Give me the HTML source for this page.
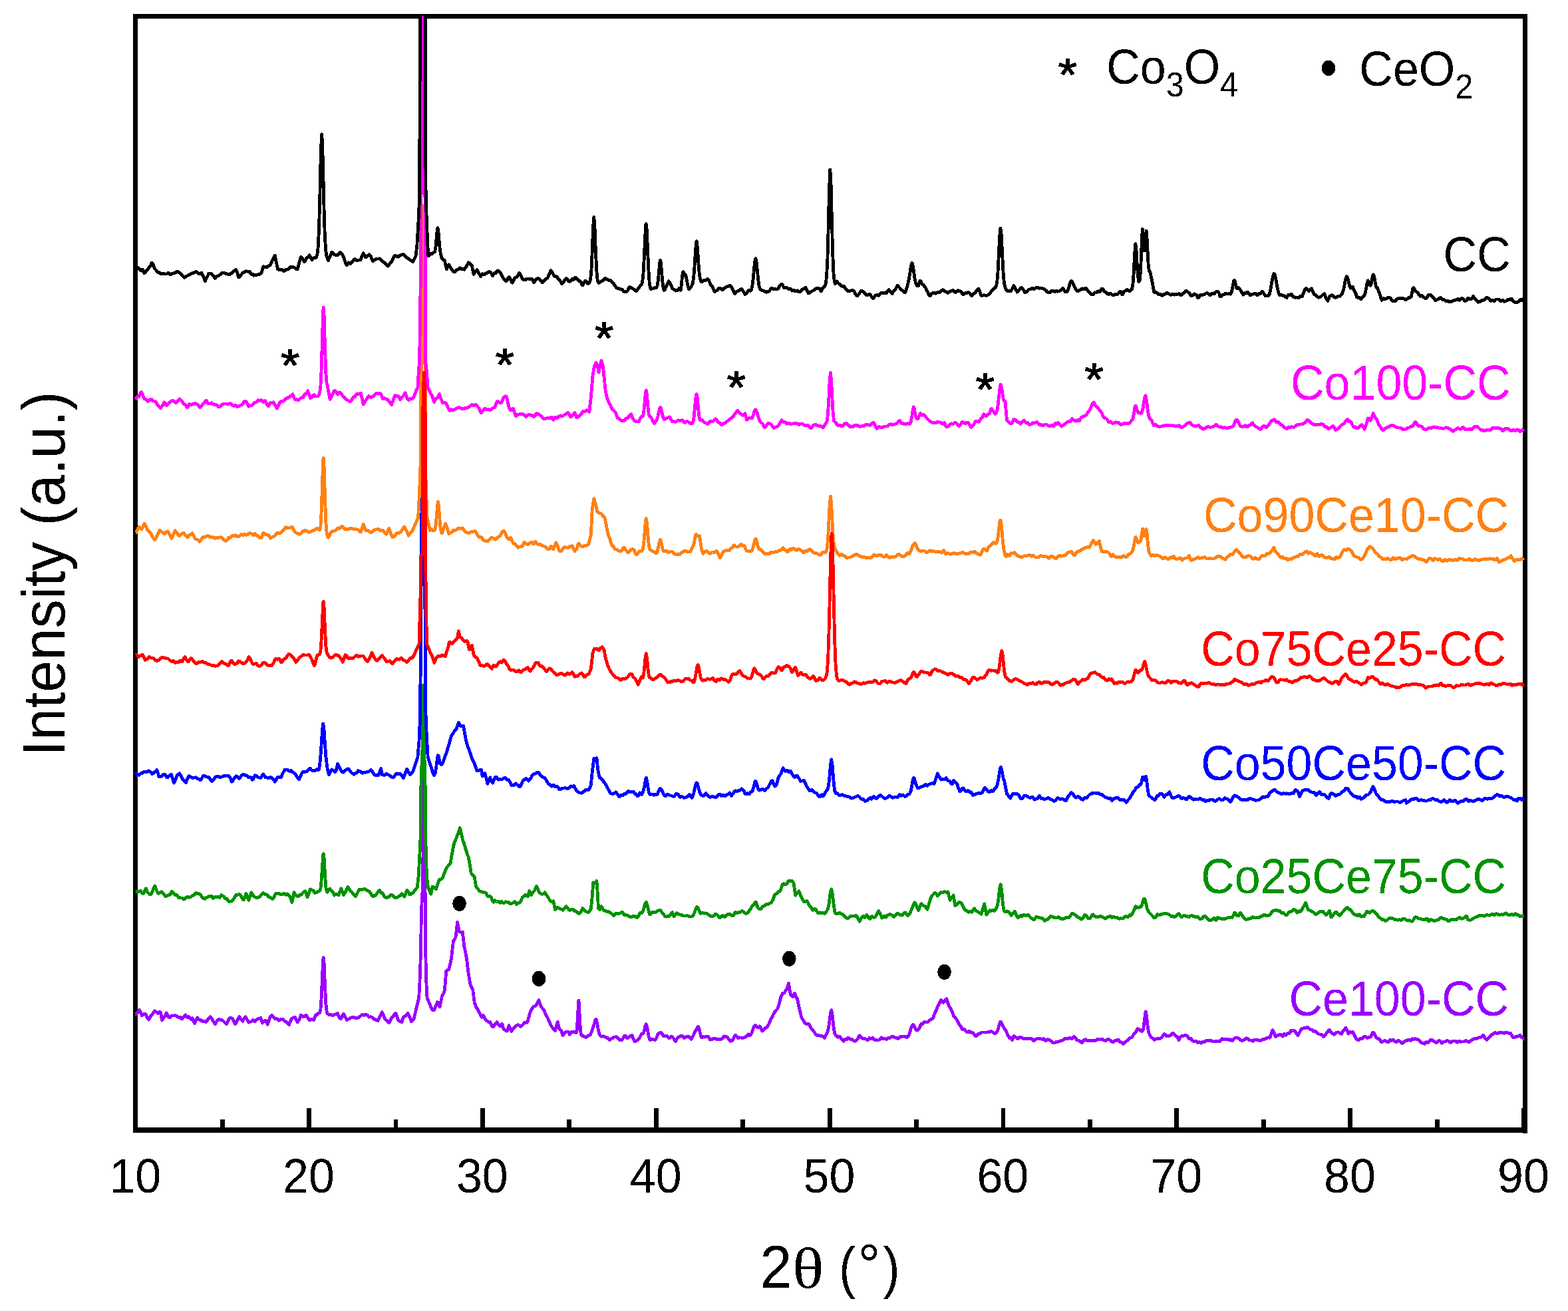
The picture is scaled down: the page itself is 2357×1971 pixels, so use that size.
<!DOCTYPE html>
<html lang="en"><head><meta charset="utf-8"><title>XRD patterns</title>
<style>html,body{margin:0;padding:0;background:#fff}svg{display:block}</style></head>
<body>
<svg width="2357" height="1971" viewBox="0 0 2357 1971">
<rect x="0" y="0" width="2357" height="1971" fill="#fff"/>
<defs><clipPath id="plot"><rect x="198" y="23.7" width="2096" height="1676"/></clipPath><filter id="crisp" x="-5%" y="-5%" width="110%" height="110%" color-interpolation-filters="sRGB"><feComponentTransfer><feFuncA type="discrete" tableValues="0 1"/></feComponentTransfer></filter></defs>
<g fill="#000" shape-rendering="crispEdges">
<rect x="200.26" y="21.00" width="7.0" height="1681.80"/>
<rect x="2289.00" y="21.00" width="7.0" height="1683.20"/>
<rect x="200.26" y="21.00" width="2095.74" height="7.0"/>
<rect x="200.26" y="1695.20" width="2095.74" height="7.6"/>
<rect x="200.31" y="1666.0" width="6.9" height="33.00"/>
<rect x="330.73" y="1683.0" width="6.9" height="16.00"/>
<rect x="461.15" y="1666.0" width="6.9" height="33.00"/>
<rect x="591.57" y="1683.0" width="6.9" height="16.00"/>
<rect x="721.99" y="1666.0" width="6.9" height="33.00"/>
<rect x="852.41" y="1683.0" width="6.9" height="16.00"/>
<rect x="982.83" y="1666.0" width="6.9" height="33.00"/>
<rect x="1113.25" y="1683.0" width="6.9" height="16.00"/>
<rect x="1243.67" y="1666.0" width="6.9" height="33.00"/>
<rect x="1374.09" y="1683.0" width="6.9" height="16.00"/>
<rect x="1504.51" y="1666.0" width="6.9" height="33.00"/>
<rect x="1634.93" y="1683.0" width="6.9" height="16.00"/>
<rect x="1765.35" y="1666.0" width="6.9" height="33.00"/>
<rect x="1895.77" y="1683.0" width="6.9" height="16.00"/>
<rect x="2026.19" y="1666.0" width="6.9" height="33.00"/>
<rect x="2156.61" y="1683.0" width="6.9" height="16.00"/>
<rect x="2287.03" y="1666.0" width="6.9" height="33.00"/>
</g>
<g clip-path="url(#plot)" fill="none" stroke-linejoin="round" stroke-linecap="butt" shape-rendering="crispEdges">
<polyline points="203.8,1525.2 204.1,1525.3 205.1,1524.1 206.4,1522.5 207.7,1520.8 209.0,1518.8 209.3,1518.1 210.3,1519.8 211.6,1522.4 212.9,1526.0 213.1,1526.7 214.2,1526.3 215.5,1525.4 216.8,1524.2 217.0,1523.9 218.1,1524.2 219.4,1525.5 220.7,1528.9 222.0,1531.6 223.3,1532.9 223.4,1533.1 224.6,1531.3 225.9,1528.8 227.2,1526.7 228.5,1525.4 228.6,1525.3 229.8,1523.6 231.1,1521.9 232.4,1519.9 232.4,1519.8 233.7,1520.5 235.0,1521.5 236.3,1522.8 237.6,1523.9 237.6,1523.9 238.9,1522.2 240.2,1521.2 241.4,1521.7 241.5,1521.9 242.8,1530.0 243.5,1533.9 244.1,1533.0 245.4,1531.2 246.7,1529.6 248.0,1527.6 249.3,1524.8 250.4,1522.9 250.6,1523.2 251.9,1526.6 253.2,1529.0 254.5,1529.3 255.6,1529.7 255.8,1529.5 257.1,1527.8 258.4,1526.8 259.7,1527.0 260.7,1526.9 261.0,1526.9 262.3,1526.8 263.6,1526.9 264.9,1527.3 265.9,1527.7 266.2,1528.0 267.5,1529.2 268.8,1529.8 270.1,1529.1 271.4,1529.5 272.3,1531.4 272.7,1531.7 274.0,1531.9 275.3,1529.9 276.6,1528.1 277.9,1526.9 278.7,1526.0 279.2,1526.7 280.5,1528.6 281.8,1529.7 283.1,1528.7 284.4,1528.7 285.1,1530.0 285.7,1530.9 287.0,1532.2 288.3,1531.4 289.0,1530.9 289.6,1532.0 290.9,1535.0 292.2,1537.7 292.9,1538.7 293.5,1536.7 294.8,1533.1 296.1,1530.9 296.7,1529.8 297.4,1530.9 298.7,1532.4 300.0,1533.4 301.3,1533.3 302.6,1533.9 303.1,1534.9 303.9,1535.4 305.2,1536.0 306.5,1535.6 307.8,1535.5 309.1,1536.3 309.6,1536.6 310.4,1535.8 311.7,1533.9 313.0,1532.1 314.3,1530.4 315.6,1529.0 316.0,1528.6 316.9,1529.3 318.2,1530.7 319.5,1533.2 320.8,1535.7 322.1,1538.0 323.4,1539.5 323.7,1539.5 324.7,1537.6 326.0,1535.2 327.3,1533.4 328.6,1532.2 329.9,1532.5 330.1,1532.6 331.2,1533.7 332.5,1533.5 333.8,1533.5 334.0,1533.7 335.1,1534.7 336.4,1535.9 337.7,1537.3 339.0,1538.6 340.3,1539.7 340.4,1539.8 341.6,1537.4 342.9,1534.7 344.2,1531.7 344.3,1531.4 345.5,1530.5 346.8,1530.0 348.1,1531.0 349.4,1531.4 349.4,1531.4 350.7,1533.5 352.0,1536.1 353.3,1539.5 353.3,1539.5 354.6,1538.3 355.9,1535.7 357.2,1533.1 358.5,1530.6 359.7,1528.7 359.8,1528.8 361.1,1530.6 362.4,1532.4 363.7,1534.2 364.9,1535.3 365.0,1535.1 366.3,1532.5 367.6,1530.1 368.7,1528.7 368.9,1528.9 370.2,1530.9 371.5,1533.0 372.8,1535.1 373.9,1537.1 374.1,1537.0 375.4,1536.4 376.7,1536.2 378.0,1535.5 379.3,1534.2 380.3,1533.3 380.6,1533.6 381.9,1535.1 383.2,1535.6 384.5,1534.1 385.4,1533.1 385.8,1532.9 387.1,1532.1 388.4,1531.5 389.7,1531.3 391.0,1530.9 391.9,1530.2 392.3,1531.6 393.6,1535.9 394.4,1538.1 394.9,1537.4 396.2,1535.8 397.5,1535.2 398.8,1534.5 399.6,1534.1 400.1,1535.4 401.4,1538.7 402.1,1540.2 402.7,1538.9 404.0,1535.3 405.3,1531.4 406.6,1528.3 407.9,1527.0 408.6,1526.3 409.2,1527.2 410.5,1528.7 411.8,1530.0 413.1,1531.0 413.7,1531.5 414.4,1531.6 415.7,1531.7 417.0,1532.2 418.3,1533.7 418.9,1534.3 419.6,1534.1 420.9,1533.3 422.2,1532.7 423.5,1532.3 424.8,1532.3 425.3,1532.5 426.1,1533.5 427.4,1534.9 428.7,1535.7 430.0,1536.3 430.4,1536.3 431.3,1537.1 432.6,1538.4 433.9,1540.1 434.3,1540.6 435.2,1538.5 436.5,1535.6 437.8,1532.5 438.1,1531.5 439.1,1530.9 440.4,1530.3 441.7,1529.9 443.0,1529.4 443.3,1529.3 444.3,1530.9 445.6,1533.4 446.9,1536.4 447.1,1537.0 448.2,1535.1 449.5,1533.4 450.8,1530.9 452.1,1526.7 452.3,1526.0 453.4,1526.8 454.7,1527.7 456.0,1528.9 456.1,1529.1 457.3,1528.3 458.6,1527.3 459.9,1526.1 460.0,1526.0 461.2,1527.6 462.5,1530.0 463.8,1532.2 465.1,1533.8 465.1,1533.9 466.4,1533.6 467.7,1532.4 469.0,1531.9 470.3,1533.2 471.6,1533.8 472.9,1530.1 474.2,1527.0 475.4,1525.3 475.5,1525.4 476.8,1525.4 478.1,1523.9 479.4,1522.8 480.6,1522.3 480.7,1522.2 482.0,1516.9 483.3,1497.7 484.6,1465.2 485.9,1441.0 486.2,1439.7 487.2,1449.3 488.5,1481.4 489.8,1508.6 491.1,1520.7 492.1,1523.8 492.4,1524.1 493.7,1525.2 495.0,1525.6 496.3,1525.4 497.3,1525.5 497.6,1525.6 498.9,1526.2 500.2,1526.5 501.5,1526.0 502.8,1525.6 504.1,1524.9 505.4,1524.4 506.7,1523.9 507.6,1523.6 508.0,1524.7 509.3,1528.2 510.6,1530.8 511.9,1531.3 512.7,1531.7 513.2,1530.6 514.5,1527.7 515.8,1525.2 516.6,1524.2 517.1,1525.5 518.4,1528.3 519.7,1530.2 521.0,1532.2 521.7,1533.5 522.3,1533.0 523.6,1532.1 524.9,1531.7 526.2,1531.0 526.9,1530.4 527.5,1530.2 528.8,1529.7 530.1,1529.3 531.4,1529.0 532.0,1529.1 532.7,1529.5 534.0,1530.2 535.3,1530.3 536.6,1530.3 537.9,1530.2 538.4,1530.2 539.2,1529.5 540.5,1528.6 541.8,1527.7 543.1,1526.5 544.4,1525.6 544.9,1525.4 545.7,1525.9 547.0,1526.2 548.3,1525.7 549.6,1525.3 550.0,1525.3 550.9,1525.4 552.2,1526.1 553.5,1528.0 554.8,1529.2 556.1,1528.9 557.4,1528.8 557.7,1528.9 558.7,1528.9 560.0,1529.6 561.3,1531.6 562.6,1532.9 563.9,1532.7 565.2,1533.0 566.5,1534.2 567.8,1535.1 568.0,1535.0 569.1,1532.6 570.4,1529.6 571.7,1526.9 573.0,1524.3 574.3,1521.9 574.4,1521.6 575.6,1524.3 576.9,1527.8 578.2,1531.2 578.3,1531.5 579.5,1532.9 580.8,1534.2 582.1,1535.1 583.4,1536.3 584.7,1537.9 584.7,1538.0 586.0,1535.7 587.3,1532.7 588.6,1530.1 589.9,1528.9 589.9,1528.9 591.2,1527.9 592.5,1525.4 593.8,1523.6 595.0,1523.4 595.1,1523.6 596.4,1527.5 597.7,1531.2 598.9,1534.4 599.0,1534.4 600.3,1535.0 601.6,1535.6 602.9,1536.4 604.0,1536.6 604.2,1536.0 605.5,1531.7 606.8,1528.5 607.9,1528.0 608.1,1528.0 609.4,1527.5 610.7,1526.1 612.0,1524.7 613.0,1523.3 613.3,1524.0 614.6,1527.1 615.9,1529.4 617.2,1532.4 618.1,1535.7 618.5,1535.4 619.8,1534.1 621.1,1532.9 622.0,1531.9 629.7,1500.0 630.9,1478.0 632.5,1432.0 633.4,1370.0 635.0,1341.0 635.4,1300.0 636.0,1287.0 636.1,1164.0 636.1,1164.0 636.0,1287.0 637.6,1300.0 639.1,1341.0 639.6,1370.0 639.7,1432.0 640.9,1478.0 642.0,1500.0 649.0,1516.8 650.3,1518.3 651.6,1519.1 652.8,1518.7 652.9,1518.5 654.2,1514.6 655.5,1511.5 656.8,1508.4 657.5,1506.7 658.1,1507.7 659.4,1510.3 660.7,1513.2 661.1,1514.1 662.0,1509.7 663.3,1503.1 664.4,1497.4 664.6,1497.2 665.9,1495.2 667.2,1492.7 668.3,1489.5 668.5,1486.8 669.8,1471.2 670.8,1459.5 671.1,1459.4 672.4,1458.6 673.7,1458.0 674.7,1457.5 675.0,1456.3 676.3,1450.8 677.6,1445.1 678.6,1440.3 678.9,1437.1 680.2,1425.2 681.5,1415.2 681.6,1414.0 682.8,1413.2 684.1,1410.9 685.0,1409.3 685.4,1405.7 686.7,1393.9 687.6,1386.1 688.0,1388.4 689.3,1395.5 690.1,1400.1 690.6,1400.4 691.9,1401.3 693.2,1401.8 694.5,1401.4 695.3,1401.2 695.8,1405.7 697.1,1416.7 697.8,1423.1 698.4,1425.7 699.7,1432.0 701.0,1438.8 701.7,1442.8 702.3,1448.2 703.6,1459.3 704.3,1464.4 704.9,1467.8 706.2,1475.5 706.8,1479.8 707.5,1481.6 708.8,1484.6 710.1,1486.7 710.7,1487.6 711.4,1493.2 712.7,1503.5 713.3,1508.2 714.0,1509.6 715.3,1512.9 716.6,1515.6 717.1,1515.9 717.9,1517.3 719.2,1519.6 720.5,1522.3 721.0,1523.3 721.8,1524.3 723.1,1527.6 724.4,1529.3 725.7,1527.4 726.1,1526.7 727.0,1527.1 728.3,1530.0 729.6,1532.4 730.9,1533.9 731.6,1534.6 732.2,1535.1 733.5,1535.9 734.8,1536.5 736.1,1536.6 736.7,1536.6 737.4,1537.8 738.7,1541.1 740.0,1543.5 741.3,1543.5 741.9,1543.5 742.6,1542.0 743.9,1540.2 745.2,1538.4 746.5,1537.1 747.0,1536.6 747.8,1537.8 749.1,1539.9 750.4,1541.6 751.7,1542.6 752.1,1542.9 753.0,1541.6 754.3,1540.0 754.7,1539.5 755.6,1542.4 756.9,1546.2 757.3,1547.3 758.2,1547.7 759.5,1548.9 760.8,1549.8 762.1,1550.1 762.4,1550.2 763.4,1546.7 764.7,1542.7 765.0,1541.8 766.0,1544.2 767.3,1547.4 768.6,1550.2 768.9,1550.6 769.9,1548.9 771.2,1547.0 772.5,1545.9 773.8,1544.4 774.0,1544.0 775.1,1542.9 776.4,1541.8 777.7,1541.1 779.0,1540.6 779.1,1540.5 780.3,1541.7 781.6,1542.8 782.9,1543.5 783.0,1543.5 784.2,1542.1 785.5,1541.0 786.8,1539.7 788.1,1537.8 788.1,1537.7 789.4,1537.2 790.7,1537.6 792.0,1537.2 793.3,1535.3 793.3,1535.3 794.6,1530.1 795.9,1525.7 797.1,1521.4 797.2,1521.3 798.5,1518.5 799.8,1516.1 801.1,1514.5 802.3,1513.0 802.4,1513.0 803.7,1513.0 805.0,1512.5 806.1,1511.3 806.3,1510.9 807.6,1507.8 808.9,1505.7 810.0,1503.9 810.2,1504.5 811.5,1508.4 812.8,1512.1 813.9,1514.4 814.1,1514.7 815.4,1515.9 816.7,1517.4 817.7,1518.7 818.0,1519.5 819.3,1523.0 820.6,1526.1 821.9,1528.2 822.9,1529.7 823.2,1530.4 824.5,1533.2 825.8,1536.1 827.1,1539.2 828.0,1541.4 828.4,1542.0 829.7,1544.1 831.0,1545.8 832.3,1546.9 833.6,1548.3 834.4,1549.6 834.9,1547.8 836.2,1543.1 837.5,1538.9 838.3,1536.3 838.8,1538.6 840.1,1544.1 840.9,1547.4 841.4,1547.8 842.7,1548.6 844.0,1550.4 845.3,1554.5 846.0,1556.6 846.6,1556.1 847.9,1554.0 849.2,1552.3 850.5,1551.4 851.1,1551.0 851.8,1551.2 853.1,1550.9 854.4,1551.5 855.7,1554.1 856.3,1555.3 857.0,1554.8 858.3,1552.7 859.6,1551.1 860.1,1550.9 860.9,1551.4 862.2,1552.0 863.5,1551.9 864.8,1552.2 865.3,1552.7 866.1,1552.9 867.4,1547.2 868.7,1522.5 869.9,1504.1 870.0,1504.2 871.3,1527.1 872.6,1550.4 873.9,1556.4 874.3,1556.8 875.2,1557.3 876.5,1557.5 877.8,1558.0 879.1,1559.0 880.4,1559.6 881.7,1559.1 882.0,1558.9 883.0,1557.9 884.3,1556.9 885.6,1556.2 886.9,1556.2 887.1,1556.2 888.2,1553.8 889.5,1550.5 890.8,1546.3 891.0,1545.5 892.1,1543.8 893.4,1539.0 894.7,1533.5 895.6,1532.4 896.0,1532.5 897.3,1536.7 898.6,1543.9 899.9,1551.1 901.2,1555.3 901.3,1555.5 902.5,1557.2 903.8,1558.2 905.1,1558.0 906.4,1557.9 907.7,1558.2 907.7,1558.2 909.0,1558.6 910.3,1559.6 911.6,1560.2 912.9,1560.1 912.9,1560.2 914.2,1560.9 915.5,1562.5 916.7,1563.7 916.8,1563.6 918.1,1562.2 919.4,1561.1 920.7,1561.0 922.0,1560.4 923.1,1559.0 923.3,1559.0 924.6,1559.0 925.9,1558.8 927.2,1559.2 928.3,1560.5 928.5,1560.7 929.8,1562.2 931.1,1563.2 932.4,1563.8 933.7,1563.6 934.7,1563.5 935.0,1563.2 936.3,1561.5 937.6,1559.5 938.6,1557.3 938.9,1557.0 940.2,1557.1 941.5,1559.4 942.8,1560.7 944.1,1560.0 945.4,1559.2 946.3,1558.7 946.7,1558.2 948.0,1557.2 949.3,1557.0 950.1,1556.8 950.6,1557.9 951.9,1561.1 953.2,1564.1 954.0,1565.9 954.5,1565.9 955.8,1565.5 957.1,1564.3 958.4,1563.4 959.1,1563.2 959.7,1562.7 961.0,1561.0 962.3,1558.3 963.6,1555.8 964.3,1554.7 964.9,1554.7 966.2,1554.2 967.5,1552.6 968.8,1547.7 970.1,1541.6 971.2,1539.7 971.4,1539.8 972.7,1543.9 974.0,1551.7 975.3,1559.2 976.6,1563.2 977.9,1563.7 977.9,1563.7 979.2,1562.6 980.5,1562.5 981.8,1562.6 983.1,1563.0 984.4,1563.4 984.9,1563.4 985.7,1562.3 987.0,1560.0 988.3,1556.1 988.7,1554.7 989.6,1553.9 990.9,1553.5 992.2,1552.9 992.6,1552.5 993.5,1552.1 994.8,1553.3 996.1,1555.9 997.4,1557.4 998.7,1557.7 999.0,1557.7 1000.0,1557.7 1001.3,1557.3 1002.6,1557.6 1003.9,1559.3 1005.2,1560.8 1005.4,1561.0 1006.5,1560.6 1007.8,1559.8 1009.1,1558.3 1009.3,1558.0 1010.4,1558.8 1011.7,1560.1 1013.0,1561.8 1014.3,1564.0 1015.6,1565.4 1015.7,1565.4 1016.9,1563.0 1018.2,1560.8 1019.5,1559.7 1020.8,1558.8 1022.1,1558.4 1023.4,1557.7 1023.4,1557.7 1024.7,1557.4 1026.0,1557.7 1027.3,1559.4 1028.6,1560.4 1029.9,1559.8 1031.2,1559.2 1032.5,1558.5 1033.7,1558.1 1033.8,1558.1 1035.1,1558.2 1036.4,1559.0 1037.7,1561.3 1039.0,1562.2 1040.3,1559.9 1041.4,1558.3 1041.6,1558.0 1042.9,1555.2 1044.2,1552.3 1045.3,1549.5 1045.5,1549.5 1046.8,1548.0 1048.1,1544.6 1049.4,1543.0 1049.7,1543.1 1050.7,1545.7 1052.0,1551.5 1053.3,1556.7 1054.3,1559.2 1054.6,1559.4 1055.9,1559.2 1057.2,1558.8 1058.5,1559.2 1059.8,1559.0 1060.7,1558.2 1061.1,1558.3 1062.4,1558.5 1063.7,1558.2 1065.0,1558.9 1066.3,1561.5 1067.1,1563.1 1067.6,1563.1 1068.9,1562.9 1070.2,1562.5 1071.5,1561.8 1072.8,1561.4 1074.1,1561.4 1074.8,1561.4 1075.4,1561.6 1076.7,1562.4 1078.0,1562.9 1079.3,1562.7 1080.6,1562.6 1081.9,1562.6 1082.6,1562.6 1083.2,1562.3 1084.5,1562.3 1085.8,1561.6 1087.1,1559.4 1088.4,1557.9 1089.7,1558.0 1090.3,1558.1 1091.0,1558.7 1092.3,1558.8 1093.6,1559.6 1094.9,1561.7 1096.2,1563.6 1097.5,1564.9 1098.0,1565.4 1098.8,1565.0 1100.1,1564.9 1101.4,1563.9 1102.7,1560.8 1104.0,1558.1 1105.3,1556.6 1105.7,1556.1 1106.6,1557.1 1107.9,1558.8 1109.2,1560.4 1109.6,1560.7 1110.5,1560.3 1111.8,1559.9 1113.1,1560.0 1114.4,1560.2 1115.7,1560.6 1116.0,1560.7 1117.0,1560.4 1118.3,1559.9 1119.6,1559.4 1120.9,1559.2 1122.2,1558.4 1122.4,1558.0 1123.5,1556.0 1124.8,1554.9 1126.1,1556.3 1127.4,1556.9 1128.7,1555.7 1128.8,1555.5 1130.0,1552.9 1131.3,1549.1 1132.6,1545.1 1132.7,1544.7 1133.9,1542.6 1135.2,1541.3 1135.8,1541.8 1136.5,1542.6 1137.8,1544.1 1139.1,1544.8 1140.4,1544.6 1141.7,1543.0 1141.7,1543.0 1143.0,1544.2 1144.3,1547.5 1145.6,1550.2 1145.6,1550.1 1146.9,1548.9 1148.2,1547.7 1149.5,1546.2 1150.8,1545.2 1152.0,1545.1 1152.1,1545.0 1153.4,1543.4 1154.7,1541.4 1156.0,1539.0 1157.1,1536.1 1157.3,1535.7 1158.6,1532.6 1159.9,1530.4 1161.2,1528.0 1162.3,1525.4 1162.5,1524.9 1163.8,1522.7 1165.1,1520.8 1166.4,1519.1 1167.7,1517.8 1168.7,1516.8 1169.0,1516.0 1170.3,1512.0 1171.6,1507.8 1172.9,1502.8 1173.8,1499.2 1174.2,1498.4 1175.5,1495.4 1176.8,1493.3 1178.1,1493.1 1179.0,1493.0 1179.4,1492.2 1180.7,1489.5 1182.0,1487.5 1182.8,1487.4 1183.3,1485.8 1184.6,1481.1 1185.4,1478.1 1185.9,1481.2 1187.2,1489.2 1188.5,1495.6 1188.5,1495.6 1189.8,1496.6 1191.1,1497.8 1191.8,1498.5 1192.4,1497.3 1193.7,1494.5 1194.4,1493.0 1195.0,1494.2 1196.3,1497.7 1197.6,1500.4 1198.3,1500.9 1198.9,1503.6 1200.2,1509.7 1200.8,1513.1 1201.5,1515.9 1202.8,1521.4 1204.1,1526.9 1204.7,1529.4 1205.4,1530.7 1206.7,1532.6 1208.0,1534.7 1209.3,1537.2 1209.8,1538.2 1210.6,1538.6 1211.9,1539.3 1213.2,1539.6 1214.5,1539.2 1215.8,1539.6 1216.3,1540.4 1217.1,1541.8 1218.4,1544.1 1219.7,1546.4 1221.0,1548.3 1222.3,1549.5 1222.7,1549.9 1223.6,1551.1 1224.9,1553.1 1226.2,1554.9 1227.5,1556.2 1227.8,1556.5 1228.8,1556.5 1230.1,1556.6 1231.4,1556.9 1232.7,1557.3 1234.0,1557.2 1234.3,1557.0 1235.3,1557.2 1236.6,1557.9 1237.9,1559.5 1239.2,1560.8 1239.4,1560.9 1240.5,1558.0 1241.8,1555.3 1243.1,1553.8 1244.4,1550.1 1244.6,1549.2 1245.7,1544.1 1247.0,1534.3 1248.3,1523.5 1249.6,1518.6 1249.7,1518.6 1250.9,1524.2 1252.2,1536.4 1253.5,1547.4 1254.8,1553.8 1256.1,1556.1 1256.1,1556.2 1257.4,1557.1 1258.7,1558.5 1258.7,1558.5 1260.0,1559.2 1261.3,1558.5 1262.6,1558.6 1263.9,1560.6 1265.2,1562.1 1265.4,1562.2 1266.5,1563.6 1267.8,1565.1 1268.0,1565.2 1269.1,1563.4 1270.4,1562.1 1271.7,1563.0 1273.0,1562.9 1274.3,1560.5 1274.4,1560.3 1275.6,1560.2 1276.9,1561.7 1278.2,1562.6 1279.5,1562.4 1280.8,1562.7 1280.9,1562.8 1282.1,1563.9 1283.4,1564.8 1284.7,1565.2 1286.0,1565.1 1287.3,1563.9 1288.6,1563.1 1288.6,1563.0 1289.9,1560.4 1291.2,1558.2 1292.4,1557.0 1292.5,1557.1 1293.8,1558.7 1295.1,1560.1 1296.4,1561.1 1297.7,1561.1 1298.9,1561.2 1299.0,1561.2 1300.3,1561.6 1301.6,1562.2 1302.9,1563.5 1304.2,1563.8 1305.3,1562.5 1305.5,1562.1 1306.8,1560.5 1308.1,1561.3 1309.4,1561.6 1310.7,1560.6 1311.7,1560.0 1312.0,1560.4 1313.3,1562.1 1314.6,1563.3 1315.9,1563.3 1317.2,1563.4 1318.5,1563.8 1319.4,1564.1 1319.8,1564.0 1321.1,1563.5 1322.4,1562.7 1323.7,1561.0 1324.6,1559.8 1325.0,1560.2 1326.3,1561.3 1327.6,1562.1 1328.9,1561.8 1330.2,1561.8 1331.5,1562.2 1332.3,1562.5 1332.8,1562.1 1334.1,1561.1 1335.4,1560.5 1336.7,1560.8 1338.0,1560.5 1338.7,1559.7 1339.3,1559.3 1340.6,1558.5 1341.9,1558.5 1342.6,1558.5 1343.2,1558.9 1344.5,1559.6 1345.8,1560.1 1347.1,1560.1 1348.4,1560.6 1349.0,1561.4 1349.7,1561.3 1351.0,1560.9 1352.3,1559.8 1353.6,1558.7 1354.1,1558.3 1354.9,1558.4 1356.2,1558.4 1357.5,1558.1 1358.8,1558.0 1360.1,1558.2 1361.4,1558.6 1362.7,1559.5 1363.1,1559.9 1364.0,1559.2 1365.3,1558.2 1366.6,1555.7 1367.0,1554.1 1367.9,1551.0 1369.2,1546.4 1370.5,1543.3 1371.8,1541.1 1372.1,1540.7 1373.1,1540.6 1374.4,1542.8 1375.7,1546.3 1377.0,1548.6 1378.3,1549.1 1378.6,1549.1 1379.6,1548.4 1380.9,1547.6 1382.2,1545.8 1383.5,1542.0 1383.7,1541.4 1384.8,1539.4 1386.1,1539.6 1387.4,1539.2 1388.7,1537.6 1390.0,1536.3 1390.1,1536.2 1391.3,1536.7 1392.6,1537.0 1393.9,1536.6 1395.2,1536.4 1395.3,1536.4 1396.5,1534.9 1397.8,1533.6 1399.1,1532.8 1400.4,1532.0 1400.4,1532.0 1401.7,1531.5 1403.0,1529.8 1404.3,1525.4 1405.6,1522.5 1405.6,1522.5 1406.9,1519.8 1408.2,1516.7 1409.4,1513.0 1409.5,1512.9 1410.8,1510.8 1412.1,1508.3 1413.4,1505.8 1414.6,1503.6 1414.7,1503.7 1416.0,1505.1 1417.3,1506.2 1418.4,1507.3 1418.6,1507.0 1419.9,1505.0 1421.2,1503.2 1422.5,1502.0 1422.8,1501.7 1423.8,1505.0 1425.1,1508.7 1426.1,1511.6 1426.4,1512.0 1427.7,1514.3 1429.0,1516.6 1430.3,1519.0 1431.3,1520.8 1431.6,1521.7 1432.9,1525.6 1433.8,1528.4 1434.2,1528.7 1435.5,1529.8 1436.8,1531.1 1438.1,1532.9 1439.0,1534.1 1439.4,1535.0 1440.7,1538.0 1441.6,1540.0 1442.0,1540.5 1443.3,1542.0 1444.6,1543.7 1445.9,1546.2 1446.7,1547.8 1447.2,1547.7 1448.5,1547.4 1449.8,1547.7 1451.1,1549.5 1452.4,1551.0 1453.1,1551.4 1453.7,1551.7 1455.0,1551.8 1456.3,1550.7 1457.6,1550.4 1458.9,1551.9 1460.2,1552.7 1460.8,1552.5 1461.5,1552.4 1462.8,1553.0 1464.1,1555.1 1465.4,1556.8 1466.7,1557.5 1467.3,1557.8 1468.0,1557.1 1469.3,1555.6 1470.6,1554.5 1471.9,1554.5 1473.2,1554.0 1473.7,1553.3 1474.5,1552.8 1475.8,1552.1 1477.1,1552.0 1478.4,1551.9 1479.7,1551.9 1481.0,1552.1 1481.4,1552.1 1482.3,1552.1 1483.6,1552.0 1484.9,1551.6 1486.2,1551.3 1487.5,1551.3 1488.8,1551.0 1489.1,1550.8 1490.1,1550.7 1491.4,1551.0 1492.7,1552.3 1494.0,1553.3 1495.3,1553.8 1495.6,1553.9 1496.6,1553.7 1497.9,1552.5 1498.9,1551.3 1499.2,1550.7 1500.5,1546.7 1501.8,1541.4 1503.1,1537.3 1504.0,1536.2 1504.4,1536.1 1505.7,1538.6 1507.0,1542.3 1508.3,1543.7 1508.4,1543.7 1509.6,1546.1 1510.9,1547.9 1512.2,1549.9 1512.3,1550.1 1513.5,1552.9 1514.8,1555.8 1516.1,1558.6 1517.4,1560.4 1517.4,1560.4 1518.7,1559.9 1520.0,1560.6 1521.3,1563.8 1521.3,1563.8 1522.6,1561.5 1523.8,1557.8 1523.9,1557.8 1525.2,1558.3 1526.5,1559.0 1527.8,1560.0 1529.0,1561.7 1529.1,1561.7 1530.4,1561.5 1531.7,1559.9 1533.0,1559.0 1534.3,1559.6 1535.6,1560.1 1536.7,1560.3 1536.9,1560.5 1538.2,1561.4 1539.5,1561.3 1540.8,1561.3 1542.1,1561.2 1543.4,1561.2 1544.7,1561.3 1545.7,1561.5 1546.0,1561.5 1547.3,1561.8 1548.6,1561.8 1549.9,1561.3 1551.2,1561.7 1552.5,1563.8 1553.8,1564.9 1555.1,1563.6 1556.0,1562.7 1556.4,1562.5 1557.7,1562.0 1559.0,1561.6 1560.3,1561.4 1561.6,1561.3 1562.9,1561.5 1564.2,1561.8 1565.5,1562.2 1566.8,1562.4 1568.1,1561.7 1568.8,1561.4 1569.4,1562.0 1570.7,1564.1 1572.0,1565.1 1573.3,1563.7 1574.6,1562.7 1575.9,1562.9 1577.2,1563.2 1578.5,1564.1 1579.1,1564.5 1579.8,1565.2 1581.1,1566.4 1582.4,1567.4 1583.7,1567.9 1585.0,1568.0 1586.3,1567.3 1586.8,1567.0 1587.6,1566.6 1588.9,1566.5 1590.2,1566.3 1591.5,1565.7 1592.8,1565.3 1594.1,1565.0 1594.6,1564.9 1595.4,1564.7 1596.7,1564.3 1598.0,1563.6 1599.3,1562.5 1600.6,1561.6 1601.9,1561.2 1603.2,1561.0 1604.5,1561.7 1605.8,1561.7 1606.1,1561.4 1607.1,1560.5 1608.4,1560.0 1609.7,1561.3 1611.0,1561.7 1612.3,1560.5 1613.6,1559.3 1614.6,1558.4 1614.9,1558.6 1616.2,1559.8 1617.5,1561.8 1618.8,1563.6 1619.0,1563.8 1620.1,1564.1 1621.4,1564.5 1622.7,1565.2 1624.0,1566.0 1625.3,1567.1 1626.6,1567.6 1626.7,1567.5 1627.9,1565.6 1629.2,1563.9 1630.5,1563.1 1631.8,1562.8 1633.1,1563.7 1633.1,1563.8 1634.4,1564.6 1635.7,1564.3 1637.0,1564.1 1638.3,1564.3 1639.6,1564.5 1640.9,1564.7 1642.2,1564.7 1643.4,1564.3 1643.5,1564.3 1644.8,1564.0 1646.1,1564.4 1647.4,1564.3 1648.7,1563.0 1650.0,1562.2 1651.1,1562.6 1651.3,1562.7 1652.6,1563.0 1653.9,1562.6 1655.2,1562.3 1656.5,1562.2 1657.8,1562.5 1659.1,1563.8 1660.4,1564.7 1661.7,1564.8 1663.0,1564.4 1664.0,1563.3 1664.3,1562.9 1665.6,1562.1 1666.9,1562.8 1668.2,1563.6 1669.5,1564.7 1670.8,1565.7 1672.1,1566.3 1673.4,1566.5 1674.3,1565.8 1674.7,1565.4 1676.0,1564.4 1677.3,1564.5 1678.6,1564.2 1679.9,1563.2 1681.2,1563.1 1682.5,1565.4 1683.3,1566.8 1683.8,1567.1 1685.1,1566.8 1686.4,1567.1 1687.7,1568.5 1688.4,1569.3 1689.0,1568.8 1690.3,1567.6 1691.6,1566.5 1692.9,1565.6 1694.2,1564.7 1694.8,1564.0 1695.5,1563.5 1696.8,1562.4 1698.1,1561.0 1699.4,1560.0 1700.7,1560.0 1701.3,1559.9 1702.0,1558.9 1703.3,1556.5 1704.6,1554.5 1705.9,1553.3 1706.4,1552.9 1707.2,1551.9 1708.5,1549.3 1709.8,1547.1 1710.3,1546.7 1711.1,1547.0 1712.4,1547.6 1713.7,1548.7 1715.0,1549.7 1715.4,1549.9 1716.3,1550.5 1717.6,1550.1 1718.9,1545.5 1720.2,1535.3 1721.5,1523.9 1722.4,1520.9 1722.8,1522.1 1724.1,1532.7 1725.4,1545.3 1726.7,1552.2 1728.0,1555.1 1729.3,1557.8 1729.6,1558.3 1730.6,1559.9 1731.9,1560.5 1733.2,1561.4 1734.5,1563.0 1734.7,1563.2 1735.8,1563.2 1737.1,1562.5 1738.4,1561.9 1739.7,1561.4 1741.0,1561.3 1741.1,1561.5 1742.3,1561.5 1743.6,1561.4 1744.9,1560.6 1746.2,1559.6 1747.5,1557.9 1748.8,1556.2 1750.1,1554.8 1750.1,1554.7 1751.4,1555.5 1752.7,1557.1 1754.0,1558.1 1755.3,1558.0 1755.3,1558.0 1756.6,1557.0 1757.9,1557.2 1759.2,1556.8 1760.5,1555.3 1761.8,1554.0 1763.0,1553.4 1763.1,1553.4 1764.4,1554.3 1765.7,1556.0 1767.0,1557.3 1768.3,1557.8 1769.4,1558.5 1769.6,1558.9 1770.9,1561.8 1772.0,1564.0 1772.2,1563.5 1773.5,1560.8 1774.8,1558.6 1775.8,1557.7 1776.1,1557.8 1777.4,1557.9 1778.7,1557.4 1780.0,1556.9 1781.3,1556.7 1782.6,1556.6 1783.6,1556.8 1783.9,1557.0 1785.2,1558.3 1786.5,1560.5 1787.7,1562.0 1787.8,1562.0 1789.1,1561.4 1790.4,1561.5 1791.7,1563.5 1793.0,1565.0 1794.3,1565.6 1795.4,1565.9 1795.6,1565.8 1796.9,1565.0 1798.2,1565.0 1799.5,1566.6 1800.8,1567.5 1802.1,1566.9 1803.4,1566.7 1804.7,1567.7 1805.7,1568.2 1806.0,1568.0 1807.3,1566.8 1808.6,1566.1 1809.9,1566.5 1811.2,1566.3 1812.5,1564.8 1813.8,1563.9 1815.1,1564.6 1816.0,1565.1 1816.4,1564.9 1817.7,1564.4 1819.0,1564.1 1820.3,1564.5 1821.6,1565.0 1822.9,1565.6 1824.2,1566.0 1825.5,1565.9 1826.3,1565.8 1826.8,1565.7 1828.1,1565.3 1829.4,1565.1 1830.7,1565.4 1832.0,1565.6 1833.3,1565.4 1834.0,1565.3 1834.6,1564.7 1835.9,1562.8 1837.2,1561.8 1838.5,1562.6 1839.8,1563.1 1841.1,1562.7 1841.7,1562.6 1842.4,1562.5 1843.7,1561.9 1845.0,1561.9 1846.3,1563.0 1847.6,1563.5 1848.9,1562.8 1850.2,1563.0 1850.7,1563.8 1851.5,1564.4 1852.8,1564.5 1854.1,1562.6 1855.4,1561.1 1856.7,1560.3 1858.0,1559.9 1859.3,1559.9 1859.7,1559.9 1860.6,1560.7 1861.9,1561.0 1863.2,1561.7 1864.5,1563.4 1865.8,1564.5 1867.1,1564.6 1867.4,1564.7 1868.4,1563.8 1869.7,1563.5 1871.0,1562.9 1872.3,1561.7 1873.6,1560.9 1874.9,1561.0 1875.1,1561.1 1876.2,1562.0 1877.5,1563.3 1878.8,1564.1 1880.1,1564.0 1881.4,1564.2 1882.7,1565.1 1882.8,1565.2 1884.0,1565.0 1885.3,1563.8 1886.6,1563.0 1887.9,1563.1 1889.2,1563.2 1890.5,1563.5 1891.8,1563.9 1893.1,1564.6 1893.1,1564.6 1894.4,1564.6 1895.7,1564.0 1897.0,1563.4 1898.3,1562.7 1899.6,1562.2 1900.8,1562.2 1900.9,1562.2 1902.2,1561.9 1903.5,1561.0 1904.8,1560.2 1906.1,1559.9 1907.4,1559.8 1908.6,1560.2 1908.7,1560.0 1910.0,1557.3 1911.3,1553.2 1912.6,1549.6 1913.2,1548.5 1913.9,1550.0 1915.2,1552.9 1916.5,1556.1 1917.6,1558.5 1917.8,1558.3 1919.1,1557.1 1920.4,1556.3 1921.7,1556.4 1923.0,1556.1 1924.0,1555.3 1924.3,1555.2 1925.6,1555.5 1926.9,1557.5 1928.2,1558.2 1929.5,1555.8 1930.8,1554.5 1932.1,1555.6 1933.0,1556.4 1933.4,1555.9 1934.7,1554.5 1936.0,1553.5 1937.3,1553.7 1938.6,1553.2 1939.9,1550.8 1940.7,1549.4 1941.2,1549.4 1942.5,1549.5 1943.8,1549.5 1945.1,1549.4 1946.4,1549.8 1947.1,1550.7 1947.7,1551.9 1949.0,1554.3 1950.3,1555.9 1951.0,1556.7 1951.6,1555.7 1952.9,1553.2 1954.2,1550.7 1955.5,1548.2 1956.1,1547.0 1956.8,1546.6 1958.1,1546.1 1959.4,1545.8 1960.7,1545.9 1962.0,1545.8 1963.3,1545.1 1964.6,1544.4 1965.1,1544.0 1965.9,1544.7 1967.2,1545.8 1968.5,1547.0 1969.8,1547.8 1971.1,1548.1 1971.6,1548.2 1972.4,1548.4 1973.7,1549.8 1975.0,1550.7 1976.3,1550.2 1977.6,1550.2 1978.0,1550.5 1978.9,1551.6 1980.2,1553.0 1981.5,1554.2 1982.8,1555.0 1984.1,1555.1 1985.4,1555.4 1985.7,1555.6 1986.7,1555.7 1988.0,1556.4 1989.3,1558.1 1989.6,1558.5 1990.6,1558.0 1991.9,1556.3 1993.2,1554.5 1994.5,1552.5 1994.7,1552.2 1995.8,1551.1 1997.1,1549.3 1998.4,1548.5 1999.7,1550.1 1999.8,1550.3 2001.0,1552.1 2002.3,1553.2 2003.6,1554.2 2004.9,1555.2 2005.0,1555.3 2006.2,1554.8 2007.5,1553.4 2008.8,1552.4 2010.1,1552.1 2011.4,1551.9 2011.4,1551.9 2012.7,1552.4 2014.0,1553.0 2015.3,1554.2 2016.6,1554.7 2016.6,1554.6 2017.9,1551.7 2019.2,1549.3 2020.5,1548.3 2021.8,1547.0 2023.0,1545.0 2023.1,1545.1 2024.4,1547.8 2025.7,1551.3 2026.8,1554.1 2027.0,1553.9 2028.3,1552.2 2029.6,1551.3 2030.9,1552.0 2032.2,1552.2 2033.3,1551.3 2033.5,1551.6 2034.8,1553.9 2036.1,1556.6 2037.4,1559.5 2038.4,1561.9 2038.7,1562.1 2040.0,1562.8 2041.3,1563.5 2042.6,1563.5 2043.9,1561.9 2044.8,1560.9 2045.2,1561.0 2046.5,1561.4 2047.8,1561.3 2049.1,1559.7 2050.0,1558.6 2050.4,1558.5 2051.7,1558.2 2053.0,1558.4 2054.3,1559.8 2055.6,1560.5 2056.4,1560.1 2056.9,1559.8 2058.2,1559.2 2059.5,1559.2 2060.8,1557.9 2062.1,1554.9 2063.4,1552.6 2064.1,1552.3 2064.7,1552.4 2066.0,1553.9 2067.3,1557.0 2068.6,1559.6 2069.9,1561.1 2071.2,1561.5 2071.8,1561.1 2072.5,1561.5 2073.8,1562.7 2075.1,1564.7 2076.4,1566.4 2077.0,1566.8 2077.7,1566.3 2079.0,1565.4 2080.3,1564.8 2081.6,1564.5 2082.9,1565.2 2084.2,1565.9 2085.5,1566.9 2086.8,1567.0 2088.1,1564.7 2088.6,1563.9 2089.4,1563.4 2090.7,1564.3 2092.0,1564.6 2093.3,1563.7 2094.6,1563.5 2095.9,1564.8 2097.2,1565.9 2098.5,1566.4 2099.8,1566.3 2101.1,1564.9 2101.4,1564.5 2102.4,1564.3 2103.7,1565.2 2105.0,1566.2 2106.3,1567.6 2107.6,1568.4 2108.9,1567.8 2109.1,1567.7 2110.2,1566.8 2111.5,1565.7 2112.8,1564.9 2114.1,1564.5 2115.4,1564.1 2116.7,1563.3 2116.8,1563.2 2118.0,1562.9 2119.3,1564.1 2120.6,1564.4 2121.9,1562.8 2123.2,1561.8 2124.5,1562.3 2125.8,1562.4 2127.1,1561.7 2127.1,1561.6 2128.4,1562.2 2129.7,1562.2 2131.0,1562.5 2132.3,1563.5 2132.3,1563.5 2133.6,1564.6 2134.9,1566.2 2136.2,1567.4 2137.5,1567.7 2138.8,1568.2 2140.1,1569.0 2141.3,1569.5 2141.4,1569.3 2142.7,1567.5 2144.0,1566.6 2145.3,1567.7 2146.6,1568.0 2147.9,1566.2 2149.2,1564.6 2150.3,1563.4 2150.5,1563.2 2151.8,1562.9 2153.1,1564.0 2154.4,1565.0 2155.7,1565.6 2157.0,1566.4 2158.3,1567.5 2159.6,1567.8 2160.6,1566.6 2160.9,1566.2 2162.2,1565.0 2163.5,1564.4 2164.8,1564.8 2166.1,1567.1 2167.4,1568.3 2168.7,1567.1 2170.0,1566.3 2171.3,1566.1 2172.6,1565.8 2173.4,1565.5 2173.9,1565.3 2175.2,1564.8 2176.5,1564.8 2177.8,1565.3 2179.1,1566.8 2180.4,1567.5 2181.7,1566.3 2183.0,1565.4 2184.3,1565.1 2185.6,1564.9 2186.3,1564.9 2186.9,1564.9 2188.2,1565.3 2189.5,1566.7 2190.8,1567.2 2192.1,1565.8 2193.4,1565.0 2194.7,1565.8 2196.0,1566.3 2197.3,1566.1 2198.6,1565.9 2199.9,1565.9 2201.2,1565.6 2201.7,1565.4 2202.5,1564.8 2203.8,1564.4 2205.1,1565.3 2206.4,1566.0 2207.7,1566.4 2209.0,1566.3 2210.3,1565.0 2211.6,1563.9 2212.9,1563.2 2214.2,1562.5 2214.6,1562.4 2215.5,1561.8 2216.8,1561.4 2218.1,1561.8 2219.4,1561.8 2220.7,1561.0 2222.0,1560.2 2222.3,1560.1 2223.3,1559.9 2224.6,1559.5 2225.9,1559.2 2227.2,1558.5 2228.5,1557.1 2229.8,1556.5 2230.0,1556.6 2231.1,1559.0 2232.4,1561.2 2233.7,1562.1 2235.0,1563.1 2235.1,1563.2 2236.3,1561.8 2237.6,1560.2 2238.9,1559.0 2240.2,1557.9 2241.5,1556.9 2242.8,1555.6 2242.8,1555.5 2244.1,1554.7 2245.4,1553.8 2246.7,1552.9 2248.0,1552.6 2249.3,1553.6 2250.6,1553.9 2250.6,1553.9 2251.9,1553.2 2253.2,1552.7 2254.5,1552.9 2255.7,1552.9 2255.8,1552.9 2257.1,1552.2 2258.4,1552.1 2259.7,1553.0 2261.0,1553.4 2262.3,1552.7 2263.4,1552.2 2263.6,1552.2 2264.9,1552.4 2266.2,1552.7 2267.5,1553.1 2268.8,1553.3 2269.8,1553.0 2270.1,1553.2 2271.4,1554.9 2272.7,1557.1 2274.0,1559.1 2275.0,1560.0 2275.3,1559.8 2276.6,1559.3 2277.9,1558.7 2279.2,1558.3 2280.5,1558.2 2281.4,1558.2 2281.8,1558.0 2283.1,1557.1 2284.4,1556.6 2285.3,1556.6 2285.7,1557.3 2287.0,1559.0 2288.3,1559.9 2289.6,1560.8 2290.4,1561.5 2290.5,1561.4" stroke="#9900FF" stroke-width="4.8"/>
<polyline points="203.8,1340.1 204.1,1340.0 205.1,1340.4 206.4,1340.8 207.7,1341.0 208.0,1341.0 209.0,1340.4 210.3,1339.3 211.6,1339.3 212.9,1341.5 214.2,1343.1 215.5,1343.2 215.7,1343.2 216.8,1341.4 218.1,1337.9 219.4,1335.7 219.6,1335.7 220.7,1339.1 222.0,1342.0 223.3,1342.6 224.6,1344.2 224.7,1344.7 225.9,1345.0 227.2,1344.4 228.5,1341.4 229.8,1338.7 229.9,1338.5 231.1,1335.5 232.4,1332.7 232.9,1331.9 233.7,1334.3 235.0,1338.0 236.3,1340.5 237.6,1343.3 237.6,1343.3 238.9,1342.7 240.2,1342.0 241.5,1341.3 242.7,1340.6 242.8,1340.7 244.1,1341.8 245.4,1343.2 246.7,1345.0 248.0,1346.7 249.1,1348.0 249.3,1347.9 250.6,1347.1 251.9,1346.1 253.2,1345.5 254.5,1345.7 255.8,1344.9 257.1,1342.1 258.1,1340.2 258.4,1340.4 259.7,1341.8 261.0,1343.2 262.3,1344.8 263.6,1345.8 264.6,1345.4 264.9,1345.2 266.2,1345.5 267.5,1348.0 268.8,1349.7 270.1,1349.8 271.4,1349.9 272.3,1349.9 272.7,1349.9 274.0,1350.3 275.3,1351.4 276.6,1352.2 277.4,1352.1 277.9,1351.6 279.2,1350.2 280.5,1348.8 281.8,1348.1 283.1,1348.8 283.9,1349.3 284.4,1349.2 285.7,1348.9 287.0,1348.3 288.3,1347.3 289.6,1346.4 290.9,1345.9 292.2,1345.0 292.9,1344.0 293.5,1343.3 294.8,1342.5 296.1,1343.2 297.4,1343.7 298.7,1343.8 300.0,1344.0 300.6,1344.2 301.3,1345.1 302.6,1347.0 303.9,1349.0 305.2,1350.4 306.5,1350.5 307.8,1350.9 308.3,1351.3 309.1,1350.5 310.4,1349.4 311.7,1349.2 313.0,1348.5 313.4,1347.8 314.3,1347.6 315.6,1347.3 316.9,1346.9 318.2,1347.3 319.5,1349.4 320.8,1350.6 321.1,1350.3 322.1,1349.4 323.4,1348.5 324.7,1348.7 326.0,1348.7 327.3,1348.4 328.6,1348.5 329.9,1349.4 330.1,1349.6 331.2,1348.1 332.5,1346.0 332.7,1345.6 333.8,1346.6 335.1,1346.9 336.4,1347.7 337.7,1349.5 339.0,1351.0 339.1,1351.1 340.3,1351.1 341.6,1351.7 342.9,1354.0 344.2,1355.6 345.5,1355.6 346.8,1355.2 348.1,1354.4 349.4,1354.1 349.4,1354.2 350.7,1352.4 352.0,1350.4 353.3,1348.1 354.6,1345.6 354.6,1345.5 355.9,1345.5 357.2,1345.3 358.5,1344.8 359.8,1344.6 361.0,1345.2 361.1,1345.3 362.4,1347.4 363.7,1349.6 365.0,1351.6 366.1,1352.9 366.3,1352.6 367.6,1349.6 368.9,1346.2 370.0,1343.5 370.2,1344.0 371.5,1348.0 372.8,1351.5 373.9,1353.4 374.1,1352.8 375.4,1348.7 376.7,1344.7 377.7,1341.8 378.0,1342.3 379.3,1344.5 380.6,1346.4 381.9,1347.7 383.2,1348.6 384.5,1349.1 385.4,1349.4 385.8,1349.4 387.1,1349.3 388.4,1349.1 389.7,1348.6 391.0,1347.7 392.3,1346.1 393.6,1344.6 394.9,1343.2 395.7,1342.3 396.2,1342.7 397.5,1344.0 398.8,1344.8 400.1,1344.8 401.4,1345.3 402.7,1347.1 403.4,1348.1 404.0,1348.4 405.3,1348.9 406.6,1349.5 407.9,1350.2 409.2,1351.0 409.9,1351.6 410.5,1351.1 411.8,1349.3 413.1,1345.7 414.4,1343.3 415.7,1343.6 416.3,1343.7 417.0,1344.0 418.3,1343.3 419.6,1343.3 420.9,1344.3 422.2,1345.0 423.5,1344.8 424.0,1344.8 424.8,1344.4 426.1,1343.6 427.4,1343.5 428.7,1344.7 430.0,1345.2 431.3,1344.2 431.7,1343.8 432.6,1344.3 433.9,1346.0 435.2,1347.2 435.6,1347.2 436.5,1349.5 437.8,1353.0 438.9,1356.6 439.1,1355.8 440.4,1349.5 441.7,1343.4 442.0,1341.8 443.0,1343.1 444.3,1345.3 445.6,1346.9 446.9,1347.2 448.2,1347.5 448.4,1347.7 449.5,1346.5 450.8,1345.4 452.1,1345.5 453.4,1344.9 454.7,1342.8 454.9,1342.5 456.0,1341.5 457.3,1340.8 458.6,1340.1 458.7,1340.0 459.9,1342.7 461.2,1346.1 462.1,1349.0 462.5,1348.1 463.8,1344.7 465.1,1340.9 466.4,1336.9 466.4,1336.7 467.7,1337.4 469.0,1338.1 470.3,1338.6 471.6,1339.7 472.9,1342.2 472.9,1342.2 474.2,1342.4 475.5,1341.9 476.8,1341.2 478.0,1340.3 478.1,1340.3 479.4,1340.0 480.7,1339.0 482.0,1334.9 483.3,1322.6 484.6,1300.9 485.9,1284.6 486.2,1283.7 487.2,1290.8 488.5,1313.9 489.8,1333.0 491.1,1340.2 492.1,1341.4 492.4,1341.1 493.7,1338.5 495.0,1336.4 496.0,1336.2 496.3,1336.8 497.6,1338.9 498.9,1339.5 500.2,1340.9 501.5,1344.0 502.4,1346.1 502.8,1345.8 504.1,1344.6 505.4,1344.0 506.7,1344.6 508.0,1345.3 508.9,1345.8 509.3,1344.8 510.6,1341.4 511.9,1338.0 512.7,1335.8 513.2,1337.0 514.5,1340.3 515.8,1343.6 516.6,1345.8 517.1,1344.9 518.4,1342.5 519.7,1340.0 521.0,1337.4 522.3,1334.9 523.0,1333.4 523.6,1334.4 524.9,1336.7 526.2,1338.8 526.9,1339.6 527.5,1340.0 528.8,1341.1 530.1,1342.8 531.4,1344.4 532.7,1345.6 534.0,1346.9 534.6,1347.5 535.3,1346.2 536.6,1343.7 537.9,1341.1 539.2,1338.6 539.7,1337.6 540.5,1337.6 541.8,1337.6 543.1,1337.8 544.4,1337.8 545.7,1337.1 547.0,1336.6 548.3,1336.7 548.7,1336.7 549.6,1337.4 550.9,1338.3 552.2,1339.0 553.5,1339.4 554.8,1340.0 555.1,1340.2 556.1,1341.6 557.4,1343.6 558.7,1345.7 560.0,1347.4 561.3,1347.9 561.6,1348.0 562.6,1346.6 563.9,1346.5 565.2,1345.7 566.5,1343.3 566.7,1342.9 567.8,1341.7 569.1,1339.3 570.4,1338.5 571.7,1340.9 573.0,1342.2 573.1,1342.1 574.3,1342.4 575.6,1343.5 576.9,1346.4 578.2,1348.5 579.5,1348.8 580.8,1349.6 580.9,1349.8 582.1,1349.3 583.4,1348.7 584.7,1348.3 586.0,1347.3 587.3,1345.3 587.3,1345.3 588.6,1345.4 589.9,1346.1 591.2,1346.9 592.5,1348.3 593.7,1349.7 593.8,1349.7 595.1,1349.8 596.4,1349.6 597.7,1348.6 599.0,1347.8 600.3,1347.2 601.6,1346.3 602.9,1344.8 604.0,1343.7 604.2,1343.8 605.5,1345.2 606.8,1346.7 607.9,1348.1 608.1,1347.6 609.4,1344.8 610.7,1341.4 611.7,1338.6 612.0,1338.9 613.3,1340.2 614.6,1342.0 615.6,1344.5 615.9,1344.7 617.2,1344.8 618.5,1343.6 619.8,1342.7 620.7,1342.3 627.2,1334.0 629.1,1318.0 630.8,1287.0 631.9,1264.0 632.4,1200.0 633.5,1160.0 634.9,1128.0 635.2,1089.0 635.6,1060.0 636.1,1030.0 636.1,1030.0 636.6,1060.0 637.0,1089.0 637.6,1128.0 638.7,1160.0 639.5,1200.0 639.9,1264.0 640.5,1287.0 641.5,1318.0 643.4,1334.0 647.7,1344.2 649.0,1338.6 650.3,1333.1 650.3,1333.1 651.6,1333.6 652.9,1334.3 654.2,1335.6 655.4,1336.5 655.5,1336.3 656.8,1332.4 658.1,1328.6 659.4,1325.2 660.6,1322.4 660.7,1322.4 662.0,1322.4 663.3,1322.0 664.6,1320.5 665.7,1319.2 665.9,1318.6 667.2,1314.8 668.5,1311.2 669.8,1308.0 670.8,1305.4 671.1,1305.1 672.4,1303.3 673.7,1301.7 675.0,1300.4 676.3,1298.8 677.3,1297.0 677.6,1294.8 678.9,1286.6 680.2,1279.9 681.5,1272.6 681.6,1271.7 682.8,1268.0 684.1,1264.2 685.4,1261.2 686.3,1259.2 686.7,1258.1 688.0,1254.7 689.3,1251.1 690.6,1247.1 691.4,1244.6 691.9,1246.7 693.2,1252.4 694.5,1258.2 695.3,1262.0 695.8,1263.3 697.1,1266.8 698.4,1271.4 699.7,1275.6 700.4,1277.4 701.0,1279.5 702.3,1283.8 703.6,1287.2 704.3,1288.9 704.9,1292.3 706.2,1299.9 707.5,1307.9 708.1,1312.1 708.8,1313.5 710.1,1315.5 711.4,1316.1 712.7,1317.3 713.3,1318.5 714.0,1323.2 715.3,1330.9 715.8,1333.5 716.6,1334.1 717.9,1335.4 719.2,1337.6 720.5,1339.6 721.0,1340.0 721.8,1340.1 723.1,1340.4 724.4,1340.9 725.7,1341.3 727.0,1341.5 727.4,1341.5 728.3,1341.8 729.6,1342.1 730.3,1342.3 730.9,1343.1 732.2,1345.8 733.5,1347.7 734.8,1347.8 736.1,1347.6 736.7,1347.4 737.4,1348.1 738.7,1350.1 740.0,1353.4 741.3,1355.9 741.9,1356.2 742.6,1354.9 743.9,1353.7 745.2,1355.0 746.5,1355.5 747.0,1355.0 747.8,1354.9 749.1,1355.3 750.4,1356.8 751.7,1357.3 753.0,1355.7 754.3,1355.5 754.7,1356.3 755.6,1357.3 756.9,1357.9 758.2,1357.0 759.5,1356.0 759.9,1355.7 760.8,1356.0 762.1,1356.3 763.4,1356.3 764.7,1356.7 766.0,1358.3 766.3,1358.6 767.3,1358.8 768.6,1358.6 769.9,1358.1 771.2,1357.3 772.5,1356.6 773.8,1355.9 774.0,1355.8 775.1,1357.2 776.4,1359.4 776.6,1359.6 777.7,1358.7 779.0,1357.8 780.3,1357.1 781.6,1356.8 781.7,1356.8 782.9,1354.7 784.2,1351.7 785.5,1348.8 785.6,1348.7 786.8,1348.1 788.1,1347.3 789.4,1345.6 789.4,1345.6 790.7,1346.4 792.0,1346.8 793.3,1347.8 793.3,1347.8 794.6,1343.7 795.9,1339.5 795.9,1339.6 797.2,1342.6 798.4,1345.6 798.5,1345.5 799.8,1343.5 801.1,1341.6 802.3,1340.2 802.4,1340.2 803.7,1338.7 805.0,1335.8 806.3,1333.1 806.6,1332.5 807.6,1334.6 808.9,1337.7 810.0,1340.7 810.2,1341.0 811.5,1342.3 812.8,1343.3 813.9,1344.1 814.1,1344.1 815.4,1344.3 816.7,1344.0 818.0,1342.8 819.0,1341.9 819.3,1342.3 820.6,1344.1 821.9,1346.0 822.9,1347.4 823.2,1347.9 824.5,1350.0 825.8,1352.4 827.1,1354.4 828.0,1355.3 828.4,1355.3 829.7,1355.3 831.0,1355.0 831.9,1354.8 832.3,1356.9 833.6,1363.3 834.4,1367.4 834.9,1367.0 836.2,1365.4 837.5,1364.4 838.8,1364.6 839.6,1364.8 840.1,1365.2 841.4,1366.0 842.7,1366.6 844.0,1366.9 845.3,1367.5 846.0,1368.2 846.6,1367.7 847.9,1366.4 849.2,1364.9 850.5,1363.3 851.1,1362.6 851.8,1363.5 853.1,1365.2 854.4,1366.9 855.7,1368.4 856.3,1368.8 857.0,1368.4 858.3,1367.6 859.6,1367.0 860.9,1366.9 861.4,1367.3 862.2,1368.5 863.5,1369.8 864.8,1369.6 866.1,1369.9 866.6,1370.4 867.4,1371.5 868.7,1372.9 870.0,1373.3 870.4,1373.5 871.3,1372.4 872.6,1371.9 873.9,1370.4 875.2,1366.7 875.6,1365.6 876.5,1366.1 877.8,1367.3 879.1,1369.0 879.4,1369.7 880.4,1370.2 881.7,1370.8 883.0,1371.4 884.3,1371.9 884.6,1371.9 885.6,1370.6 886.9,1368.7 888.2,1366.4 888.4,1366.0 889.5,1355.0 890.5,1344.7 890.8,1340.2 891.8,1326.6 892.1,1326.7 893.4,1327.3 894.7,1327.2 896.0,1325.5 896.9,1324.4 897.3,1329.8 898.2,1342.1 898.6,1349.5 899.5,1365.6 899.9,1366.1 901.2,1367.7 901.3,1367.8 902.5,1364.9 903.8,1362.7 903.9,1362.6 905.1,1364.9 906.4,1367.0 907.7,1368.7 909.0,1369.5 909.0,1369.5 910.3,1369.5 911.6,1370.3 912.9,1370.8 914.2,1370.8 915.4,1370.9 915.5,1370.9 916.8,1371.8 918.1,1372.7 919.4,1373.8 920.7,1375.1 921.9,1376.6 922.0,1376.6 923.3,1376.2 924.6,1374.6 925.7,1373.4 925.9,1373.4 927.2,1373.2 928.5,1373.1 929.8,1373.3 931.1,1373.3 932.4,1372.8 933.7,1372.2 934.7,1371.4 935.0,1371.3 936.3,1372.0 937.6,1374.4 938.9,1375.9 940.2,1375.4 941.1,1375.2 941.5,1375.4 942.8,1376.2 944.1,1376.9 945.4,1377.5 946.7,1378.3 947.6,1379.0 948.0,1379.0 949.3,1378.8 950.6,1378.0 951.9,1377.4 953.2,1377.4 954.5,1377.6 955.3,1377.9 955.8,1378.6 957.1,1379.6 958.4,1378.8 959.1,1378.4 959.7,1377.1 961.0,1374.5 962.3,1372.6 963.6,1372.5 964.3,1372.3 964.9,1372.3 966.2,1370.3 967.5,1366.7 968.8,1361.9 970.1,1357.5 971.2,1356.2 971.4,1356.3 972.7,1359.5 974.0,1365.0 975.3,1370.4 976.6,1374.5 976.6,1374.6 977.9,1374.7 979.2,1372.7 980.5,1371.1 981.8,1371.0 982.3,1371.0 983.1,1371.4 984.4,1371.5 985.7,1371.3 987.0,1370.5 987.4,1370.2 988.3,1369.5 989.6,1369.0 990.9,1368.6 992.2,1368.2 992.6,1368.0 993.5,1369.5 994.8,1371.4 996.1,1373.2 997.4,1374.5 998.7,1376.3 999.0,1376.9 1000.0,1377.7 1001.3,1378.2 1002.6,1377.8 1003.9,1377.5 1005.2,1377.6 1006.5,1377.1 1007.8,1375.4 1008.0,1375.2 1009.1,1372.9 1010.4,1371.8 1010.6,1371.7 1011.7,1374.6 1013.0,1377.6 1013.1,1377.9 1014.3,1376.4 1015.6,1374.3 1016.9,1372.5 1017.0,1372.4 1018.2,1373.5 1019.5,1374.4 1020.8,1374.6 1022.1,1375.0 1023.4,1375.6 1023.4,1375.6 1024.7,1375.7 1026.0,1376.3 1027.3,1376.8 1028.6,1377.0 1029.9,1377.0 1031.1,1376.9 1031.2,1376.9 1032.5,1376.8 1033.8,1376.9 1035.1,1377.2 1036.4,1377.9 1037.7,1378.2 1039.0,1377.9 1040.1,1377.6 1040.3,1377.5 1041.6,1376.6 1042.9,1374.6 1044.2,1371.3 1045.5,1367.3 1046.8,1364.3 1047.3,1363.7 1048.1,1363.7 1049.4,1365.4 1050.7,1368.4 1052.0,1371.7 1053.3,1373.2 1054.3,1372.4 1054.6,1372.3 1055.9,1372.1 1057.2,1372.9 1058.5,1373.2 1059.4,1372.8 1059.8,1372.9 1061.1,1373.0 1062.4,1373.5 1063.7,1374.2 1064.6,1374.9 1065.0,1375.1 1066.3,1375.9 1067.6,1377.0 1068.9,1377.8 1070.2,1377.7 1071.0,1377.7 1071.5,1377.4 1072.8,1376.9 1074.1,1375.8 1074.8,1374.4 1075.4,1374.4 1076.7,1374.6 1078.0,1375.4 1079.3,1376.5 1080.6,1378.7 1081.9,1380.0 1082.6,1379.7 1083.2,1378.8 1084.5,1377.4 1085.8,1376.7 1087.1,1376.7 1088.4,1378.2 1089.7,1378.6 1090.3,1377.7 1091.0,1376.7 1092.3,1375.3 1093.6,1374.8 1094.9,1374.2 1095.4,1373.9 1096.2,1373.9 1097.5,1374.2 1098.8,1375.5 1100.1,1376.5 1101.4,1376.6 1102.7,1376.1 1103.1,1375.4 1104.0,1373.4 1105.3,1371.5 1106.6,1372.3 1107.9,1372.7 1109.2,1372.1 1110.5,1371.6 1110.8,1371.4 1111.8,1371.6 1113.1,1371.4 1114.4,1370.2 1115.7,1369.6 1117.0,1370.4 1118.3,1371.3 1118.6,1371.5 1119.6,1372.6 1120.9,1373.5 1122.2,1373.3 1123.5,1372.8 1124.8,1371.7 1125.0,1371.5 1126.1,1369.2 1127.4,1367.9 1128.7,1366.1 1130.0,1362.8 1130.1,1362.4 1131.3,1361.5 1132.6,1361.0 1133.9,1359.3 1135.2,1356.3 1135.3,1356.2 1136.5,1356.4 1137.8,1361.0 1139.1,1364.7 1140.4,1365.9 1141.7,1366.6 1143.0,1366.7 1144.3,1366.0 1145.6,1363.9 1146.8,1362.5 1146.9,1362.5 1148.2,1362.3 1149.5,1361.7 1150.8,1360.4 1152.1,1359.6 1153.3,1359.8 1153.4,1359.8 1154.7,1359.6 1156.0,1358.6 1157.1,1357.9 1157.3,1357.8 1158.6,1357.3 1159.9,1356.2 1161.2,1353.9 1162.3,1351.7 1162.5,1351.1 1163.8,1347.2 1165.1,1344.4 1166.4,1344.1 1167.4,1343.7 1167.7,1343.4 1169.0,1342.0 1170.3,1340.8 1171.6,1340.0 1172.6,1339.5 1172.9,1338.6 1174.2,1335.4 1175.5,1331.9 1176.4,1329.1 1176.8,1328.9 1178.1,1328.8 1179.4,1329.5 1180.3,1330.0 1180.7,1329.8 1182.0,1329.2 1183.3,1327.9 1184.1,1326.1 1184.6,1325.5 1185.9,1324.2 1187.2,1324.2 1188.0,1324.2 1188.5,1324.2 1189.8,1324.1 1191.1,1324.7 1192.4,1326.7 1193.1,1327.9 1193.7,1332.0 1195.0,1341.2 1195.7,1346.1 1196.3,1345.4 1197.6,1343.7 1198.9,1342.1 1200.2,1340.4 1200.8,1339.6 1201.5,1341.1 1202.8,1344.4 1204.1,1347.7 1204.7,1349.2 1205.4,1350.5 1206.7,1352.7 1208.0,1354.8 1208.6,1355.7 1209.3,1355.6 1210.6,1355.5 1211.9,1355.0 1212.4,1354.4 1213.2,1355.3 1214.5,1357.1 1215.8,1359.8 1216.3,1360.8 1217.1,1361.8 1218.4,1363.3 1219.7,1365.1 1221.0,1367.5 1221.4,1368.3 1222.3,1368.4 1223.6,1367.0 1224.9,1366.4 1226.2,1367.2 1226.6,1367.5 1227.5,1369.2 1228.8,1371.4 1230.1,1373.0 1230.4,1373.1 1231.4,1372.4 1232.7,1371.9 1234.0,1372.3 1235.3,1372.7 1235.6,1372.8 1236.6,1372.5 1237.9,1372.6 1239.2,1373.7 1239.4,1373.8 1240.5,1373.2 1241.8,1371.2 1243.1,1368.8 1243.3,1368.4 1244.4,1366.7 1245.7,1361.5 1247.0,1351.8 1248.3,1341.1 1249.6,1336.8 1249.7,1336.8 1250.9,1341.8 1252.2,1352.1 1253.5,1362.6 1254.8,1370.5 1254.8,1370.6 1256.1,1373.7 1257.4,1374.0 1258.7,1374.0 1260.0,1373.2 1261.3,1372.6 1262.6,1372.7 1262.9,1372.8 1263.9,1374.0 1265.2,1374.1 1266.5,1374.6 1267.8,1376.1 1268.0,1376.4 1269.1,1377.0 1270.4,1378.5 1271.7,1379.7 1273.0,1380.6 1274.3,1380.9 1275.6,1380.0 1275.7,1380.0 1276.9,1378.5 1278.2,1377.8 1279.5,1377.3 1280.8,1377.2 1282.1,1377.1 1283.4,1377.0 1283.4,1377.0 1284.7,1377.3 1286.0,1376.8 1287.3,1376.8 1288.6,1378.3 1288.6,1378.3 1289.9,1381.1 1291.2,1383.5 1292.4,1385.3 1292.5,1385.2 1293.8,1382.4 1295.1,1380.0 1296.4,1378.5 1297.6,1377.5 1297.7,1377.6 1299.0,1379.1 1300.3,1379.4 1301.6,1376.8 1302.9,1375.5 1304.0,1376.6 1304.2,1377.1 1305.5,1379.5 1306.8,1380.7 1307.9,1381.5 1308.1,1381.1 1309.4,1378.9 1310.7,1377.7 1312.0,1378.6 1313.3,1379.2 1314.3,1379.2 1314.6,1379.1 1315.9,1378.0 1317.2,1375.8 1318.5,1373.5 1319.8,1371.2 1320.7,1369.6 1321.1,1370.3 1322.4,1372.6 1323.7,1375.1 1325.0,1378.2 1325.8,1380.2 1326.3,1379.7 1327.6,1378.0 1328.9,1377.2 1330.2,1378.7 1331.5,1379.3 1332.3,1378.5 1332.8,1377.6 1334.1,1375.9 1335.4,1375.5 1336.7,1375.0 1337.4,1374.4 1338.0,1374.6 1339.3,1375.1 1340.6,1376.0 1341.9,1377.0 1343.2,1377.9 1343.8,1378.3 1344.5,1377.8 1345.8,1376.6 1347.1,1375.2 1348.4,1373.7 1349.0,1372.9 1349.7,1373.2 1351.0,1374.3 1352.3,1375.1 1353.6,1375.6 1354.9,1376.0 1355.4,1376.2 1356.2,1375.5 1357.5,1374.4 1358.8,1373.3 1360.1,1372.2 1360.6,1371.9 1361.4,1372.6 1362.7,1374.1 1364.0,1376.0 1364.4,1376.6 1365.3,1375.8 1366.6,1374.7 1367.9,1372.8 1368.3,1371.6 1369.2,1369.8 1370.5,1366.9 1371.8,1363.8 1373.1,1360.2 1374.4,1357.3 1374.7,1356.9 1375.7,1357.3 1377.0,1360.0 1378.3,1363.6 1379.6,1366.9 1380.6,1368.5 1380.9,1367.9 1382.2,1364.5 1383.5,1361.3 1384.8,1359.1 1385.0,1358.8 1386.1,1360.0 1387.4,1361.2 1388.7,1362.1 1390.0,1362.2 1390.1,1362.2 1391.3,1363.1 1392.6,1365.5 1393.9,1367.5 1394.0,1367.5 1395.2,1363.3 1396.5,1358.8 1397.8,1354.4 1398.6,1351.6 1399.1,1350.6 1400.4,1347.9 1401.7,1345.7 1403.0,1344.6 1404.3,1342.9 1404.3,1342.9 1405.6,1342.5 1406.9,1343.0 1408.2,1345.2 1409.4,1347.1 1409.5,1347.0 1410.8,1345.7 1412.1,1344.3 1413.4,1342.7 1414.6,1341.3 1414.7,1341.4 1416.0,1342.0 1417.3,1342.1 1418.6,1341.1 1419.9,1340.5 1421.2,1341.0 1422.5,1341.3 1423.8,1340.9 1424.8,1340.8 1425.1,1341.7 1426.4,1347.0 1427.7,1351.7 1428.2,1353.2 1429.0,1351.6 1430.3,1349.5 1431.6,1348.2 1432.9,1346.3 1433.1,1345.9 1434.2,1352.4 1435.5,1360.5 1435.7,1361.6 1436.8,1361.1 1438.1,1360.2 1439.4,1358.4 1440.7,1356.9 1441.6,1356.0 1442.0,1356.2 1443.3,1356.9 1444.6,1357.6 1445.4,1358.1 1445.9,1359.1 1447.2,1361.9 1448.5,1364.5 1449.8,1366.7 1451.1,1368.4 1452.4,1368.9 1453.1,1369.2 1453.7,1369.4 1455.0,1370.7 1456.3,1371.3 1457.6,1370.4 1458.9,1370.1 1460.2,1371.0 1460.8,1371.5 1461.5,1370.6 1462.8,1368.1 1464.1,1366.2 1464.7,1365.9 1465.4,1367.1 1466.7,1368.8 1468.0,1369.7 1469.3,1370.4 1469.8,1370.6 1470.6,1371.2 1471.9,1372.2 1473.2,1373.0 1474.5,1373.9 1475.0,1374.3 1475.8,1371.4 1477.1,1366.8 1478.4,1362.6 1479.6,1358.8 1479.7,1359.2 1481.0,1366.1 1482.3,1373.0 1482.7,1375.1 1483.6,1374.1 1484.9,1372.6 1486.2,1370.9 1487.5,1369.1 1487.8,1368.6 1488.8,1369.1 1490.1,1369.2 1491.4,1368.5 1492.7,1368.3 1494.0,1369.3 1494.3,1369.6 1495.3,1368.6 1496.6,1367.3 1497.9,1365.0 1498.1,1364.3 1499.2,1361.9 1500.5,1354.9 1501.8,1343.4 1503.1,1332.7 1504.0,1329.7 1504.4,1330.1 1505.7,1338.7 1507.0,1353.7 1508.3,1365.1 1509.6,1369.5 1510.9,1370.8 1512.2,1370.9 1512.3,1370.9 1513.5,1369.9 1514.8,1370.4 1516.1,1370.4 1516.1,1370.4 1517.4,1372.4 1518.7,1374.4 1520.0,1376.3 1520.0,1376.3 1521.3,1374.8 1522.6,1373.6 1523.9,1372.1 1525.1,1370.2 1525.2,1370.2 1526.5,1372.2 1527.8,1375.8 1529.1,1378.6 1530.3,1379.5 1530.4,1379.4 1531.7,1378.3 1533.0,1377.1 1534.3,1376.5 1535.6,1377.5 1536.9,1377.6 1538.0,1376.3 1538.2,1375.9 1539.5,1375.0 1540.8,1376.4 1542.1,1377.1 1543.4,1376.0 1544.7,1375.4 1545.7,1375.6 1546.0,1376.0 1547.3,1377.7 1548.6,1379.2 1549.9,1380.4 1551.2,1381.0 1552.1,1381.5 1552.5,1381.7 1553.8,1382.5 1555.1,1382.4 1556.4,1380.2 1557.7,1378.5 1558.6,1378.2 1559.0,1378.5 1560.3,1379.2 1561.6,1379.4 1562.9,1379.7 1564.2,1380.1 1565.5,1380.4 1566.8,1380.7 1568.1,1381.4 1569.4,1383.2 1570.1,1384.2 1570.7,1384.0 1572.0,1383.1 1573.3,1382.5 1574.6,1382.4 1575.9,1381.7 1577.2,1379.7 1578.5,1378.1 1579.1,1377.7 1579.8,1377.8 1581.1,1378.1 1582.4,1378.6 1583.7,1379.2 1585.0,1379.6 1586.3,1379.9 1587.6,1380.0 1588.9,1379.8 1589.4,1379.4 1590.2,1378.9 1591.5,1378.7 1592.8,1380.0 1594.1,1381.1 1595.4,1381.5 1596.7,1381.9 1597.1,1382.0 1598.0,1381.8 1599.3,1381.3 1600.6,1380.4 1601.9,1379.7 1603.2,1379.4 1604.5,1379.3 1605.8,1379.6 1606.1,1379.7 1607.1,1379.0 1608.4,1377.5 1609.7,1375.9 1611.0,1373.6 1611.3,1373.1 1612.3,1373.4 1613.6,1374.1 1614.9,1374.9 1616.2,1375.7 1617.5,1376.6 1617.7,1376.8 1618.8,1378.0 1620.1,1379.1 1621.4,1379.5 1622.7,1380.1 1624.0,1381.0 1625.3,1382.1 1625.4,1382.2 1626.6,1381.7 1627.9,1380.4 1629.2,1377.7 1630.5,1375.3 1630.6,1375.2 1631.8,1376.0 1633.1,1377.1 1634.4,1378.8 1635.7,1380.6 1637.0,1381.0 1638.3,1380.7 1639.6,1379.0 1640.9,1377.1 1642.1,1375.0 1642.2,1375.0 1643.5,1374.9 1644.8,1376.8 1646.1,1378.2 1647.4,1378.1 1648.7,1378.2 1650.0,1378.6 1651.1,1378.8 1651.3,1378.6 1652.6,1377.7 1653.9,1377.3 1655.2,1378.1 1656.5,1378.7 1657.8,1379.0 1659.1,1379.6 1660.4,1380.7 1661.4,1381.3 1661.7,1381.1 1663.0,1379.7 1664.3,1378.8 1665.6,1378.5 1666.9,1378.2 1668.2,1377.5 1669.5,1377.5 1670.8,1378.7 1671.7,1379.5 1672.1,1379.4 1673.4,1378.7 1674.7,1378.5 1676.0,1379.4 1677.3,1379.8 1678.1,1379.5 1678.6,1379.5 1679.9,1379.8 1681.2,1380.8 1682.5,1381.3 1683.8,1380.9 1684.6,1380.7 1685.1,1380.7 1686.4,1381.1 1687.7,1381.0 1689.0,1379.7 1690.3,1378.7 1691.6,1378.0 1692.3,1377.7 1692.9,1377.8 1694.2,1378.6 1695.5,1378.6 1696.8,1376.8 1698.1,1375.7 1699.4,1376.3 1700.0,1376.5 1700.7,1375.6 1702.0,1373.5 1703.3,1371.5 1703.8,1370.5 1704.6,1368.6 1705.9,1365.3 1706.9,1362.6 1707.2,1362.7 1708.5,1363.4 1709.8,1364.5 1711.1,1365.1 1712.4,1364.3 1712.8,1363.9 1713.7,1363.7 1715.0,1363.6 1716.3,1361.3 1717.6,1356.7 1718.9,1352.6 1720.0,1351.1 1720.2,1351.1 1721.5,1353.8 1722.8,1359.4 1724.1,1364.9 1725.4,1368.7 1726.7,1370.9 1727.8,1372.3 1728.0,1372.6 1729.3,1373.9 1730.6,1375.1 1731.9,1376.4 1733.2,1377.9 1734.5,1379.5 1734.7,1379.8 1735.8,1379.9 1737.1,1379.1 1738.4,1376.3 1739.7,1374.6 1741.0,1375.5 1741.1,1375.5 1742.3,1376.1 1743.6,1375.3 1744.9,1374.7 1746.2,1374.5 1747.5,1374.2 1748.8,1373.8 1748.8,1373.8 1750.1,1373.7 1751.4,1373.4 1752.7,1373.2 1754.0,1373.6 1755.3,1374.0 1756.6,1374.4 1756.6,1374.5 1757.9,1375.4 1759.2,1376.7 1760.5,1377.5 1761.8,1377.1 1763.1,1377.4 1764.3,1378.8 1764.4,1378.8 1765.7,1378.8 1767.0,1377.9 1768.3,1376.8 1769.6,1375.2 1770.9,1374.0 1772.0,1373.7 1772.2,1373.9 1773.5,1375.7 1774.8,1377.5 1776.1,1378.8 1777.1,1378.5 1777.4,1378.1 1778.7,1376.8 1780.0,1376.7 1781.3,1376.8 1782.6,1377.6 1783.9,1377.9 1784.8,1377.7 1785.2,1377.9 1786.5,1378.5 1787.7,1378.5 1787.8,1378.4 1789.1,1377.3 1790.4,1376.8 1791.7,1376.6 1793.0,1377.3 1794.3,1377.7 1795.4,1377.8 1795.6,1378.0 1796.9,1378.8 1798.2,1378.4 1799.5,1378.3 1800.8,1378.8 1802.1,1379.8 1803.1,1381.5 1803.4,1381.7 1804.7,1382.1 1806.0,1381.5 1807.3,1380.5 1808.6,1378.7 1809.9,1377.5 1810.9,1377.3 1811.2,1377.5 1812.5,1378.5 1813.8,1379.7 1815.1,1380.9 1816.4,1382.5 1817.7,1383.7 1818.6,1384.1 1819.0,1384.0 1820.3,1383.5 1821.6,1382.8 1822.9,1381.9 1824.2,1380.5 1825.5,1380.3 1826.3,1381.8 1826.8,1382.7 1828.1,1383.5 1829.4,1380.9 1830.7,1379.4 1832.0,1380.5 1833.3,1381.0 1834.0,1380.7 1834.6,1380.9 1835.9,1381.2 1837.2,1381.1 1838.5,1381.1 1839.8,1381.5 1841.1,1381.8 1841.7,1381.6 1842.4,1381.1 1843.7,1380.4 1845.0,1380.0 1846.3,1379.7 1847.6,1379.7 1848.9,1379.5 1850.2,1379.0 1851.5,1378.9 1852.0,1379.2 1852.8,1378.2 1854.1,1376.2 1855.4,1373.1 1855.8,1372.0 1856.7,1372.4 1858.0,1374.5 1859.3,1376.2 1860.6,1377.1 1861.9,1376.9 1863.2,1374.0 1864.5,1372.3 1864.8,1372.5 1865.8,1373.8 1867.1,1375.8 1868.4,1378.2 1869.7,1380.2 1871.0,1381.0 1872.3,1381.8 1873.6,1382.6 1873.8,1382.7 1874.9,1382.1 1876.2,1381.7 1877.5,1381.3 1878.8,1381.1 1880.1,1380.6 1881.4,1379.5 1882.7,1378.7 1882.8,1378.8 1884.0,1379.2 1885.3,1379.7 1886.6,1379.9 1887.9,1379.9 1889.2,1379.7 1890.5,1379.6 1890.6,1379.6 1891.8,1379.8 1893.1,1379.5 1894.4,1378.3 1895.7,1377.4 1897.0,1377.3 1898.3,1376.8 1898.3,1376.8 1899.6,1375.6 1900.9,1375.1 1902.2,1376.3 1903.5,1377.0 1904.8,1376.7 1906.0,1376.9 1906.1,1376.9 1907.4,1376.3 1908.7,1375.5 1910.0,1374.0 1911.1,1372.3 1911.3,1372.1 1912.6,1370.4 1913.9,1369.2 1915.2,1368.9 1916.5,1368.7 1917.8,1368.4 1918.8,1368.2 1919.1,1368.3 1920.4,1369.0 1921.7,1369.5 1923.0,1369.5 1924.3,1369.9 1925.6,1371.5 1926.6,1372.5 1926.9,1372.5 1928.2,1372.2 1929.5,1372.6 1930.8,1374.3 1932.1,1375.6 1933.4,1375.6 1934.3,1375.6 1934.7,1375.1 1936.0,1373.4 1937.3,1371.9 1938.6,1370.9 1939.9,1370.2 1941.2,1370.3 1942.5,1369.8 1943.8,1368.1 1944.6,1367.1 1945.1,1367.3 1946.4,1367.8 1947.7,1368.8 1949.0,1371.0 1949.7,1372.2 1950.3,1371.7 1951.6,1370.3 1952.9,1369.5 1954.2,1370.3 1955.5,1370.1 1956.8,1367.7 1957.4,1366.5 1958.1,1365.2 1959.4,1363.3 1960.7,1361.1 1962.0,1358.4 1962.6,1357.2 1963.3,1358.8 1964.6,1363.2 1965.9,1366.8 1966.4,1367.5 1967.2,1367.8 1968.5,1368.4 1969.8,1369.0 1971.1,1369.7 1971.6,1370.0 1972.4,1370.4 1973.7,1371.2 1975.0,1372.2 1976.3,1373.3 1977.6,1374.4 1978.0,1374.8 1978.9,1374.4 1980.2,1373.3 1981.5,1372.3 1982.8,1371.2 1984.1,1370.4 1985.4,1370.2 1985.7,1370.2 1986.7,1370.7 1988.0,1370.2 1989.3,1370.5 1990.6,1372.7 1991.9,1374.5 1993.2,1375.7 1993.4,1376.0 1994.5,1374.6 1995.8,1372.8 1997.1,1371.1 1998.4,1369.8 1998.6,1369.6 1999.7,1373.7 2001.0,1378.6 2001.1,1379.1 2002.3,1378.2 2003.6,1376.5 2004.9,1374.6 2006.2,1372.6 2007.5,1371.1 2008.8,1371.0 2008.8,1371.0 2010.1,1372.8 2011.4,1374.2 2012.7,1375.5 2014.0,1376.4 2014.0,1376.4 2015.3,1374.9 2016.6,1373.2 2017.9,1371.6 2019.2,1370.4 2020.5,1368.8 2021.7,1366.7 2021.8,1366.7 2023.1,1366.1 2024.4,1364.9 2025.7,1364.6 2027.0,1366.4 2028.3,1367.7 2029.4,1367.6 2029.6,1367.7 2030.9,1368.7 2032.2,1370.7 2033.5,1372.5 2034.8,1373.9 2036.1,1375.0 2037.1,1375.2 2037.4,1375.1 2038.7,1375.0 2040.0,1376.3 2041.3,1376.8 2042.6,1375.7 2043.6,1374.9 2043.9,1375.4 2045.2,1377.1 2046.5,1378.2 2047.8,1377.7 2049.1,1377.5 2050.0,1378.0 2050.4,1377.4 2051.7,1375.4 2053.0,1373.0 2054.3,1371.0 2055.1,1370.2 2055.6,1370.5 2056.9,1371.3 2058.2,1372.1 2059.5,1372.1 2060.8,1370.7 2062.1,1369.7 2063.4,1369.7 2064.7,1369.9 2065.4,1370.1 2066.0,1371.1 2067.3,1372.9 2068.6,1373.6 2069.9,1374.8 2070.6,1375.9 2071.2,1376.9 2072.5,1378.5 2073.8,1379.6 2075.1,1380.6 2076.4,1381.5 2077.7,1382.4 2078.3,1382.9 2079.0,1382.6 2080.3,1382.7 2081.6,1384.0 2082.9,1384.6 2084.2,1383.6 2085.5,1382.8 2086.0,1382.5 2086.8,1381.6 2088.1,1380.7 2089.4,1381.0 2090.7,1380.6 2091.1,1380.1 2092.0,1380.4 2093.3,1380.9 2094.6,1381.3 2095.9,1381.9 2096.3,1382.3 2097.2,1382.2 2098.5,1382.3 2099.8,1382.9 2101.1,1383.2 2102.4,1382.8 2103.7,1382.7 2105.0,1383.2 2106.3,1383.3 2107.6,1382.2 2108.9,1381.3 2109.1,1381.3 2110.2,1381.3 2111.5,1381.5 2112.8,1382.4 2114.1,1383.2 2115.4,1383.9 2116.7,1384.2 2118.0,1383.5 2119.3,1383.7 2119.4,1383.9 2120.6,1384.9 2121.9,1385.4 2123.2,1384.5 2124.5,1383.1 2125.8,1380.8 2127.1,1378.9 2127.1,1378.9 2128.4,1378.8 2129.7,1379.1 2131.0,1380.2 2132.3,1381.0 2133.6,1381.0 2134.8,1381.2 2134.9,1381.2 2136.2,1381.6 2137.5,1382.1 2138.8,1382.6 2140.1,1382.9 2141.4,1382.8 2142.7,1382.4 2144.0,1381.3 2145.1,1381.1 2145.3,1381.4 2146.6,1383.9 2147.9,1385.1 2149.2,1383.4 2150.5,1382.5 2151.8,1383.0 2153.1,1383.5 2154.4,1384.1 2155.7,1384.4 2157.0,1384.2 2158.0,1384.0 2158.3,1383.9 2159.6,1383.4 2160.9,1382.9 2162.2,1382.6 2163.5,1382.0 2164.8,1380.4 2166.1,1379.4 2167.4,1379.9 2168.3,1380.2 2168.7,1380.5 2170.0,1381.4 2171.3,1382.0 2172.6,1381.8 2173.9,1382.2 2175.2,1383.6 2176.0,1384.5 2176.5,1384.6 2177.8,1384.7 2179.1,1384.3 2180.4,1383.0 2181.7,1382.3 2183.0,1382.9 2184.3,1383.1 2185.6,1382.5 2186.3,1382.2 2186.9,1382.2 2188.2,1382.6 2189.5,1382.6 2190.8,1381.5 2192.1,1380.5 2193.4,1379.5 2194.7,1379.3 2196.0,1380.7 2196.6,1381.3 2197.3,1381.4 2198.6,1380.8 2199.9,1380.2 2201.2,1379.6 2202.5,1378.8 2203.8,1377.5 2204.3,1377.0 2205.1,1378.7 2206.4,1381.9 2206.8,1383.0 2207.7,1383.0 2209.0,1383.3 2210.3,1383.3 2211.6,1382.7 2212.9,1382.1 2214.2,1381.2 2214.6,1380.9 2215.5,1380.1 2216.8,1379.6 2218.1,1379.0 2219.4,1378.5 2219.7,1378.4 2220.7,1378.2 2222.0,1377.2 2223.3,1376.6 2224.6,1376.8 2225.9,1376.8 2227.2,1376.2 2228.5,1376.1 2229.8,1377.0 2230.0,1377.1 2231.1,1377.3 2232.4,1376.5 2233.7,1375.8 2235.0,1375.7 2236.3,1375.7 2237.6,1376.1 2238.9,1376.2 2240.2,1375.7 2241.5,1375.0 2242.8,1374.3 2242.8,1374.2 2244.1,1374.4 2245.4,1375.6 2246.7,1375.9 2248.0,1374.5 2249.3,1373.7 2250.6,1374.0 2251.9,1374.5 2253.1,1375.7 2253.2,1375.7 2254.5,1375.9 2255.8,1375.1 2257.1,1374.7 2258.4,1375.2 2259.7,1375.2 2261.0,1374.1 2262.3,1373.3 2263.4,1372.9 2263.6,1373.0 2264.9,1373.8 2266.2,1375.0 2267.5,1375.7 2268.8,1375.4 2270.1,1375.2 2271.1,1375.2 2271.4,1375.0 2272.7,1374.6 2274.0,1375.5 2275.3,1375.8 2276.6,1374.4 2277.9,1373.6 2278.8,1373.8 2279.2,1374.3 2280.5,1375.5 2281.8,1375.7 2283.1,1376.2 2284.0,1377.2 2284.4,1377.4 2285.7,1377.8 2287.0,1377.7 2288.3,1377.7 2289.6,1377.6 2290.4,1377.6 2290.5,1377.6" stroke="#009200" stroke-width="4.8"/>
<polyline points="203.8,1160.5 204.1,1161.1 205.1,1163.3 206.4,1165.3 207.7,1164.8 209.0,1165.0 209.3,1165.4 210.3,1164.2 211.6,1163.0 212.9,1162.2 213.1,1162.0 214.2,1162.2 215.5,1160.9 216.8,1160.2 218.1,1160.7 218.3,1160.8 219.4,1160.6 220.7,1160.4 222.0,1160.0 223.3,1159.0 223.4,1158.9 224.6,1159.7 225.9,1160.4 227.2,1161.5 228.5,1163.5 228.6,1163.6 229.8,1162.9 231.1,1161.7 232.4,1160.6 233.7,1160.1 235.0,1158.9 235.8,1157.3 236.3,1158.5 237.6,1162.6 238.9,1168.1 240.2,1167.6 241.5,1167.5 242.8,1167.2 244.1,1166.3 245.3,1164.9 245.4,1164.8 246.7,1163.9 248.0,1164.1 249.3,1166.8 250.6,1168.8 251.7,1169.0 251.9,1168.8 253.2,1167.2 254.5,1166.4 255.8,1165.5 257.1,1164.6 257.4,1164.4 258.4,1167.3 259.7,1171.3 261.0,1175.4 261.5,1177.2 262.3,1175.7 263.6,1172.9 264.9,1169.2 265.9,1166.5 266.2,1166.2 267.5,1164.9 268.8,1163.6 269.7,1162.8 270.1,1163.3 271.4,1165.5 272.7,1168.0 274.0,1170.4 274.9,1171.9 275.3,1172.2 276.6,1173.5 277.9,1175.1 279.2,1176.3 279.5,1176.4 280.5,1173.7 281.8,1170.5 283.1,1168.2 283.9,1166.8 284.4,1167.1 285.7,1167.7 287.0,1168.3 288.3,1169.0 289.0,1169.3 289.6,1169.3 290.9,1169.2 292.2,1169.1 293.5,1168.8 294.8,1168.8 295.4,1169.0 296.1,1169.8 297.4,1171.0 298.7,1171.1 300.0,1171.8 300.6,1172.7 301.3,1172.6 302.6,1171.7 303.9,1169.1 305.2,1167.0 305.7,1166.4 306.5,1166.4 307.8,1166.7 309.1,1167.3 310.4,1167.8 311.7,1168.2 313.0,1168.5 313.4,1168.6 314.3,1169.4 315.6,1170.8 316.9,1172.8 318.2,1174.5 318.6,1174.9 319.5,1173.9 320.8,1172.4 322.1,1170.7 323.4,1169.0 323.7,1168.5 324.7,1167.9 326.0,1167.3 327.3,1167.2 328.6,1167.3 329.9,1168.1 330.1,1168.2 331.2,1168.7 332.5,1168.3 333.8,1167.7 335.1,1167.1 335.3,1166.9 336.4,1166.2 337.7,1166.3 339.0,1166.2 340.3,1165.9 341.6,1165.9 342.9,1166.7 344.2,1166.8 344.3,1166.7 345.5,1168.3 346.8,1170.9 348.1,1175.0 348.1,1175.2 349.4,1174.7 350.7,1172.3 352.0,1170.2 353.3,1168.6 354.6,1166.9 354.6,1166.9 355.9,1167.2 357.2,1167.9 358.5,1169.4 359.7,1170.5 359.8,1170.4 361.1,1168.6 362.4,1166.9 363.7,1165.4 365.0,1164.4 366.1,1164.3 366.3,1164.4 367.6,1165.3 368.9,1165.2 370.2,1165.5 371.3,1166.5 371.5,1166.8 372.8,1168.3 374.1,1168.8 375.4,1169.0 376.7,1168.5 378.0,1169.3 379.0,1172.2 379.3,1172.3 380.6,1171.6 381.9,1168.0 383.2,1165.7 384.5,1166.1 385.4,1166.3 385.8,1166.7 387.1,1168.2 388.4,1169.1 389.7,1169.0 391.0,1169.1 391.9,1169.7 392.3,1169.0 393.6,1166.9 394.9,1165.0 395.7,1163.8 396.2,1164.5 397.5,1166.8 398.8,1168.5 400.1,1168.7 401.4,1169.0 402.7,1169.6 403.4,1170.0 404.0,1169.6 405.3,1168.9 406.6,1168.5 407.9,1169.0 408.6,1169.3 409.2,1170.2 410.5,1171.2 411.8,1172.7 413.1,1175.1 413.2,1175.4 414.4,1173.5 415.7,1171.2 417.0,1169.0 417.6,1168.0 418.3,1168.2 419.6,1168.7 420.9,1169.0 422.2,1169.0 422.7,1168.7 423.5,1166.5 424.8,1163.2 426.1,1160.9 427.4,1158.4 427.9,1157.3 428.7,1157.1 430.0,1156.9 431.3,1156.9 432.6,1157.3 433.0,1157.7 433.9,1158.7 435.2,1159.5 436.5,1158.8 437.8,1158.5 438.1,1158.7 439.1,1159.8 440.4,1161.1 441.7,1162.0 443.0,1163.1 444.3,1164.4 444.6,1164.8 445.6,1166.3 446.9,1168.8 448.2,1170.8 449.5,1171.7 449.7,1171.8 450.8,1169.0 452.1,1166.1 453.4,1163.3 454.7,1161.0 454.9,1160.7 456.0,1160.8 457.3,1160.5 458.6,1160.2 459.9,1160.1 460.0,1160.1 461.2,1159.6 462.5,1158.6 463.8,1157.5 465.1,1155.7 465.1,1155.6 466.4,1155.4 467.7,1157.1 469.0,1158.3 470.3,1158.3 471.6,1158.5 472.9,1158.9 472.9,1158.9 474.2,1158.5 475.5,1156.9 476.8,1156.4 478.0,1157.9 478.1,1158.0 479.4,1156.9 480.7,1149.2 482.0,1135.6 483.3,1116.5 484.6,1096.4 485.7,1088.1 485.9,1088.1 487.2,1098.6 488.5,1119.1 489.8,1136.9 490.9,1145.9 491.1,1147.9 492.4,1156.7 493.7,1161.7 494.7,1165.0 495.0,1164.3 496.3,1160.9 497.6,1158.0 498.6,1156.9 498.9,1157.1 500.2,1157.9 501.5,1159.0 502.8,1160.1 503.7,1160.9 504.1,1160.4 505.4,1157.4 506.7,1152.0 507.6,1148.2 508.0,1149.0 509.3,1151.7 510.6,1154.4 511.4,1156.2 511.9,1157.1 513.2,1159.3 514.5,1160.5 515.3,1161.2 515.8,1160.9 517.1,1159.9 518.4,1158.8 519.7,1157.8 521.0,1156.9 522.3,1156.3 523.6,1155.9 524.3,1156.1 524.9,1157.1 526.2,1159.1 527.5,1160.9 528.8,1162.2 530.1,1162.5 531.4,1163.3 532.0,1164.2 532.7,1163.6 534.0,1162.7 535.3,1162.4 536.6,1161.6 537.9,1159.6 538.4,1158.7 539.2,1159.0 540.5,1159.5 541.8,1160.2 543.1,1161.2 544.4,1162.1 544.9,1162.3 545.7,1161.6 547.0,1160.9 548.3,1161.1 549.6,1161.2 550.9,1160.8 552.2,1160.3 552.6,1160.2 553.5,1160.1 554.8,1159.7 556.1,1158.5 557.4,1157.6 557.7,1157.5 558.7,1158.7 560.0,1160.5 561.3,1162.6 562.6,1164.6 562.9,1165.0 563.9,1165.4 565.2,1165.8 566.5,1165.9 567.8,1166.1 568.0,1166.1 569.1,1164.2 570.4,1161.5 571.7,1158.2 572.6,1155.7 573.0,1157.5 574.3,1164.3 574.4,1165.1 575.6,1164.6 576.9,1165.4 578.2,1165.5 579.5,1164.1 580.8,1162.9 580.9,1162.9 582.1,1163.9 583.4,1164.8 584.7,1165.4 586.0,1166.0 587.3,1166.8 588.6,1168.3 589.9,1169.0 591.2,1169.0 592.5,1167.3 593.8,1165.6 595.0,1163.6 595.1,1163.6 596.4,1162.9 597.7,1163.6 599.0,1164.0 600.3,1163.7 601.4,1163.4 601.6,1163.5 602.9,1164.7 604.2,1166.1 605.5,1168.2 606.6,1169.5 606.8,1168.9 608.1,1165.2 609.4,1161.7 610.7,1158.6 611.7,1156.3 612.0,1156.8 613.3,1159.6 614.6,1162.0 615.9,1163.6 616.8,1164.8 617.2,1164.4 618.5,1163.0 619.8,1161.3 620.7,1159.6 627.8,1139.0 630.4,1109.0 630.4,1098.0 631.4,1087.0 631.4,1059.0 632.4,1000.0 633.0,900.0 633.4,836.0 634.2,736.0 634.9,650.0 635.8,629.0 635.8,629.0 637.6,736.0 638.4,836.0 638.8,900.0 639.5,1000.0 639.5,1059.0 640.5,1087.0 641.5,1109.0 643.2,1139.0 647.7,1151.8 649.0,1156.4 650.3,1161.2 650.3,1161.3 651.6,1163.9 652.8,1165.8 652.9,1165.7 654.2,1162.0 655.5,1155.2 656.8,1144.7 658.1,1136.4 658.5,1135.7 659.4,1137.4 660.7,1144.2 662.0,1148.6 663.1,1149.6 663.3,1149.6 664.6,1148.5 665.9,1146.2 667.2,1142.3 668.3,1139.1 668.5,1138.5 669.8,1135.1 671.1,1131.6 672.1,1128.6 672.4,1127.7 673.7,1123.1 675.0,1118.7 676.0,1115.2 676.3,1114.0 677.6,1108.9 678.9,1105.0 680.2,1103.8 681.1,1102.8 681.5,1102.1 682.8,1099.5 684.1,1097.6 685.0,1097.5 685.4,1096.9 686.7,1094.3 688.0,1090.2 689.3,1086.5 689.4,1086.4 690.6,1088.6 691.9,1090.8 692.7,1092.0 693.2,1092.0 694.5,1091.8 695.8,1091.3 696.6,1091.0 697.1,1094.0 698.4,1101.5 699.7,1108.9 700.4,1113.0 701.0,1115.1 702.3,1119.6 703.6,1123.3 704.3,1125.3 704.9,1126.9 706.2,1130.2 707.5,1133.9 708.8,1138.2 709.4,1140.3 710.1,1141.7 711.4,1144.4 712.7,1147.1 713.3,1148.3 714.0,1150.6 715.3,1154.4 716.6,1157.7 717.1,1159.0 717.9,1158.8 719.2,1158.5 720.5,1158.0 721.8,1157.1 723.1,1156.9 723.6,1157.4 724.4,1162.3 725.1,1166.6 725.7,1166.2 727.0,1164.8 728.3,1163.4 729.0,1162.9 729.6,1165.0 730.9,1169.9 732.2,1175.4 732.9,1178.2 733.5,1176.8 734.8,1173.5 736.1,1170.3 736.7,1168.9 737.4,1170.7 738.7,1173.7 740.0,1176.1 740.6,1177.2 741.3,1175.3 742.6,1172.6 743.9,1169.6 744.4,1168.1 745.2,1168.1 746.5,1168.6 747.8,1170.5 749.1,1172.0 749.6,1172.2 750.4,1171.9 751.7,1171.7 753.0,1171.9 754.3,1171.9 754.7,1171.6 755.6,1171.1 756.9,1170.3 758.2,1169.5 759.5,1169.4 760.8,1170.6 761.1,1171.0 762.1,1172.4 763.4,1172.3 764.7,1172.7 765.0,1173.1 766.0,1174.8 767.3,1177.3 768.6,1180.2 768.9,1180.7 769.9,1180.7 771.2,1180.7 772.5,1180.4 773.8,1179.1 775.1,1178.0 775.3,1177.9 776.4,1179.0 777.7,1180.1 779.0,1181.0 780.3,1182.5 780.4,1182.8 781.6,1182.5 782.9,1181.3 784.2,1178.0 785.5,1175.1 785.6,1174.9 786.8,1173.4 788.1,1172.1 789.4,1171.4 790.7,1170.4 790.7,1170.4 792.0,1171.3 793.3,1172.4 794.6,1174.0 794.6,1173.9 795.9,1172.2 797.2,1171.0 798.5,1169.1 799.7,1165.9 799.8,1165.7 801.1,1164.4 802.4,1164.0 803.7,1163.4 804.9,1162.7 805.0,1162.6 806.3,1162.0 807.6,1161.7 808.9,1161.5 810.0,1161.7 810.2,1162.1 811.5,1164.4 812.8,1166.1 813.9,1167.5 814.1,1167.5 815.4,1168.0 816.7,1168.4 818.0,1169.0 819.0,1169.5 819.3,1170.0 820.6,1172.2 821.9,1174.4 823.2,1176.6 824.1,1178.2 824.5,1178.4 825.8,1179.2 827.1,1180.0 828.4,1181.3 829.3,1182.1 829.7,1181.8 831.0,1180.7 832.3,1180.5 833.6,1182.3 834.9,1183.1 835.7,1182.1 836.2,1182.0 837.5,1182.3 838.8,1183.9 840.1,1185.6 840.9,1186.8 841.4,1186.7 842.7,1186.4 844.0,1185.9 845.3,1185.3 846.0,1184.9 846.6,1185.0 847.9,1185.1 849.2,1184.8 850.5,1184.7 851.8,1185.2 853.1,1185.6 853.7,1185.6 854.4,1185.1 855.7,1184.1 857.0,1182.7 858.3,1181.8 858.9,1181.9 859.6,1182.3 860.9,1182.5 862.2,1181.7 862.7,1181.5 863.5,1182.8 864.8,1185.5 866.1,1187.8 867.4,1189.4 867.9,1189.9 868.7,1190.2 870.0,1191.2 871.3,1191.9 872.6,1192.0 873.9,1192.1 874.3,1192.3 875.2,1191.6 876.5,1190.7 877.8,1189.9 879.1,1188.9 880.4,1187.5 880.7,1187.2 881.7,1187.2 883.0,1187.1 884.3,1187.4 884.6,1187.7 885.6,1186.4 886.9,1184.1 888.2,1180.0 888.4,1179.3 889.5,1167.9 890.5,1158.6 890.8,1156.0 892.1,1145.8 892.8,1140.3 893.4,1140.6 894.7,1140.7 896.0,1140.0 896.9,1139.5 897.3,1143.3 898.6,1156.0 898.7,1157.1 899.9,1163.1 901.2,1168.7 901.3,1169.0 902.5,1169.3 903.8,1170.5 905.1,1171.8 906.4,1173.5 906.4,1173.5 907.7,1175.6 909.0,1177.3 910.3,1179.1 911.6,1181.0 911.6,1181.1 912.9,1184.1 914.2,1186.3 915.4,1188.7 915.5,1188.8 916.8,1191.0 918.0,1193.0 918.1,1193.0 919.4,1193.2 920.7,1193.3 922.0,1193.2 923.3,1192.8 924.6,1191.7 925.7,1190.9 925.9,1191.2 927.2,1192.6 928.5,1194.2 929.8,1196.5 931.1,1197.8 932.1,1197.1 932.4,1196.6 933.7,1195.1 935.0,1195.7 936.3,1195.6 937.6,1194.3 938.6,1193.3 938.9,1193.4 940.2,1193.5 941.5,1193.0 942.8,1191.1 944.1,1189.7 945.0,1189.5 945.4,1190.0 946.7,1191.0 948.0,1190.7 948.9,1190.5 949.3,1190.5 950.6,1190.7 951.9,1190.8 952.7,1190.6 953.2,1191.6 954.5,1193.4 955.8,1193.5 957.1,1194.7 957.9,1196.8 958.4,1196.9 959.7,1196.1 961.0,1193.3 961.7,1191.8 962.3,1192.4 963.6,1194.0 964.3,1194.9 964.9,1194.3 966.2,1191.3 967.5,1186.9 968.8,1181.5 970.1,1173.8 971.2,1169.3 971.4,1169.3 972.7,1174.2 974.0,1184.0 975.3,1191.2 976.6,1194.0 977.1,1194.3 977.9,1194.2 979.2,1193.9 980.5,1193.9 981.8,1194.6 982.3,1194.9 983.1,1195.3 984.4,1194.6 985.7,1194.3 986.1,1194.7 987.0,1194.8 988.3,1193.7 989.6,1190.4 990.9,1187.1 992.2,1185.7 992.6,1185.7 993.5,1186.3 994.8,1188.2 996.1,1190.9 997.4,1193.7 998.7,1195.6 999.0,1196.0 1000.0,1196.7 1001.3,1196.5 1002.6,1194.4 1002.9,1194.0 1003.9,1194.2 1005.2,1195.0 1006.5,1195.8 1007.8,1196.1 1008.0,1196.1 1009.1,1195.9 1010.4,1196.7 1011.7,1197.2 1013.0,1197.2 1014.3,1196.5 1015.6,1194.3 1015.7,1194.1 1016.9,1193.2 1018.2,1193.6 1019.5,1194.7 1020.8,1197.1 1022.1,1198.6 1023.4,1197.7 1023.4,1197.7 1024.7,1197.6 1026.0,1198.0 1027.3,1198.6 1028.6,1199.5 1028.6,1199.5 1029.9,1199.1 1031.2,1198.7 1032.5,1198.1 1033.8,1197.2 1035.1,1196.1 1036.3,1194.8 1036.4,1194.9 1037.7,1195.9 1039.0,1198.2 1040.1,1199.5 1040.3,1199.2 1041.6,1196.3 1042.9,1192.0 1044.2,1186.4 1045.5,1180.6 1046.8,1177.2 1047.3,1176.9 1048.1,1177.7 1049.4,1181.9 1050.7,1187.4 1052.0,1191.7 1053.3,1194.4 1054.6,1195.7 1055.9,1196.2 1056.8,1196.5 1057.2,1196.6 1058.5,1196.1 1059.8,1193.8 1061.1,1192.6 1062.4,1194.3 1063.7,1195.8 1064.6,1196.5 1065.0,1197.0 1066.3,1198.1 1067.6,1198.2 1068.9,1198.1 1070.2,1197.7 1071.5,1197.5 1072.8,1197.9 1073.6,1198.2 1074.1,1198.2 1075.4,1198.6 1076.7,1198.4 1078.0,1196.8 1079.3,1195.3 1080.6,1194.4 1081.9,1194.0 1082.6,1194.4 1083.2,1195.4 1084.5,1196.6 1085.8,1195.7 1087.1,1195.4 1088.4,1196.6 1089.0,1197.1 1089.7,1196.9 1091.0,1195.8 1092.3,1194.9 1093.6,1194.4 1094.9,1193.7 1096.2,1192.5 1096.7,1192.0 1097.5,1193.3 1098.8,1195.7 1099.3,1196.6 1100.1,1195.4 1101.4,1194.1 1102.7,1192.0 1103.1,1190.6 1104.0,1189.6 1105.3,1188.8 1106.6,1189.7 1107.9,1190.1 1109.2,1189.1 1110.5,1188.6 1110.8,1188.8 1111.8,1188.3 1113.1,1187.5 1114.4,1186.3 1114.7,1186.0 1115.7,1187.0 1117.0,1187.6 1118.3,1189.1 1119.6,1192.5 1119.8,1193.1 1120.9,1193.8 1122.2,1192.9 1123.5,1192.6 1124.8,1193.5 1126.1,1193.7 1126.3,1193.5 1127.4,1192.0 1128.7,1190.7 1130.0,1190.6 1131.3,1188.7 1132.6,1184.5 1133.9,1178.9 1135.2,1174.5 1135.3,1174.4 1136.5,1175.2 1137.8,1179.6 1139.1,1184.0 1140.4,1187.3 1140.4,1187.3 1141.7,1188.2 1143.0,1187.7 1144.3,1186.9 1145.6,1186.0 1145.6,1186.0 1146.9,1186.8 1148.2,1187.7 1149.4,1188.5 1149.5,1188.4 1150.8,1186.8 1152.1,1185.5 1153.4,1184.8 1154.6,1184.0 1154.7,1183.7 1156.0,1181.1 1157.3,1178.6 1158.6,1176.2 1159.9,1174.2 1161.0,1173.4 1161.2,1174.1 1162.5,1177.7 1163.8,1180.1 1164.8,1182.2 1165.1,1182.0 1166.4,1180.6 1167.7,1178.0 1169.0,1172.9 1170.0,1169.1 1170.3,1168.6 1171.6,1166.5 1172.9,1164.6 1173.8,1163.5 1174.2,1162.4 1175.5,1158.9 1176.8,1155.7 1177.2,1154.8 1178.1,1156.5 1179.4,1158.3 1180.3,1159.5 1180.7,1159.3 1182.0,1158.4 1183.3,1158.3 1184.6,1159.7 1185.4,1160.6 1185.9,1160.5 1187.2,1159.4 1188.5,1159.4 1189.8,1162.0 1190.6,1163.5 1191.1,1164.5 1192.4,1166.2 1193.7,1167.9 1194.4,1168.9 1195.0,1167.8 1196.3,1166.1 1197.6,1166.1 1198.3,1166.1 1198.9,1167.5 1200.2,1169.2 1201.5,1171.1 1202.8,1173.5 1203.4,1174.6 1204.1,1174.2 1205.4,1174.0 1206.7,1173.7 1208.0,1173.5 1208.6,1173.5 1209.3,1175.3 1210.6,1177.9 1211.9,1180.7 1212.4,1181.9 1213.2,1183.0 1214.5,1184.9 1215.8,1187.1 1217.1,1188.8 1217.6,1189.0 1218.4,1188.4 1219.7,1187.7 1221.0,1187.8 1221.4,1187.9 1222.3,1189.0 1223.6,1190.3 1224.9,1191.5 1225.3,1191.8 1226.2,1191.9 1227.5,1192.6 1228.8,1194.4 1230.1,1196.3 1230.4,1196.9 1231.4,1197.7 1232.7,1197.9 1234.0,1195.7 1235.3,1194.8 1236.6,1196.8 1236.8,1197.1 1237.9,1196.6 1239.2,1194.3 1240.5,1191.9 1241.8,1189.4 1242.0,1189.0 1243.1,1188.3 1244.4,1186.3 1245.7,1179.6 1247.0,1166.9 1248.3,1151.4 1249.6,1142.0 1249.7,1141.8 1250.9,1147.6 1252.2,1164.2 1253.5,1179.9 1254.8,1189.1 1256.1,1192.5 1256.1,1192.5 1257.4,1192.7 1258.7,1192.9 1260.0,1194.5 1261.3,1195.8 1261.6,1195.9 1262.6,1195.9 1263.9,1195.6 1265.2,1195.0 1266.5,1194.7 1267.8,1195.5 1268.0,1195.6 1269.1,1196.5 1270.4,1196.6 1271.7,1196.8 1273.0,1197.5 1274.3,1198.0 1274.4,1198.1 1275.6,1197.9 1276.9,1198.1 1278.2,1199.4 1279.5,1200.2 1280.8,1199.9 1282.1,1199.7 1282.1,1199.7 1283.4,1199.3 1284.7,1198.7 1286.0,1198.0 1287.3,1197.4 1288.6,1196.9 1289.9,1196.5 1289.9,1196.6 1291.2,1197.6 1292.5,1198.9 1293.8,1200.5 1295.1,1201.6 1296.3,1201.3 1296.4,1201.2 1297.7,1201.3 1299.0,1203.2 1300.3,1204.4 1301.6,1204.0 1302.7,1203.9 1302.9,1203.7 1304.2,1202.8 1305.5,1201.7 1306.8,1200.1 1308.1,1199.4 1309.4,1200.7 1310.4,1201.3 1310.7,1200.9 1312.0,1198.6 1313.3,1197.5 1314.6,1198.8 1315.9,1199.9 1316.9,1200.5 1317.2,1200.5 1318.5,1200.2 1319.8,1198.4 1321.1,1196.9 1322.4,1196.1 1323.3,1195.5 1323.7,1195.8 1325.0,1196.8 1326.3,1197.8 1327.6,1198.9 1328.9,1199.9 1329.7,1200.4 1330.2,1200.5 1331.5,1200.3 1332.8,1199.6 1334.1,1198.7 1335.4,1197.4 1336.7,1196.5 1337.4,1196.5 1338.0,1196.9 1339.3,1197.8 1340.6,1198.8 1341.9,1199.5 1343.2,1199.0 1343.8,1198.8 1344.5,1198.3 1345.8,1198.0 1347.1,1198.0 1348.4,1198.7 1349.0,1199.0 1349.7,1198.5 1351.0,1196.0 1352.3,1194.7 1353.6,1195.8 1354.1,1196.2 1354.9,1196.5 1356.2,1195.7 1357.5,1195.4 1358.8,1196.3 1360.1,1197.1 1360.6,1197.4 1361.4,1197.2 1362.7,1196.5 1364.0,1195.0 1365.3,1194.0 1366.6,1193.9 1367.0,1193.7 1367.9,1192.5 1369.2,1189.1 1370.5,1182.9 1371.8,1175.0 1373.1,1170.0 1373.4,1169.6 1374.4,1170.4 1375.7,1174.9 1377.0,1179.5 1378.3,1182.8 1379.6,1184.7 1379.8,1184.8 1380.9,1184.9 1382.2,1184.3 1383.5,1183.6 1384.8,1182.8 1386.1,1182.2 1386.3,1182.1 1387.4,1182.2 1388.7,1181.9 1390.0,1180.1 1391.3,1179.4 1392.6,1180.9 1393.9,1181.5 1394.0,1181.4 1395.2,1180.1 1396.5,1179.0 1397.8,1178.9 1399.1,1178.5 1400.4,1177.8 1401.7,1177.4 1403.0,1178.0 1404.3,1178.3 1404.3,1178.2 1405.6,1174.6 1406.9,1170.7 1408.2,1166.5 1409.4,1162.8 1409.5,1163.0 1410.8,1165.5 1412.1,1168.0 1413.4,1170.2 1414.6,1172.1 1414.7,1172.0 1416.0,1171.5 1417.3,1171.2 1418.6,1171.8 1419.9,1171.8 1421.2,1170.4 1422.3,1169.5 1422.5,1169.9 1423.8,1172.1 1425.1,1173.8 1426.4,1174.0 1427.4,1174.4 1427.7,1174.8 1429.0,1176.9 1430.3,1178.4 1431.3,1178.7 1431.6,1177.7 1432.9,1174.5 1433.8,1173.5 1434.2,1174.1 1435.5,1175.9 1436.8,1176.8 1438.1,1177.9 1439.0,1179.0 1439.4,1180.5 1440.7,1184.9 1442.0,1187.9 1442.8,1189.8 1443.3,1189.5 1444.6,1189.0 1445.9,1187.5 1446.7,1185.1 1447.2,1184.9 1448.5,1185.3 1449.8,1187.8 1451.1,1189.7 1451.8,1190.0 1452.4,1189.9 1453.7,1189.5 1455.0,1188.8 1456.3,1189.0 1457.6,1191.2 1458.9,1192.0 1459.6,1191.0 1460.2,1191.5 1461.5,1193.5 1462.1,1195.4 1462.8,1195.3 1464.1,1195.1 1465.4,1194.6 1466.7,1194.0 1468.0,1193.4 1468.6,1193.2 1469.3,1193.1 1470.6,1192.6 1471.9,1192.4 1473.2,1192.6 1474.5,1192.5 1475.8,1192.1 1476.3,1191.9 1477.1,1190.4 1478.4,1188.0 1479.7,1185.4 1480.1,1184.5 1481.0,1184.9 1482.3,1185.9 1483.6,1187.6 1484.9,1189.4 1485.3,1190.0 1486.2,1190.6 1487.5,1190.8 1488.8,1189.4 1490.1,1188.7 1491.4,1189.6 1492.7,1189.7 1493.0,1189.4 1494.0,1187.3 1495.3,1185.3 1496.6,1184.7 1497.9,1183.2 1498.1,1182.6 1499.2,1179.3 1500.5,1173.3 1501.8,1166.1 1503.1,1158.3 1504.0,1154.1 1504.4,1153.5 1505.7,1156.5 1507.0,1164.6 1508.3,1170.9 1509.6,1173.7 1509.7,1173.8 1510.9,1180.7 1512.2,1187.0 1513.5,1193.1 1513.6,1193.4 1514.8,1195.0 1516.1,1196.8 1517.4,1198.6 1518.7,1200.2 1518.7,1200.2 1520.0,1197.7 1521.3,1195.4 1522.6,1193.5 1522.6,1193.5 1523.9,1193.7 1525.2,1193.4 1526.5,1193.3 1527.8,1193.6 1529.0,1193.6 1529.1,1193.6 1530.4,1194.1 1531.7,1195.3 1533.0,1198.2 1534.1,1200.6 1534.3,1200.6 1535.6,1200.7 1536.9,1200.2 1538.2,1198.3 1539.5,1196.6 1540.6,1195.9 1540.8,1195.9 1542.1,1196.0 1543.4,1196.9 1544.7,1197.8 1546.0,1198.5 1547.3,1199.1 1548.6,1199.2 1549.6,1199.2 1549.9,1199.0 1551.2,1198.2 1552.5,1198.3 1553.8,1200.5 1555.1,1202.1 1556.0,1202.2 1556.4,1201.8 1557.7,1200.8 1559.0,1200.7 1560.3,1199.9 1561.6,1197.6 1562.4,1196.2 1562.9,1196.8 1564.2,1199.3 1565.5,1201.0 1566.8,1200.5 1568.1,1200.5 1569.4,1201.3 1570.1,1201.8 1570.7,1201.6 1572.0,1201.1 1573.3,1200.5 1574.6,1199.7 1575.9,1199.4 1576.6,1199.8 1577.2,1200.6 1578.5,1201.9 1579.8,1202.0 1581.1,1202.3 1582.4,1203.0 1583.7,1203.9 1584.3,1204.7 1585.0,1204.5 1586.3,1203.8 1587.6,1202.1 1588.9,1200.5 1589.4,1199.9 1590.2,1199.8 1591.5,1200.0 1592.8,1201.3 1594.1,1202.0 1595.4,1201.2 1596.7,1200.8 1597.1,1201.0 1598.0,1201.5 1599.3,1202.2 1600.6,1203.0 1601.9,1203.7 1602.3,1203.9 1603.2,1202.1 1604.5,1199.7 1605.8,1197.2 1606.1,1196.6 1607.1,1195.5 1608.4,1194.1 1609.7,1192.2 1610.0,1191.6 1611.0,1192.3 1612.3,1193.3 1613.6,1194.7 1614.9,1196.8 1615.1,1197.4 1616.2,1198.5 1617.5,1199.2 1618.8,1198.7 1620.1,1197.9 1620.3,1197.7 1621.4,1197.7 1622.7,1198.2 1624.0,1200.0 1625.3,1201.3 1626.6,1201.7 1627.9,1202.0 1628.0,1202.1 1629.2,1200.3 1630.5,1199.2 1631.8,1199.9 1633.1,1199.8 1634.4,1198.3 1635.7,1196.8 1637.0,1195.4 1638.3,1194.3 1639.6,1194.0 1640.9,1193.4 1642.1,1192.0 1642.2,1192.0 1643.5,1192.5 1644.8,1192.1 1646.1,1192.0 1647.3,1192.6 1647.4,1192.6 1648.7,1192.4 1650.0,1192.0 1651.3,1192.1 1652.6,1193.5 1653.9,1194.3 1655.2,1194.2 1656.3,1194.2 1656.5,1194.4 1657.8,1195.9 1659.1,1197.1 1660.4,1197.8 1661.7,1198.5 1663.0,1199.0 1664.0,1199.4 1664.3,1199.6 1665.6,1200.1 1666.9,1200.3 1668.2,1199.9 1669.5,1200.3 1670.8,1202.4 1671.7,1203.9 1672.1,1203.4 1673.4,1201.6 1674.7,1200.3 1676.0,1200.4 1677.3,1200.0 1678.1,1199.0 1678.6,1199.0 1679.9,1199.2 1681.2,1200.3 1682.5,1201.5 1683.8,1202.5 1684.6,1203.1 1685.1,1203.1 1686.4,1202.7 1687.7,1202.4 1689.0,1202.3 1690.3,1202.9 1691.6,1205.2 1692.9,1206.3 1694.2,1204.9 1694.8,1204.2 1695.5,1203.1 1696.8,1201.8 1698.1,1200.2 1699.4,1197.9 1700.7,1195.7 1701.3,1194.7 1702.0,1193.1 1703.3,1190.9 1704.6,1189.9 1705.9,1188.3 1707.2,1185.4 1707.7,1184.3 1708.5,1183.9 1709.8,1183.5 1711.1,1182.6 1712.4,1180.5 1712.8,1179.7 1713.7,1179.8 1715.0,1179.4 1716.3,1174.3 1717.6,1168.6 1718.0,1168.3 1718.9,1170.2 1720.2,1173.0 1721.5,1169.4 1722.6,1167.4 1722.8,1167.8 1724.1,1176.7 1725.4,1188.7 1726.7,1195.1 1728.0,1196.9 1729.3,1197.8 1729.6,1198.1 1730.6,1198.9 1731.9,1200.0 1733.2,1201.0 1734.5,1202.0 1735.8,1202.8 1736.0,1202.9 1737.1,1201.3 1738.4,1198.5 1739.7,1196.5 1741.0,1196.2 1742.3,1195.5 1743.6,1193.5 1743.7,1193.3 1744.9,1193.4 1746.2,1193.5 1747.5,1194.3 1748.8,1196.7 1750.1,1198.2 1750.1,1198.2 1751.4,1196.2 1752.7,1194.8 1754.0,1194.8 1755.3,1194.3 1756.6,1192.2 1757.8,1190.8 1757.9,1191.0 1759.2,1194.1 1760.5,1197.1 1761.7,1199.4 1761.8,1199.4 1763.1,1199.4 1764.4,1199.4 1765.7,1199.2 1767.0,1198.5 1768.3,1197.8 1769.6,1197.3 1770.9,1196.8 1772.0,1196.5 1772.2,1196.6 1773.5,1197.5 1774.8,1199.5 1776.1,1200.7 1777.4,1199.8 1778.7,1199.4 1779.7,1199.9 1780.0,1200.0 1781.3,1200.5 1782.6,1201.8 1783.9,1202.0 1785.2,1199.6 1786.5,1197.9 1787.7,1197.7 1787.8,1197.8 1789.1,1198.3 1790.4,1199.5 1791.7,1200.7 1793.0,1201.6 1794.1,1202.2 1794.3,1202.2 1795.6,1201.5 1796.9,1201.2 1798.2,1201.7 1799.5,1202.0 1800.8,1201.8 1802.1,1201.3 1803.1,1200.4 1803.4,1200.3 1804.7,1200.3 1806.0,1201.8 1807.3,1202.6 1808.6,1202.0 1809.9,1202.0 1811.2,1203.8 1812.1,1205.0 1812.5,1204.7 1813.8,1203.6 1815.1,1203.0 1816.4,1203.5 1817.7,1203.4 1818.6,1202.3 1819.0,1202.2 1820.3,1202.0 1821.6,1202.0 1822.9,1202.3 1824.2,1203.3 1825.5,1204.1 1826.3,1204.5 1826.8,1204.3 1828.1,1203.6 1829.4,1202.7 1830.7,1201.8 1832.0,1200.9 1833.3,1200.7 1834.6,1202.0 1835.3,1202.7 1835.9,1202.9 1837.2,1203.0 1838.5,1202.5 1839.8,1200.9 1841.1,1199.8 1841.7,1199.8 1842.4,1200.2 1843.7,1200.9 1845.0,1201.4 1846.3,1202.2 1847.6,1203.9 1848.9,1205.2 1849.4,1205.5 1850.2,1204.7 1851.5,1202.8 1852.8,1199.9 1854.1,1197.5 1855.4,1196.3 1855.8,1195.9 1856.7,1196.3 1858.0,1196.7 1859.3,1197.2 1860.6,1198.2 1861.9,1199.2 1862.3,1199.5 1863.2,1200.3 1864.5,1201.3 1865.8,1202.2 1867.1,1202.9 1868.4,1202.7 1869.7,1202.7 1871.0,1203.0 1871.3,1203.1 1872.3,1202.5 1873.6,1202.7 1874.9,1202.7 1876.2,1201.9 1877.5,1201.0 1877.7,1200.8 1878.8,1200.5 1880.1,1200.5 1881.4,1201.2 1882.7,1201.8 1882.8,1201.8 1884.0,1202.1 1885.3,1202.5 1886.6,1203.1 1887.9,1203.4 1889.2,1203.1 1890.5,1203.0 1890.6,1203.0 1891.8,1202.7 1893.1,1202.1 1894.4,1201.3 1895.7,1200.3 1897.0,1198.9 1898.3,1198.0 1898.3,1198.1 1899.6,1198.7 1900.9,1198.9 1902.2,1198.1 1903.5,1197.6 1904.8,1197.8 1906.0,1197.4 1906.1,1197.2 1907.4,1194.4 1908.7,1192.1 1910.0,1191.0 1911.3,1190.1 1912.6,1189.3 1913.7,1188.4 1913.9,1188.3 1915.2,1187.6 1916.5,1187.6 1917.8,1189.3 1919.1,1190.5 1920.1,1190.9 1920.4,1191.0 1921.7,1191.5 1923.0,1192.2 1924.3,1192.8 1925.6,1193.6 1926.9,1193.9 1927.8,1193.5 1928.2,1193.0 1929.5,1192.0 1930.8,1193.0 1932.1,1193.5 1933.4,1193.0 1934.3,1192.7 1934.7,1192.8 1936.0,1193.3 1937.3,1193.6 1938.6,1193.7 1939.9,1193.5 1941.2,1192.6 1942.5,1192.1 1943.8,1192.3 1944.6,1192.4 1945.1,1191.6 1946.4,1188.9 1947.7,1187.5 1949.0,1188.9 1950.3,1189.8 1951.0,1189.7 1951.6,1191.7 1952.9,1195.8 1953.6,1197.7 1954.2,1196.4 1955.5,1193.6 1956.8,1190.5 1957.4,1189.1 1958.1,1188.8 1959.4,1188.2 1960.7,1187.8 1962.0,1187.6 1963.3,1187.5 1964.6,1187.5 1965.9,1187.6 1966.4,1187.6 1967.2,1188.3 1968.5,1189.3 1969.8,1190.1 1971.1,1190.8 1972.4,1191.2 1972.8,1191.3 1973.7,1191.3 1975.0,1191.2 1976.3,1192.0 1977.6,1194.6 1978.0,1195.4 1978.9,1195.6 1980.2,1193.7 1981.5,1192.0 1982.8,1190.7 1984.1,1190.6 1985.4,1193.1 1985.7,1193.7 1986.7,1195.0 1988.0,1194.9 1989.3,1194.8 1990.6,1194.4 1990.8,1194.4 1991.9,1195.3 1993.2,1197.1 1994.5,1198.7 1995.8,1199.6 1997.1,1200.4 1997.3,1200.5 1998.4,1197.5 1999.7,1194.5 2001.0,1192.6 2001.1,1192.4 2002.3,1193.4 2003.6,1193.5 2004.9,1194.1 2006.2,1195.5 2007.5,1196.8 2007.6,1196.8 2008.8,1195.8 2010.1,1195.0 2011.4,1194.7 2012.7,1194.4 2014.0,1194.1 2015.3,1193.2 2016.6,1191.2 2016.6,1191.2 2017.9,1189.9 2019.2,1189.9 2020.5,1189.1 2021.8,1186.7 2023.1,1185.0 2024.4,1184.9 2025.6,1184.9 2025.7,1185.2 2027.0,1187.5 2028.3,1189.6 2029.6,1191.2 2030.9,1192.7 2032.0,1193.8 2032.2,1194.0 2033.5,1195.3 2034.8,1196.7 2036.1,1197.5 2037.4,1197.1 2038.7,1197.4 2039.7,1198.9 2040.0,1199.2 2041.3,1199.5 2042.6,1198.4 2043.9,1198.2 2045.2,1200.1 2046.1,1201.4 2046.5,1201.2 2047.8,1200.6 2049.1,1199.8 2050.4,1198.5 2051.7,1197.3 2053.0,1196.0 2053.8,1195.2 2054.3,1195.1 2055.6,1195.0 2056.9,1194.6 2058.2,1193.4 2059.0,1192.4 2059.5,1191.9 2060.8,1189.7 2062.1,1186.3 2063.4,1183.4 2064.1,1182.8 2064.7,1183.3 2066.0,1186.5 2067.3,1190.4 2068.6,1193.2 2069.9,1194.7 2070.6,1195.1 2071.2,1196.1 2072.5,1198.0 2073.8,1199.8 2075.1,1201.5 2075.7,1202.0 2076.4,1202.3 2077.7,1202.7 2079.0,1202.8 2080.3,1203.4 2080.8,1204.1 2081.6,1204.5 2082.9,1205.2 2084.2,1205.6 2085.5,1205.7 2086.8,1205.2 2088.1,1205.0 2088.6,1205.1 2089.4,1205.3 2090.7,1205.2 2092.0,1204.4 2093.3,1204.1 2094.6,1205.2 2095.9,1205.8 2096.3,1205.5 2097.2,1205.2 2098.5,1204.9 2099.8,1204.9 2101.1,1205.1 2102.4,1205.7 2103.7,1206.2 2105.0,1206.4 2105.3,1206.4 2106.3,1205.8 2107.6,1204.7 2108.9,1203.9 2110.2,1203.8 2111.5,1203.5 2112.8,1202.7 2113.0,1202.5 2114.1,1206.8 2114.3,1207.4 2115.4,1206.6 2116.7,1205.7 2118.0,1204.9 2119.3,1204.0 2120.6,1202.6 2121.9,1201.7 2123.2,1201.9 2124.5,1201.8 2125.8,1201.2 2127.1,1200.3 2127.1,1200.3 2128.4,1200.1 2129.7,1200.6 2131.0,1202.5 2132.3,1203.7 2133.6,1203.3 2134.9,1203.0 2136.2,1202.8 2137.4,1202.8 2137.5,1202.9 2138.8,1203.3 2140.1,1203.7 2141.4,1203.9 2142.7,1204.1 2144.0,1204.1 2145.1,1204.0 2145.3,1203.9 2146.6,1203.1 2147.9,1202.6 2149.2,1202.8 2150.5,1202.5 2151.8,1201.2 2153.1,1200.5 2154.4,1200.8 2155.4,1201.1 2155.7,1201.3 2157.0,1202.2 2158.3,1202.8 2159.6,1202.4 2160.9,1202.6 2162.2,1203.8 2163.5,1204.9 2164.8,1205.3 2166.1,1205.5 2167.4,1205.0 2168.3,1204.7 2168.7,1204.2 2170.0,1202.9 2171.3,1202.7 2172.6,1204.7 2173.9,1206.1 2175.2,1206.3 2176.5,1205.8 2177.8,1203.7 2179.1,1202.6 2180.4,1203.7 2181.1,1204.3 2181.7,1204.5 2183.0,1204.8 2184.3,1204.7 2185.6,1203.7 2186.9,1203.3 2188.2,1204.2 2189.5,1205.3 2190.8,1206.7 2191.4,1207.3 2192.1,1207.2 2193.4,1206.1 2194.7,1205.2 2196.0,1204.7 2197.3,1204.4 2198.6,1204.8 2199.9,1204.6 2201.2,1203.0 2201.7,1202.5 2202.5,1202.0 2203.8,1201.3 2205.1,1201.6 2206.4,1203.8 2207.7,1205.0 2209.0,1203.7 2210.3,1203.1 2211.6,1203.8 2212.0,1204.0 2212.9,1204.2 2214.2,1204.6 2215.5,1204.6 2216.8,1203.7 2218.1,1203.0 2219.4,1202.6 2220.7,1202.1 2222.0,1201.2 2222.3,1201.1 2223.3,1201.0 2224.6,1201.8 2225.9,1202.7 2227.2,1203.7 2228.5,1203.9 2229.8,1202.1 2231.1,1200.8 2232.4,1200.4 2232.6,1200.4 2233.7,1200.3 2235.0,1201.1 2236.3,1201.3 2237.6,1200.5 2238.9,1200.0 2240.2,1200.4 2241.5,1200.6 2242.8,1200.4 2242.8,1200.4 2244.1,1199.4 2245.4,1198.6 2246.7,1197.7 2248.0,1196.4 2249.3,1195.2 2250.6,1194.3 2250.6,1194.3 2251.9,1195.2 2253.2,1196.4 2254.5,1197.1 2255.8,1196.3 2257.1,1196.1 2258.3,1197.3 2258.4,1197.4 2259.7,1198.1 2261.0,1198.4 2262.3,1198.4 2263.6,1197.5 2264.9,1197.1 2266.2,1197.4 2267.5,1197.8 2268.6,1198.3 2268.8,1198.4 2270.1,1199.1 2271.4,1199.4 2272.7,1200.1 2274.0,1201.6 2275.3,1202.6 2276.3,1202.4 2276.6,1202.2 2277.9,1202.1 2279.2,1203.7 2280.5,1204.1 2281.8,1201.7 2283.1,1200.0 2284.0,1199.9 2284.4,1199.9 2285.7,1200.4 2287.0,1202.1 2288.3,1202.7 2289.6,1200.9 2290.4,1199.7 2290.5,1199.6" stroke="#0000FF" stroke-width="4.8"/>
<polyline points="203.8,800.8 204.1,800.7 205.1,799.4 206.4,797.2 207.7,794.3 209.0,792.1 209.3,792.0 210.3,793.4 211.6,795.0 212.9,795.8 213.1,796.0 214.2,793.6 215.5,790.8 216.8,787.8 217.0,787.1 218.1,789.0 219.4,791.4 220.7,794.4 222.0,797.2 222.1,797.5 223.3,798.6 224.6,799.8 225.9,800.8 227.2,802.5 228.5,805.4 228.6,805.7 229.8,808.2 231.1,809.9 232.4,811.8 232.4,811.9 233.7,810.4 235.0,808.2 236.3,805.0 237.6,802.0 238.9,799.5 240.1,797.2 240.2,797.2 241.5,798.4 242.8,799.4 244.1,800.1 245.3,801.2 245.4,801.3 246.7,802.4 248.0,802.6 249.3,800.8 250.6,799.3 251.7,798.8 251.9,798.9 253.2,800.6 254.5,802.6 255.8,804.9 257.1,807.4 258.1,809.3 258.4,808.8 259.7,805.8 261.0,802.9 262.3,799.9 263.3,797.7 263.6,798.0 264.9,799.5 266.2,801.2 267.5,803.4 268.8,805.1 269.7,805.7 270.1,805.4 271.4,804.1 272.7,802.9 274.0,802.0 275.3,801.5 276.1,801.3 276.6,801.8 277.9,803.5 279.2,805.2 280.5,807.0 281.8,808.0 282.6,807.3 283.1,806.2 284.4,804.1 285.7,803.8 287.0,803.2 288.3,802.3 289.0,801.8 289.6,802.8 290.9,804.8 292.2,807.4 292.9,809.5 293.5,810.1 294.8,810.9 296.1,811.1 297.4,811.7 298.7,813.3 300.0,814.2 300.6,814.0 301.3,812.9 302.6,811.0 303.9,808.9 305.2,807.6 306.5,808.0 307.8,807.8 308.3,807.1 309.1,806.8 310.4,806.3 311.7,805.7 313.0,805.5 314.3,806.5 315.6,807.2 316.9,807.4 318.2,807.6 318.6,807.6 319.5,807.7 320.8,808.1 322.1,809.1 323.4,809.4 324.7,808.2 326.0,807.9 326.3,808.4 327.3,808.4 328.6,808.4 329.9,808.1 331.2,807.5 331.4,807.2 332.5,807.9 333.8,808.9 335.1,810.0 336.4,811.2 337.7,812.2 339.0,813.2 339.1,813.4 340.3,813.0 341.6,811.9 342.9,809.5 344.2,807.9 345.5,808.5 346.8,808.1 346.9,807.9 348.1,806.2 349.4,805.1 350.7,805.7 352.0,805.9 353.3,804.9 354.6,804.8 354.6,804.8 355.9,806.2 357.2,807.0 358.5,806.6 359.8,805.9 361.1,804.4 362.4,803.5 363.6,804.2 363.7,804.3 365.0,804.9 366.3,803.6 367.6,802.9 368.9,803.7 370.0,804.3 370.2,804.3 371.5,803.8 372.8,803.2 374.1,801.9 375.4,801.3 376.7,801.8 377.7,802.2 378.0,802.5 379.3,803.9 380.6,804.4 381.9,802.9 383.2,802.4 384.5,804.1 385.4,805.3 385.8,805.3 387.1,805.2 388.4,805.8 389.7,807.7 391.0,808.9 392.3,808.8 393.1,808.6 393.6,807.4 394.9,803.6 395.7,801.2 396.2,801.5 397.5,802.4 398.8,803.2 400.1,803.8 401.4,804.2 402.7,804.1 404.0,804.8 405.3,807.5 406.6,809.1 407.9,808.2 408.6,807.8 409.2,807.2 410.5,807.0 411.8,806.5 413.1,805.4 414.4,804.0 415.0,802.9 415.7,802.1 417.0,801.2 418.3,801.3 419.6,801.4 420.9,801.6 421.4,801.6 422.2,801.2 423.5,799.8 424.8,798.4 426.1,797.2 427.4,795.7 428.7,793.8 429.1,793.1 430.0,792.7 431.3,793.6 432.6,794.1 433.9,793.9 435.2,793.6 436.5,793.2 437.8,792.7 438.9,792.1 439.1,792.3 440.4,794.3 441.7,797.1 443.0,799.5 444.3,800.8 444.6,801.1 445.6,801.1 446.9,801.6 448.2,802.2 449.5,802.9 450.8,803.2 452.1,802.4 452.3,802.3 453.4,800.5 454.7,799.2 456.0,798.2 457.3,798.2 458.6,797.4 458.7,797.1 459.9,797.9 461.2,798.6 462.5,799.0 463.8,800.0 463.9,800.2 465.1,799.9 466.4,799.6 467.7,799.0 469.0,798.3 470.3,797.7 470.3,797.7 471.6,797.5 472.9,796.6 474.2,795.7 475.5,795.0 476.7,794.4 476.8,794.4 478.1,795.3 479.4,796.3 480.7,796.7 482.0,790.5 483.3,766.5 484.6,723.6 485.9,690.4 486.2,688.5 487.2,702.0 488.5,746.7 489.8,784.5 491.1,801.1 492.4,806.2 493.4,808.2 493.7,807.9 495.0,805.9 496.3,802.8 497.6,800.1 498.6,798.9 498.9,799.0 500.2,799.0 501.5,798.7 502.8,798.2 504.1,797.4 505.4,796.4 506.7,795.0 507.6,794.0 508.0,794.3 509.3,795.1 510.6,795.0 511.9,793.0 513.2,791.7 514.5,791.7 515.3,791.8 515.8,792.4 517.1,793.8 518.4,795.2 519.1,796.1 519.7,795.6 521.0,794.9 522.3,795.5 523.6,795.8 524.9,795.2 526.2,794.5 526.9,794.0 527.5,794.1 528.8,794.5 530.1,795.1 531.4,795.5 532.7,795.4 534.0,795.4 534.6,795.5 535.3,795.6 536.6,795.9 537.9,796.5 539.2,797.4 540.5,798.9 541.8,799.9 542.3,799.7 543.1,797.4 544.4,793.6 545.7,789.7 546.1,788.3 547.0,790.2 548.3,793.9 549.6,797.2 550.0,798.0 550.9,797.8 552.2,797.6 553.5,798.0 554.8,798.6 556.1,799.7 557.4,800.4 558.7,799.8 560.0,799.3 560.3,799.2 561.3,798.0 562.6,796.7 563.9,796.4 565.2,796.0 566.5,795.8 567.8,795.4 568.0,795.3 569.1,795.6 570.4,796.3 571.7,797.5 573.0,798.0 574.3,797.2 575.6,797.0 575.7,797.2 576.9,799.2 578.2,801.1 579.5,802.2 580.8,803.2 580.9,803.2 582.1,800.1 583.4,797.0 584.7,794.6 584.7,794.5 586.0,798.3 587.3,801.7 588.6,804.8 589.9,807.5 589.9,807.5 591.2,806.2 592.5,806.4 593.8,805.8 595.1,803.3 596.3,801.5 596.4,801.5 597.7,801.7 599.0,801.6 600.3,800.9 601.4,800.3 601.6,800.2 602.9,798.9 604.2,797.3 605.5,795.0 606.8,793.1 607.9,792.1 608.1,792.6 609.4,795.2 610.7,797.5 612.0,800.0 613.3,803.1 614.3,805.3 614.6,804.8 615.9,802.3 617.2,800.4 618.5,799.6 619.4,799.1 628.6,778.0 630.4,744.0 632.0,700.0 632.4,600.0 632.9,575.0 633.9,553.0 634.6,505.0 636.0,309.0 636.0,309.0 637.4,505.0 639.1,553.0 639.6,575.0 639.8,600.0 639.5,700.0 640.8,744.0 642.1,778.0 646.4,797.3 647.7,796.1 649.0,795.7 650.3,797.3 651.6,797.8 651.6,797.8 652.9,797.5 654.1,795.6 654.2,795.3 655.5,786.2 656.8,768.8 658.1,755.0 658.5,754.2 659.4,759.5 660.7,777.2 662.0,792.6 663.3,799.9 664.4,801.9 664.6,801.4 665.9,797.7 667.2,793.8 668.5,790.2 669.6,787.1 669.8,787.8 671.1,791.1 672.4,794.7 673.7,799.2 674.7,802.6 675.0,802.4 676.3,801.5 677.6,800.7 678.9,799.9 680.2,798.8 681.1,797.5 681.5,797.3 682.8,796.9 684.1,797.2 685.4,797.0 686.7,795.9 688.0,794.8 688.8,794.0 689.3,793.9 690.6,794.0 691.9,794.7 693.2,795.1 694.5,794.3 695.3,793.9 695.8,794.5 697.1,796.5 698.4,798.3 699.7,799.6 700.4,800.2 701.0,800.4 702.3,801.0 703.6,801.3 704.9,801.3 706.2,801.0 706.8,800.5 707.5,800.1 708.8,799.5 710.1,799.5 711.4,799.3 712.7,798.7 714.0,798.6 714.6,798.9 715.3,800.4 716.6,802.8 717.9,804.6 719.2,806.5 719.7,807.1 720.5,807.5 721.8,807.9 723.1,807.6 724.4,808.1 725.7,810.5 726.1,811.2 727.0,812.4 728.3,812.9 729.6,813.2 730.9,813.4 732.2,813.7 732.9,814.1 733.5,813.3 734.8,811.8 736.1,810.6 737.4,809.5 738.7,808.5 739.3,808.1 740.0,808.5 741.3,809.1 742.6,809.7 743.9,810.7 744.4,811.1 745.2,810.5 746.5,809.3 747.8,808.3 749.1,807.4 750.4,806.3 750.9,805.8 751.7,805.1 753.0,803.5 754.3,800.7 754.7,799.6 755.6,798.8 756.9,798.1 758.1,798.6 758.2,798.8 759.5,801.3 760.8,805.0 762.1,808.4 762.4,809.0 763.4,809.5 764.7,810.7 766.0,810.8 767.3,808.6 767.6,808.2 768.6,809.7 769.9,813.6 771.2,816.5 772.5,817.2 772.7,817.4 773.8,817.5 775.1,819.0 776.4,820.5 777.7,822.0 779.0,823.2 779.1,823.3 780.3,822.4 781.6,821.7 782.9,821.7 784.2,821.5 785.5,820.8 785.6,820.8 786.8,818.0 788.1,815.2 788.1,815.2 789.4,816.1 790.7,817.3 792.0,818.3 793.3,818.9 793.3,818.9 794.6,817.4 795.9,817.1 797.1,816.2 797.2,816.2 798.5,815.6 799.8,815.7 801.1,817.4 802.4,817.9 803.6,815.8 803.7,815.5 805.0,814.3 806.3,816.4 807.6,817.9 808.9,818.5 810.0,818.9 810.2,818.9 811.5,818.6 812.8,818.7 814.1,819.9 815.4,820.7 816.4,820.7 816.7,820.8 818.0,821.5 819.3,821.9 820.6,822.7 821.9,824.2 822.9,825.3 823.2,825.5 824.5,826.0 825.8,825.6 827.1,823.0 828.0,821.2 828.4,821.7 829.7,823.5 831.0,825.1 831.9,825.9 832.3,824.5 833.6,820.8 834.9,817.7 835.7,815.8 836.2,816.9 837.5,819.2 838.8,822.0 840.1,826.0 840.9,828.2 841.4,828.3 842.7,828.7 844.0,828.3 845.3,826.1 846.6,824.1 847.3,823.3 847.9,823.1 849.2,822.8 850.5,822.9 851.8,823.1 853.1,823.4 854.4,823.3 855.7,822.3 856.3,821.8 857.0,821.4 858.3,821.5 859.6,821.1 860.1,820.5 860.9,822.2 862.2,825.0 863.5,827.9 864.0,829.0 864.8,827.6 866.1,826.4 867.4,824.0 868.7,819.1 869.1,817.5 870.0,817.1 871.3,818.7 872.6,820.1 873.9,821.1 875.2,821.7 876.5,821.4 876.9,821.3 877.8,820.8 879.1,820.8 880.4,820.6 881.7,819.9 883.0,819.2 884.3,818.8 884.6,818.7 885.6,814.1 886.9,809.8 888.2,804.4 888.4,803.2 889.5,780.1 890.2,765.4 890.8,761.6 892.1,753.7 892.8,749.6 893.4,751.5 894.7,755.9 895.4,758.1 896.0,761.2 897.3,766.7 897.9,769.3 898.6,769.6 899.9,770.8 901.2,771.7 901.3,771.7 902.5,771.8 903.8,772.3 905.1,773.5 905.1,773.6 906.4,776.1 907.7,776.7 909.0,778.3 909.0,778.4 910.3,785.0 911.6,790.9 911.6,791.2 912.9,798.2 913.4,800.6 914.2,803.4 915.4,807.1 915.5,807.3 916.8,810.4 918.1,815.1 919.4,819.0 920.6,820.7 920.7,820.7 922.0,821.3 923.3,823.9 924.6,825.8 925.7,826.0 925.9,826.0 927.2,826.3 928.5,827.2 929.8,827.9 931.1,828.3 932.1,828.7 932.4,828.7 933.7,828.4 935.0,827.4 936.3,824.9 937.6,823.2 938.6,823.6 938.9,824.4 940.2,826.7 941.5,827.9 942.8,829.4 943.7,830.9 944.1,830.7 945.4,829.7 946.7,828.2 948.0,826.9 949.3,826.0 950.1,825.5 950.6,825.7 951.9,826.0 953.2,827.2 954.5,830.3 955.8,832.9 956.6,833.8 957.1,833.7 958.4,832.9 959.7,830.7 961.0,829.1 962.3,828.7 963.0,828.5 963.6,828.5 964.9,828.2 966.2,826.0 967.5,818.6 968.8,803.5 970.1,786.2 971.2,779.8 971.4,779.7 972.7,788.7 974.0,805.8 975.3,819.6 976.6,825.7 977.9,827.0 978.4,827.1 979.2,827.6 980.5,828.4 981.8,829.0 983.1,829.5 984.4,830.4 984.9,831.1 985.7,831.8 987.0,831.6 988.3,828.3 989.6,822.6 990.9,816.4 992.2,811.9 992.6,811.5 993.5,813.2 994.8,819.8 996.1,825.4 997.4,828.2 997.7,828.6 998.7,829.0 1000.0,828.7 1001.3,828.3 1002.6,828.3 1002.9,828.4 1003.9,829.8 1005.2,830.7 1006.5,829.7 1007.8,829.0 1009.1,829.0 1010.4,829.4 1010.6,829.6 1011.7,830.9 1013.0,832.1 1014.3,832.9 1015.6,833.4 1016.9,833.3 1017.0,833.3 1018.2,832.8 1019.5,833.8 1020.8,834.0 1022.1,832.6 1023.4,831.5 1024.7,831.1 1026.0,830.4 1027.3,829.0 1028.6,828.1 1029.9,828.1 1031.1,828.0 1031.2,828.0 1032.5,829.1 1033.8,829.7 1035.1,829.4 1036.3,829.8 1036.4,829.7 1037.7,829.0 1039.0,827.4 1040.3,823.7 1041.6,820.8 1042.7,819.8 1042.9,818.7 1044.2,811.4 1045.3,804.3 1045.5,804.0 1046.8,803.3 1048.1,804.8 1048.4,805.1 1049.4,806.5 1050.7,806.1 1051.7,805.9 1052.0,808.2 1053.3,817.6 1054.3,824.6 1054.6,825.6 1055.9,829.5 1056.8,832.3 1057.2,831.9 1058.5,830.4 1059.8,829.2 1061.1,828.6 1062.4,828.6 1063.7,829.8 1065.0,831.0 1066.3,831.7 1067.1,832.2 1067.6,832.0 1068.9,831.1 1070.2,830.5 1071.5,830.6 1072.8,830.6 1074.1,830.3 1075.4,829.5 1076.1,828.4 1076.7,828.4 1078.0,829.2 1079.3,832.0 1080.6,834.7 1081.9,837.3 1082.6,838.6 1083.2,837.7 1084.5,834.7 1085.8,832.0 1087.1,829.7 1088.4,828.1 1089.7,828.0 1090.3,828.0 1091.0,828.1 1092.3,827.7 1093.6,827.5 1094.9,827.8 1096.2,827.6 1096.7,827.2 1097.5,825.9 1098.8,824.2 1100.1,823.5 1100.6,823.3 1101.4,822.6 1102.7,820.5 1104.0,819.4 1105.3,820.8 1105.7,821.2 1106.6,821.9 1107.9,822.1 1109.2,822.1 1110.5,821.7 1111.8,820.7 1112.1,820.2 1113.1,819.1 1114.4,818.5 1115.7,820.1 1117.0,820.5 1117.3,820.2 1118.3,820.2 1119.6,821.5 1120.9,825.8 1121.1,826.5 1122.2,828.1 1123.5,828.5 1124.8,828.8 1126.1,828.9 1126.3,828.9 1127.4,828.6 1128.7,829.1 1130.0,828.4 1131.3,825.5 1132.6,820.5 1133.9,815.0 1135.2,810.9 1135.8,810.1 1136.5,810.5 1137.8,814.7 1139.1,820.7 1140.4,824.8 1141.7,825.8 1143.0,825.8 1143.0,825.9 1144.3,827.4 1145.6,828.8 1146.9,830.0 1148.2,831.2 1149.4,832.4 1149.5,832.4 1150.8,832.6 1152.1,832.2 1153.4,832.2 1154.7,833.0 1156.0,833.1 1157.3,831.4 1158.6,830.3 1159.7,830.5 1159.9,830.5 1161.2,830.5 1162.5,830.5 1163.8,830.3 1165.1,829.7 1166.4,829.3 1167.7,829.4 1169.0,829.2 1170.0,828.5 1170.3,828.1 1171.6,827.1 1172.9,827.4 1174.2,827.0 1175.5,825.0 1176.8,823.6 1177.2,823.6 1178.1,825.1 1179.4,826.7 1180.7,827.1 1182.0,828.1 1182.8,829.4 1183.3,829.6 1184.6,829.2 1185.9,826.8 1187.2,825.4 1188.5,826.1 1189.8,826.3 1191.1,825.2 1192.4,824.4 1192.6,824.3 1193.7,825.1 1195.0,825.9 1196.3,827.0 1197.6,827.3 1198.9,826.2 1200.2,825.6 1200.8,825.7 1201.5,826.0 1202.8,826.6 1204.1,827.5 1205.4,828.5 1206.7,830.0 1208.0,830.8 1208.6,830.4 1209.3,829.3 1210.6,828.2 1211.9,828.9 1213.2,829.0 1214.5,827.5 1215.8,826.4 1217.1,825.9 1217.6,825.8 1218.4,826.5 1219.7,827.7 1221.0,829.0 1222.3,830.3 1223.6,831.2 1224.0,831.2 1224.9,831.1 1226.2,831.2 1227.5,831.8 1228.8,832.4 1230.1,833.2 1231.4,833.8 1232.7,834.2 1234.0,834.1 1234.3,833.8 1235.3,831.8 1236.6,830.2 1237.9,830.7 1239.2,830.8 1239.4,830.7 1240.5,830.5 1241.8,829.3 1243.1,824.8 1244.4,812.1 1245.7,788.7 1247.0,761.4 1248.3,746.6 1248.4,746.4 1249.6,756.0 1250.9,781.6 1252.2,805.8 1253.5,819.4 1254.8,824.6 1256.1,826.6 1256.1,826.6 1257.4,829.0 1258.7,831.0 1260.0,833.0 1261.3,834.8 1261.6,835.2 1262.6,835.1 1263.9,833.9 1265.2,833.4 1266.5,834.3 1267.8,835.2 1269.1,835.8 1269.3,835.8 1270.4,836.7 1271.7,838.0 1273.0,838.7 1274.3,838.2 1275.6,837.9 1276.9,837.9 1278.2,838.1 1278.3,838.1 1279.5,837.2 1280.8,836.4 1282.1,835.8 1283.4,835.1 1284.7,834.1 1286.0,833.5 1287.3,833.6 1288.6,833.5 1288.6,833.6 1289.9,834.5 1291.2,835.3 1292.5,835.9 1293.8,836.6 1295.0,837.6 1295.1,837.6 1296.4,837.9 1297.7,837.2 1299.0,837.0 1300.3,837.9 1301.6,838.5 1302.9,838.4 1304.0,838.4 1304.2,838.4 1305.5,838.3 1306.8,838.4 1308.1,838.9 1309.4,838.8 1310.7,837.7 1312.0,836.4 1313.3,834.9 1314.3,833.9 1314.6,834.2 1315.9,835.1 1317.2,835.7 1318.5,835.3 1319.8,834.9 1321.1,834.3 1322.4,834.1 1323.7,834.5 1324.6,834.7 1325.0,835.0 1326.3,836.0 1327.6,836.8 1328.9,837.2 1330.2,836.9 1331.5,835.4 1332.3,834.5 1332.8,834.9 1334.1,836.4 1335.4,837.7 1336.7,838.3 1338.0,838.5 1339.3,837.5 1340.6,837.3 1341.3,837.9 1341.9,838.0 1343.2,837.8 1344.5,837.2 1345.8,836.6 1347.1,836.1 1348.4,835.1 1349.0,834.3 1349.7,833.7 1351.0,833.2 1352.3,834.0 1353.6,834.8 1354.9,835.7 1356.2,836.4 1357.5,836.5 1358.0,836.6 1358.8,836.3 1360.1,835.8 1361.4,834.9 1362.7,832.7 1364.0,831.4 1364.4,831.6 1365.3,832.3 1366.6,832.7 1367.9,831.0 1369.2,828.4 1370.5,824.4 1371.8,820.3 1373.1,818.3 1374.4,817.1 1374.7,816.8 1375.7,816.8 1377.0,819.1 1378.3,822.9 1379.6,825.9 1380.9,827.2 1381.1,827.4 1382.2,827.9 1383.5,828.8 1384.8,829.0 1386.1,828.1 1386.3,828.0 1387.4,827.9 1388.7,828.0 1390.0,828.4 1391.3,829.6 1392.6,830.5 1393.9,830.5 1394.0,830.5 1395.2,829.4 1396.5,828.3 1397.8,827.7 1399.1,828.2 1399.1,828.2 1400.4,829.2 1401.7,828.8 1403.0,828.6 1404.3,829.1 1404.3,829.1 1405.6,829.3 1406.9,829.6 1408.2,829.7 1409.5,829.4 1410.7,829.4 1410.8,829.4 1412.1,829.5 1413.4,830.0 1414.7,831.1 1416.0,831.2 1417.3,829.0 1418.4,827.5 1418.6,827.8 1419.9,830.2 1421.2,832.1 1422.3,832.9 1422.5,832.7 1423.8,831.8 1425.1,831.7 1426.4,832.0 1427.7,832.9 1429.0,833.3 1430.0,832.7 1430.3,832.7 1431.6,832.4 1432.9,831.7 1434.2,831.5 1435.5,832.2 1436.8,832.7 1438.1,832.5 1439.4,832.4 1440.3,832.7 1440.7,832.5 1442.0,832.1 1443.3,831.6 1444.6,831.1 1445.9,830.6 1447.2,830.5 1448.0,830.7 1448.5,831.1 1449.8,831.9 1451.1,832.3 1452.4,832.6 1453.7,832.8 1455.0,832.8 1455.7,832.7 1456.3,832.3 1457.6,831.5 1458.9,830.4 1460.2,829.8 1461.5,830.3 1462.8,830.4 1464.1,829.5 1465.4,829.2 1466.0,829.5 1466.7,830.5 1468.0,831.9 1469.3,832.4 1470.6,832.9 1471.9,833.7 1473.2,834.2 1473.7,834.2 1474.5,832.6 1475.8,830.0 1477.1,827.2 1478.4,825.3 1479.7,825.3 1480.1,825.3 1481.0,826.6 1482.3,827.6 1483.6,828.1 1484.0,827.8 1484.9,825.1 1486.2,822.1 1487.5,821.1 1488.8,819.9 1490.1,818.6 1490.4,818.2 1491.4,817.9 1492.7,816.1 1494.0,815.4 1495.3,817.0 1496.6,817.3 1496.8,816.9 1497.9,816.2 1499.2,812.9 1500.5,805.1 1501.8,792.8 1503.1,783.1 1504.0,782.0 1504.4,782.8 1505.7,793.5 1507.0,809.4 1508.3,822.1 1509.6,829.6 1510.9,834.3 1512.2,836.7 1512.3,836.7 1513.5,834.4 1514.8,833.2 1516.1,835.0 1517.4,835.5 1518.7,833.2 1520.0,831.6 1520.0,831.6 1521.3,832.0 1522.6,832.0 1523.9,831.2 1525.1,830.7 1525.2,830.9 1526.5,832.5 1527.8,834.0 1529.1,835.4 1530.4,836.3 1531.7,836.3 1532.8,836.7 1533.0,836.8 1534.3,837.7 1535.6,838.0 1536.9,837.2 1538.2,836.4 1539.5,836.0 1540.8,835.8 1542.1,835.9 1543.1,835.9 1543.4,835.8 1544.7,835.1 1546.0,834.6 1547.3,834.6 1548.6,834.9 1549.9,835.9 1551.2,836.3 1552.5,835.4 1553.4,834.8 1553.8,835.3 1555.1,836.7 1556.4,837.8 1557.7,838.0 1559.0,838.1 1560.3,837.8 1561.1,837.6 1561.6,837.2 1562.9,836.2 1564.2,835.6 1565.5,835.9 1566.8,836.2 1568.1,836.4 1568.8,836.5 1569.4,836.7 1570.7,836.9 1572.0,837.0 1573.3,836.8 1574.6,837.2 1575.9,838.8 1577.2,839.4 1577.8,838.7 1578.5,837.7 1579.8,836.4 1581.1,836.5 1582.4,836.8 1583.7,837.6 1585.0,838.4 1586.3,839.6 1586.8,840.0 1587.6,839.9 1588.9,838.4 1590.2,837.0 1591.5,835.8 1592.8,835.2 1594.1,835.9 1594.6,836.2 1595.4,836.3 1596.7,836.0 1598.0,835.8 1599.3,835.6 1600.6,835.1 1601.9,833.9 1602.3,833.5 1603.2,832.5 1604.5,831.3 1605.8,830.5 1607.1,830.2 1608.4,829.8 1609.7,829.1 1610.0,829.0 1611.0,830.1 1612.3,831.9 1613.6,833.5 1614.9,834.8 1615.1,835.0 1616.2,834.0 1617.5,831.5 1618.8,829.7 1620.1,829.1 1621.4,828.7 1622.7,828.3 1622.8,828.3 1624.0,827.7 1625.3,826.7 1626.6,825.9 1627.9,825.5 1629.2,824.9 1630.5,824.1 1630.6,824.0 1631.8,823.6 1633.1,823.0 1634.4,822.7 1635.7,823.0 1637.0,822.7 1638.3,821.4 1638.3,821.3 1639.6,818.8 1640.9,816.6 1642.2,814.4 1643.4,812.6 1643.5,812.8 1644.8,814.4 1646.1,816.4 1647.3,818.2 1647.4,818.1 1648.7,817.1 1650.0,816.0 1651.3,814.5 1652.4,813.5 1652.6,814.4 1653.9,820.4 1655.2,825.8 1656.3,829.1 1656.5,829.1 1657.8,829.2 1659.1,829.2 1660.4,829.3 1661.7,829.4 1663.0,829.5 1664.0,829.5 1664.3,829.6 1665.6,830.2 1666.9,831.4 1668.2,833.0 1669.5,835.6 1670.8,836.8 1671.7,835.6 1672.1,834.8 1673.4,833.7 1674.7,835.4 1676.0,836.8 1677.3,837.4 1678.6,837.8 1679.9,837.6 1681.2,837.5 1682.0,837.5 1682.5,837.3 1683.8,837.1 1685.1,837.7 1686.4,837.6 1687.7,836.2 1689.0,835.6 1690.3,836.5 1691.6,837.3 1692.3,837.5 1692.9,837.5 1694.2,836.9 1695.5,834.7 1696.8,833.1 1698.1,832.8 1698.7,832.6 1699.4,831.9 1700.7,830.8 1702.0,829.2 1703.3,825.8 1704.6,819.2 1705.9,811.1 1706.9,807.6 1707.2,807.4 1708.5,810.2 1709.8,814.7 1711.1,816.1 1712.4,814.9 1712.8,814.2 1713.7,814.3 1715.0,811.2 1716.3,803.0 1717.6,795.6 1718.0,795.3 1718.9,798.9 1720.2,806.0 1721.5,802.4 1722.8,795.7 1723.1,795.9 1724.1,802.4 1725.4,817.4 1726.7,827.7 1728.0,832.1 1729.3,834.4 1730.6,835.7 1730.8,835.7 1731.9,834.7 1733.2,834.3 1734.5,835.4 1735.8,835.9 1737.1,834.9 1738.4,834.4 1738.6,834.4 1739.7,834.9 1741.0,835.4 1742.3,835.7 1743.6,836.2 1744.9,837.3 1746.2,838.5 1747.5,839.7 1748.8,840.0 1748.8,839.9 1750.1,838.6 1751.4,837.9 1752.7,838.7 1754.0,839.6 1755.3,840.6 1756.6,841.0 1756.6,840.9 1757.9,839.0 1759.2,837.9 1760.5,838.9 1761.8,839.0 1763.1,837.2 1764.3,836.3 1764.4,836.6 1765.7,838.7 1767.0,840.2 1768.3,840.3 1769.6,840.3 1770.9,840.0 1772.2,839.5 1773.5,838.9 1774.8,839.1 1776.1,841.0 1777.1,842.2 1777.4,841.9 1778.7,840.7 1780.0,839.7 1781.3,839.3 1782.6,839.0 1783.9,839.0 1785.2,838.4 1786.5,836.6 1787.4,835.3 1787.8,836.3 1789.1,839.5 1790.3,842.1 1790.4,842.1 1791.7,842.1 1793.0,841.9 1794.3,841.1 1795.6,840.5 1796.9,840.0 1798.2,839.4 1799.5,838.4 1800.6,837.7 1800.8,837.9 1802.1,838.9 1803.4,839.5 1804.7,839.1 1806.0,838.8 1807.3,838.6 1808.6,838.3 1809.9,837.9 1810.9,837.6 1811.2,837.9 1812.5,838.9 1813.8,839.7 1815.1,840.0 1816.4,840.1 1817.7,839.6 1819.0,839.3 1820.3,839.7 1821.1,840.0 1821.6,840.0 1822.9,839.9 1824.2,839.9 1825.5,839.7 1826.8,839.2 1828.1,838.0 1829.4,837.0 1830.7,836.4 1831.4,836.0 1832.0,836.2 1833.3,836.5 1834.6,837.0 1835.9,837.8 1837.2,838.6 1838.5,839.4 1839.8,840.2 1841.1,841.0 1841.7,841.3 1842.4,840.5 1843.7,838.6 1845.0,837.0 1846.3,836.4 1847.6,835.4 1848.1,834.7 1848.9,833.7 1850.2,832.9 1851.5,833.6 1852.8,833.5 1854.1,831.6 1854.6,831.0 1855.4,829.6 1856.7,828.4 1858.0,826.8 1858.4,826.0 1859.3,826.7 1860.6,828.1 1861.9,830.1 1862.3,830.6 1863.2,831.6 1864.5,832.6 1865.8,834.3 1866.1,835.0 1867.1,836.5 1868.4,837.8 1869.7,837.5 1871.0,837.3 1872.3,837.5 1872.6,837.5 1873.6,837.0 1874.9,836.3 1876.2,835.8 1877.5,835.8 1878.8,836.0 1880.1,836.5 1880.3,836.6 1881.4,838.1 1882.7,839.8 1884.0,840.6 1885.3,839.6 1885.4,839.5 1886.6,838.6 1887.9,839.2 1889.2,839.8 1890.5,840.6 1891.8,841.1 1891.8,841.1 1893.1,839.8 1894.4,838.3 1895.7,836.6 1897.0,835.5 1898.3,835.5 1898.3,835.5 1899.6,836.0 1900.9,836.0 1902.2,835.5 1903.5,833.5 1904.8,832.4 1906.0,833.1 1906.1,833.0 1907.4,832.3 1908.7,831.2 1910.0,829.9 1911.1,828.5 1911.3,828.4 1912.6,826.8 1913.9,824.6 1915.0,823.1 1915.2,823.7 1916.5,827.2 1917.8,829.8 1918.8,830.3 1919.1,830.6 1920.4,832.1 1921.7,833.9 1922.7,835.3 1923.0,835.7 1924.3,837.4 1925.6,838.3 1926.9,837.4 1928.2,837.4 1929.1,838.7 1929.5,839.2 1930.8,840.1 1932.1,839.2 1933.4,839.0 1934.7,840.8 1936.0,841.9 1936.8,841.6 1937.3,841.0 1938.6,840.1 1939.9,840.6 1941.2,840.6 1942.5,839.7 1943.8,838.8 1944.6,838.4 1945.1,838.1 1946.4,837.6 1947.7,837.0 1949.0,836.7 1950.3,837.1 1951.6,836.6 1952.9,834.4 1954.2,833.3 1954.8,833.8 1955.5,834.0 1956.8,834.0 1958.1,832.9 1959.4,831.9 1960.7,831.0 1962.0,830.0 1963.3,829.2 1964.6,828.8 1965.1,829.2 1965.9,830.8 1967.2,832.3 1968.5,830.8 1969.8,830.2 1971.1,831.5 1972.4,832.6 1973.7,833.0 1975.0,833.9 1975.4,834.5 1976.3,835.3 1977.6,835.4 1978.9,833.3 1980.2,832.6 1981.5,835.3 1982.8,836.7 1983.1,836.3 1984.1,835.7 1985.4,834.9 1986.7,834.5 1988.0,834.7 1989.3,836.1 1990.6,837.5 1990.8,837.7 1991.9,838.0 1993.2,838.3 1994.5,838.3 1995.8,838.2 1997.1,837.8 1998.4,837.7 1998.6,837.7 1999.7,838.8 2001.0,839.7 2002.3,839.8 2003.6,840.0 2004.9,840.7 2006.2,840.9 2006.3,840.9 2007.5,838.7 2008.8,837.5 2010.1,838.3 2011.4,838.7 2012.7,838.2 2014.0,837.3 2014.0,837.3 2015.3,834.8 2016.6,832.4 2017.9,829.9 2019.2,827.8 2020.5,826.7 2021.7,826.0 2021.8,826.1 2023.1,827.2 2024.4,827.2 2025.6,825.1 2025.7,825.1 2027.0,825.0 2028.3,825.9 2029.6,826.8 2030.7,827.6 2030.9,827.9 2032.2,829.9 2033.5,832.7 2034.8,834.9 2036.1,835.9 2037.1,836.8 2037.4,836.9 2038.7,837.3 2040.0,837.7 2041.3,838.0 2042.6,838.6 2043.9,840.2 2044.8,841.3 2045.2,841.2 2046.5,841.0 2047.8,840.3 2049.1,838.5 2050.0,837.4 2050.4,836.6 2051.7,834.4 2053.0,831.8 2054.3,828.4 2055.1,826.3 2055.6,825.6 2056.9,824.1 2058.2,822.5 2059.0,821.6 2059.5,821.9 2060.8,822.8 2062.1,823.5 2063.4,824.5 2064.1,825.3 2064.7,826.4 2066.0,828.6 2067.3,830.0 2068.6,831.4 2069.9,832.5 2070.6,833.1 2071.2,833.6 2072.5,835.2 2073.8,836.5 2075.1,837.5 2076.4,838.6 2077.7,840.0 2078.3,840.7 2079.0,840.8 2080.3,840.7 2081.6,840.7 2082.9,840.9 2084.2,840.7 2085.5,839.6 2086.8,839.2 2088.1,840.5 2088.6,841.0 2089.4,841.4 2090.7,841.8 2092.0,841.4 2093.3,839.4 2094.6,838.5 2095.9,840.2 2097.2,841.0 2098.5,839.9 2098.8,839.6 2099.8,839.4 2101.1,839.4 2102.4,839.1 2103.7,838.4 2105.0,838.6 2106.3,840.8 2107.6,842.0 2108.9,841.0 2109.1,840.9 2110.2,840.0 2111.5,840.0 2112.8,840.0 2114.1,840.4 2115.4,840.2 2116.7,838.9 2118.0,837.9 2119.3,837.6 2119.4,837.5 2120.6,837.0 2121.9,836.2 2123.2,835.7 2124.5,835.8 2125.8,835.8 2125.8,835.8 2127.1,837.1 2128.4,838.2 2129.7,839.0 2131.0,839.8 2132.3,840.7 2132.3,840.7 2133.6,840.8 2134.9,840.7 2136.2,840.8 2137.5,841.4 2138.8,841.8 2140.1,841.6 2141.4,842.1 2142.6,843.9 2142.7,844.1 2144.0,844.7 2145.3,843.3 2146.6,841.8 2147.9,840.2 2149.2,839.2 2150.5,839.5 2151.8,840.2 2152.8,841.4 2153.1,841.8 2154.4,842.4 2155.7,840.6 2157.0,839.5 2158.3,840.1 2159.6,840.8 2160.9,841.4 2162.2,841.5 2163.5,840.6 2164.8,840.4 2165.7,841.4 2166.1,841.9 2167.4,843.1 2168.7,843.6 2170.0,843.5 2171.3,842.0 2172.6,841.4 2173.9,842.8 2175.2,843.4 2176.5,842.2 2177.8,841.4 2178.6,841.5 2179.1,841.4 2180.4,841.5 2181.7,842.1 2183.0,842.6 2184.3,842.4 2185.6,842.1 2186.9,841.5 2188.2,841.3 2189.5,842.1 2190.8,842.1 2191.4,841.4 2192.1,840.5 2193.4,839.6 2194.7,839.9 2196.0,840.1 2197.3,839.9 2198.6,840.1 2199.9,841.2 2201.2,842.0 2202.5,842.0 2203.8,841.9 2204.3,841.9 2205.1,841.9 2206.4,841.7 2207.7,840.6 2209.0,840.2 2210.3,841.3 2211.6,842.2 2212.9,842.6 2214.2,842.5 2215.5,841.3 2216.8,840.7 2217.1,840.9 2218.1,841.1 2219.4,841.5 2220.7,842.2 2222.0,842.6 2223.3,842.4 2224.6,842.0 2225.9,841.5 2227.2,841.1 2228.5,841.0 2229.8,840.8 2230.0,840.8 2231.1,840.7 2232.4,840.7 2233.7,840.6 2235.0,840.6 2236.3,840.5 2237.6,840.3 2238.9,839.9 2240.2,839.7 2241.5,840.2 2242.8,840.6 2242.8,840.5 2244.1,840.1 2245.4,840.2 2246.7,841.7 2248.0,842.1 2249.3,840.4 2250.6,839.1 2250.6,839.3 2251.9,842.4 2253.1,845.2 2253.2,845.2 2254.5,844.4 2255.8,843.7 2257.1,843.1 2258.4,842.4 2259.7,841.7 2260.8,841.2 2261.0,841.1 2262.3,841.0 2263.6,840.6 2264.9,839.6 2266.2,838.9 2267.5,838.8 2268.8,838.2 2270.1,836.5 2271.1,835.4 2271.4,835.9 2272.7,838.3 2274.0,840.4 2275.3,842.4 2276.3,843.8 2276.6,843.4 2277.9,841.8 2279.2,841.0 2280.5,841.6 2281.8,842.0 2283.1,841.8 2284.0,841.7 2284.4,841.5 2285.7,840.9 2287.0,840.3 2288.3,840.0 2289.6,839.4 2290.4,838.7 2290.5,838.6" stroke="#FF8012" stroke-width="4.8"/>
<polyline points="203.8,600.5 204.1,600.1 205.1,598.0 206.4,596.2 207.7,597.0 209.0,596.4 209.3,595.4 210.3,592.7 211.6,589.8 212.6,589.1 212.9,589.7 214.2,593.0 215.5,596.6 216.8,599.5 217.0,599.8 218.1,599.9 219.4,600.5 220.7,601.9 222.0,603.3 222.1,603.5 223.3,602.4 224.6,601.3 225.9,600.9 227.2,600.5 228.1,600.3 228.5,601.1 229.8,603.0 231.1,603.0 232.4,603.3 232.4,603.4 233.7,604.0 235.0,605.3 236.3,607.9 237.6,609.9 238.9,610.7 240.2,611.7 241.4,613.6 241.5,613.5 242.8,611.7 244.1,610.2 245.4,608.1 246.6,604.8 246.7,604.9 248.0,605.9 249.3,608.1 250.4,609.9 250.6,609.7 251.9,607.8 253.2,606.3 254.5,605.4 255.8,604.5 257.1,603.5 258.1,602.5 258.4,602.5 259.7,602.5 261.0,602.8 262.3,604.0 263.6,605.1 264.6,605.8 264.9,605.5 266.2,604.2 267.5,602.6 268.8,601.0 269.7,599.8 270.1,600.0 271.4,601.1 272.7,602.2 274.0,603.6 275.3,605.8 276.1,607.2 276.6,607.5 277.9,608.2 279.2,609.4 280.5,611.8 281.8,612.8 282.6,611.4 283.1,609.9 284.4,607.5 285.7,608.3 287.0,608.7 288.3,608.1 289.6,607.6 290.9,607.4 292.2,606.9 292.9,606.2 293.5,606.5 294.8,607.1 296.1,607.6 297.4,608.4 298.7,610.3 300.0,612.1 300.6,612.8 301.3,612.2 302.6,610.8 303.9,608.7 305.2,607.0 306.5,606.2 307.8,604.7 308.3,603.4 309.1,602.5 310.4,602.4 311.7,605.0 313.0,606.9 314.3,607.1 315.6,606.9 316.9,606.1 318.2,605.8 318.6,606.1 319.5,607.0 320.8,607.9 322.1,608.2 323.4,608.4 324.7,608.5 326.0,608.9 327.3,610.2 328.6,611.4 328.9,611.7 329.9,611.7 331.2,611.2 332.5,609.6 333.8,608.3 335.1,607.7 336.4,607.1 336.6,607.0 337.7,607.0 339.0,607.0 340.3,607.1 341.6,607.3 342.9,607.7 344.2,607.4 344.3,607.3 345.5,606.8 346.8,606.9 348.1,608.4 349.4,609.6 350.7,610.1 352.0,610.3 353.3,609.6 354.6,609.7 355.9,611.4 355.9,611.4 357.2,611.3 358.5,610.8 359.8,610.2 361.1,609.5 362.4,608.9 363.7,608.4 364.9,607.5 365.0,607.3 366.3,604.8 367.6,603.2 368.9,603.5 370.0,603.5 370.2,603.9 371.5,606.4 372.8,609.0 373.9,611.1 374.1,610.9 375.4,609.9 376.7,610.1 378.0,610.0 379.3,609.1 380.3,608.3 380.6,607.9 381.9,606.1 383.2,605.0 384.5,605.1 385.8,604.6 387.1,603.0 388.0,601.8 388.4,601.9 389.7,602.3 391.0,602.3 392.3,601.7 393.6,601.8 394.9,603.6 395.7,604.8 396.2,604.4 397.5,602.9 398.8,602.7 400.1,605.6 401.4,608.1 402.7,609.8 403.4,610.8 404.0,610.0 405.3,607.4 406.6,605.6 407.9,606.0 409.2,605.9 410.5,605.2 411.1,604.7 411.8,605.9 413.1,608.4 414.4,610.8 415.7,613.1 416.3,614.1 417.0,613.0 418.3,610.1 419.6,607.5 420.9,605.1 422.2,603.5 423.5,603.5 424.0,603.6 424.8,603.6 426.1,602.9 427.4,601.8 428.7,600.1 430.0,598.9 431.3,598.7 431.7,598.7 432.6,598.3 433.9,597.4 435.2,596.5 436.5,595.7 437.8,594.7 439.1,593.6 439.9,592.8 440.4,593.9 441.7,597.4 443.0,600.1 444.3,600.8 444.6,601.0 445.6,600.1 446.9,601.2 448.2,601.7 449.5,600.6 450.8,599.6 452.1,598.5 452.3,598.3 453.4,597.8 454.7,597.9 456.0,597.0 457.3,594.0 458.6,592.3 458.7,592.5 459.9,592.2 461.2,591.0 462.5,587.9 462.6,587.7 463.8,591.0 465.1,594.4 466.4,598.3 466.4,598.6 467.7,598.1 469.0,597.1 470.3,595.0 471.6,593.7 472.9,594.0 472.9,594.1 474.2,595.9 475.5,596.0 476.8,596.1 478.0,595.8 478.1,595.7 479.4,593.5 480.7,589.9 482.0,579.7 483.3,551.5 484.6,502.6 485.9,464.6 486.2,462.2 487.2,475.5 488.5,521.8 489.8,560.7 491.1,576.6 492.1,579.5 492.4,581.0 493.7,588.4 495.0,595.1 496.0,600.4 496.3,600.0 497.6,597.5 498.9,594.7 500.2,591.9 501.5,589.2 502.4,587.2 502.8,587.3 504.1,587.7 505.4,588.8 506.7,591.6 508.0,592.9 508.9,591.4 509.3,590.9 510.6,589.9 511.9,591.0 513.2,592.3 514.5,594.0 515.3,595.1 515.8,595.6 517.1,596.9 518.4,598.4 519.1,599.7 519.7,600.1 521.0,600.9 522.3,601.6 523.6,602.3 524.9,603.1 526.2,603.6 526.9,603.6 527.5,602.9 528.8,601.0 530.1,598.6 531.4,596.9 532.7,597.0 534.0,596.0 534.6,594.6 535.3,593.3 536.6,591.9 537.9,592.6 539.2,592.8 540.5,592.1 541.8,591.4 542.3,591.1 543.1,594.0 544.4,599.3 545.7,605.6 546.1,607.8 547.0,606.7 548.3,604.1 549.6,601.9 550.9,600.6 552.2,598.6 552.6,597.5 553.5,596.2 554.8,595.3 556.1,596.6 557.4,597.4 558.7,596.9 560.0,596.5 560.3,596.4 561.3,595.6 562.6,594.3 563.9,592.6 565.2,591.3 566.5,591.3 566.7,591.3 567.8,591.8 569.1,591.5 570.4,591.3 571.7,591.5 573.0,592.9 573.1,593.4 574.3,597.0 575.6,599.6 576.9,598.7 578.2,598.5 579.5,599.7 580.8,600.3 580.9,600.2 582.1,600.3 583.4,601.0 584.7,603.3 586.0,605.3 587.3,606.8 588.6,608.3 589.9,605.0 591.2,601.6 592.5,597.9 593.7,594.5 593.8,594.6 595.1,595.3 596.4,595.7 597.7,595.3 599.0,595.9 600.3,598.5 601.4,600.5 601.6,600.3 602.9,598.7 604.2,597.2 605.5,596.1 606.8,594.7 608.1,592.2 609.1,590.5 609.4,591.3 610.7,595.5 612.0,598.9 613.3,600.4 614.3,601.6 614.6,601.3 615.9,600.0 617.2,599.2 618.5,599.7 619.8,599.6 621.1,597.8 622.0,596.5 627.9,582.0 629.5,556.0 630.4,545.0 630.9,522.0 631.5,471.0 632.6,402.0 632.6,300.0 633.8,283.0 635.0,24.0 635.7,-100.0 635.9,-100.0 636.4,24.0 637.6,283.0 639.2,300.0 639.2,402.0 639.5,471.0 639.5,522.0 639.8,545.0 641.2,556.0 643.0,582.0 647.7,592.4 649.0,594.5 650.3,597.3 651.6,601.6 652.8,604.5 652.9,604.4 654.2,601.4 655.5,599.1 656.8,598.7 658.1,597.5 659.4,594.3 660.6,592.3 660.7,592.7 662.0,596.9 663.3,600.6 664.6,603.5 665.7,605.7 665.9,605.7 667.2,605.6 668.5,605.7 669.8,606.0 670.8,606.4 671.1,607.1 672.4,610.5 673.7,613.5 675.0,615.6 676.0,617.3 676.3,617.1 677.6,616.3 678.9,615.8 680.2,616.3 681.5,616.5 682.8,616.0 683.7,615.6 684.1,615.3 685.4,614.4 686.7,613.6 688.0,612.9 689.3,612.5 690.6,612.9 691.4,613.2 691.9,613.4 693.2,614.0 694.5,614.5 695.8,614.7 697.1,614.6 698.4,613.6 699.7,613.3 700.4,613.9 701.0,613.7 702.3,613.2 703.6,612.6 704.9,611.8 706.2,610.9 707.5,609.9 708.8,609.0 709.4,608.6 710.1,608.9 711.4,609.3 712.7,609.3 714.0,608.6 715.3,608.4 715.8,608.7 716.6,609.8 717.9,611.4 719.2,612.6 720.5,614.4 721.8,617.9 723.1,620.5 723.6,620.6 724.4,619.0 725.7,617.0 727.0,615.8 728.3,614.7 729.0,614.1 729.6,614.6 730.9,615.3 732.2,615.2 733.5,615.2 734.8,615.4 736.1,616.0 736.7,616.6 737.4,616.1 738.7,615.2 740.0,614.1 741.3,613.3 742.6,613.0 743.1,612.9 743.9,611.6 745.2,608.6 746.5,605.3 747.0,603.8 747.8,603.4 749.1,603.4 750.4,605.0 751.7,605.9 752.1,605.8 753.0,605.7 754.3,604.3 755.6,601.1 756.9,597.8 758.2,596.2 759.5,595.7 759.9,595.6 760.8,596.1 762.1,599.4 763.4,605.6 764.7,611.0 766.0,614.4 767.3,616.7 767.6,617.0 768.6,616.1 769.9,614.8 771.2,614.1 771.4,614.0 772.5,617.3 773.8,621.4 775.1,625.1 775.3,625.5 776.4,624.4 777.7,623.4 779.0,623.2 780.3,622.9 781.6,622.2 781.7,622.2 782.9,622.5 784.2,622.1 785.5,622.1 786.8,623.0 788.1,624.2 788.1,624.3 789.4,625.8 790.7,626.5 792.0,625.2 793.3,624.1 794.6,623.5 795.9,623.2 797.1,623.8 797.2,623.8 798.5,624.6 799.8,624.4 801.1,624.9 802.3,626.9 802.4,626.9 803.7,625.9 805.0,623.4 806.1,621.4 806.3,621.5 807.6,622.2 808.9,622.7 810.0,622.8 810.2,623.0 811.5,624.1 812.8,625.1 814.1,626.3 815.4,628.0 816.7,629.4 817.7,630.0 818.0,629.9 819.3,629.5 820.6,629.0 821.9,628.6 823.2,628.4 824.5,628.5 825.8,628.9 827.1,628.9 828.4,627.6 829.7,627.6 830.6,629.5 831.0,630.4 832.3,631.4 833.6,628.8 834.9,627.3 836.2,628.1 837.5,628.3 838.8,627.3 840.1,626.3 840.9,625.9 841.4,625.4 842.7,624.8 844.0,625.4 845.3,625.6 846.6,624.8 847.9,624.1 848.6,623.8 849.2,623.4 850.5,622.6 851.8,622.1 853.1,621.2 853.7,620.4 854.4,621.2 855.7,623.0 857.0,625.8 857.6,627.0 858.3,626.6 859.6,625.4 860.9,624.1 862.2,622.4 863.5,620.8 864.0,620.4 864.8,622.7 866.1,626.5 866.6,628.0 867.4,627.7 868.7,627.0 870.0,625.8 871.3,624.6 872.6,623.7 873.9,622.3 874.3,621.6 875.2,619.7 876.5,618.0 877.8,618.6 879.1,618.8 880.4,618.0 881.7,617.0 882.0,616.7 883.0,617.1 884.3,617.9 885.6,619.1 885.9,619.3 886.9,609.8 888.2,598.5 888.4,596.5 889.5,583.8 890.8,567.0 891.0,564.4 892.1,557.9 893.4,551.1 893.6,550.2 894.7,548.4 896.0,545.5 896.1,545.2 897.3,548.1 898.6,552.0 898.7,552.3 899.9,559.5 900.0,560.1 901.2,553.5 901.8,550.2 902.5,547.5 903.8,542.3 903.9,542.1 905.1,545.8 906.4,550.3 906.4,550.4 907.7,563.4 908.2,568.4 909.0,575.8 910.3,588.4 910.3,588.4 911.6,594.1 912.9,599.3 912.9,599.4 914.2,602.5 915.4,605.5 915.5,605.6 916.8,607.8 918.1,610.2 919.4,613.1 920.6,615.5 920.7,615.6 922.0,616.6 923.3,617.9 924.6,619.4 925.7,620.7 925.9,621.3 927.2,625.2 928.3,628.5 928.5,628.6 929.8,629.1 931.1,629.8 932.4,631.0 933.7,632.1 935.0,632.6 936.3,632.9 937.6,632.8 938.6,632.8 938.9,632.2 940.2,630.2 941.5,628.8 942.8,628.7 943.7,628.6 944.1,628.0 945.4,625.7 946.7,623.9 948.0,623.2 948.9,622.8 949.3,623.9 950.6,627.4 951.9,630.3 953.2,632.1 954.0,633.1 954.5,633.2 955.8,633.4 957.1,633.6 958.4,634.0 959.7,634.0 960.4,633.5 961.0,632.1 962.3,629.2 963.6,627.3 964.3,626.2 964.9,626.5 966.2,626.0 967.5,620.7 968.8,608.0 970.1,593.2 971.2,586.9 971.4,586.8 972.7,595.3 974.0,611.8 975.3,623.4 976.6,626.3 977.9,626.4 978.4,626.7 979.2,628.4 980.5,631.1 981.8,633.9 983.1,636.2 983.6,636.6 984.4,635.6 985.7,633.9 987.0,632.2 988.3,628.5 989.6,622.9 990.9,616.8 992.2,613.0 992.6,612.6 993.5,613.7 994.8,618.7 996.1,624.7 997.4,628.8 998.7,630.6 999.0,630.6 1000.0,630.0 1001.3,628.8 1002.6,628.3 1003.9,627.9 1005.2,627.6 1006.5,627.0 1006.7,626.9 1007.8,628.9 1009.1,631.3 1010.4,633.4 1010.6,633.7 1011.7,633.4 1013.0,633.8 1014.3,634.1 1015.6,634.1 1016.9,633.6 1018.2,632.3 1019.5,631.7 1020.8,632.2 1020.9,632.3 1022.1,633.0 1023.4,632.1 1024.7,631.7 1026.0,632.3 1027.3,633.4 1028.6,635.4 1028.6,635.4 1029.9,635.6 1031.2,634.3 1032.4,633.3 1032.5,633.3 1033.8,633.9 1035.1,634.6 1036.4,635.7 1037.7,636.6 1039.0,636.9 1040.1,637.0 1040.3,636.9 1041.6,635.0 1042.9,628.8 1044.2,615.8 1045.5,600.8 1046.8,592.7 1047.1,592.5 1048.1,597.0 1049.4,611.5 1050.7,625.2 1052.0,630.9 1053.3,632.0 1054.3,631.5 1054.6,631.4 1055.9,631.6 1057.2,633.6 1058.5,635.1 1059.8,635.5 1061.1,636.0 1062.4,636.9 1063.3,637.5 1063.7,637.1 1065.0,635.8 1066.3,634.5 1067.6,633.5 1068.9,633.0 1069.7,633.5 1070.2,633.8 1071.5,633.9 1072.8,632.8 1074.1,631.4 1074.8,630.1 1075.4,629.8 1076.7,630.1 1078.0,632.8 1079.3,634.7 1080.6,635.0 1081.9,635.8 1083.2,637.7 1084.5,639.0 1085.1,639.0 1085.8,638.0 1087.1,636.7 1088.4,636.6 1089.7,636.1 1091.0,634.9 1092.3,633.8 1092.8,633.6 1093.6,633.2 1094.9,632.4 1096.2,631.1 1097.5,629.9 1098.8,628.8 1100.1,627.9 1100.6,627.7 1101.4,626.6 1102.7,625.0 1104.0,623.4 1105.3,621.7 1105.7,621.0 1106.6,619.7 1107.9,618.0 1109.0,617.1 1109.2,617.4 1110.5,619.5 1111.8,620.5 1113.1,621.7 1113.4,622.2 1114.4,622.8 1115.7,623.8 1116.0,624.2 1117.0,624.4 1118.3,623.9 1119.6,621.9 1119.8,621.6 1120.9,625.0 1122.2,630.2 1122.4,631.1 1123.5,630.6 1124.8,629.3 1126.1,628.4 1127.4,628.3 1128.7,628.1 1128.8,628.1 1130.0,628.7 1131.3,627.5 1132.6,623.1 1133.9,618.2 1135.2,615.9 1135.8,616.1 1136.5,616.8 1137.8,619.7 1139.1,624.3 1140.4,628.8 1141.7,631.8 1143.0,634.4 1144.3,635.7 1144.3,635.7 1145.6,636.0 1146.9,637.4 1148.1,641.1 1148.2,641.2 1149.5,642.4 1150.8,641.1 1152.1,639.6 1153.4,637.6 1154.7,636.3 1156.0,636.6 1157.1,636.7 1157.3,636.9 1158.6,637.9 1159.9,639.2 1161.2,641.2 1162.5,642.8 1163.6,643.6 1163.8,643.4 1165.1,642.3 1166.4,641.9 1167.7,641.4 1169.0,640.7 1170.0,640.1 1170.3,639.5 1171.6,637.1 1172.9,634.9 1174.2,633.0 1175.1,631.6 1175.5,632.1 1176.8,633.6 1178.1,634.7 1179.4,634.7 1180.7,635.0 1182.0,636.3 1182.8,637.2 1183.3,637.0 1184.6,636.3 1185.9,636.1 1187.2,636.9 1188.5,637.4 1189.8,637.2 1191.1,637.1 1192.4,636.9 1193.1,636.8 1193.7,636.6 1195.0,636.2 1196.3,636.0 1197.6,636.5 1198.9,637.1 1200.2,638.1 1201.5,638.3 1202.1,637.6 1202.8,637.4 1204.1,637.0 1205.4,637.0 1206.7,637.4 1208.0,638.6 1208.6,639.1 1209.3,639.4 1210.6,639.5 1211.9,639.4 1213.2,639.0 1214.5,639.2 1215.8,640.7 1217.1,642.1 1218.4,643.4 1218.8,643.9 1219.7,643.4 1221.0,641.5 1222.3,639.9 1223.6,638.7 1224.9,638.1 1226.2,638.5 1227.5,638.8 1227.8,638.9 1228.8,639.8 1230.1,640.6 1231.4,640.4 1232.7,640.4 1234.0,640.8 1235.3,641.5 1236.6,642.7 1236.8,642.9 1237.9,641.9 1239.2,639.9 1240.5,637.8 1240.7,637.4 1241.8,636.5 1243.1,633.2 1244.4,623.2 1245.7,602.2 1247.0,575.4 1248.3,560.6 1248.4,560.5 1249.6,571.2 1250.9,597.8 1252.2,621.0 1253.5,632.2 1254.8,634.5 1256.1,634.9 1256.1,635.0 1257.4,637.5 1258.7,639.3 1260.0,639.3 1261.3,639.5 1261.6,639.6 1262.6,639.5 1263.9,639.8 1265.2,640.8 1266.5,641.0 1267.8,639.4 1268.0,639.2 1269.1,637.3 1270.4,636.8 1271.7,636.1 1271.9,636.0 1273.0,636.8 1274.3,638.1 1275.6,639.9 1276.9,641.2 1278.2,641.3 1278.3,641.3 1279.5,640.8 1280.8,641.8 1282.1,642.0 1283.4,640.4 1284.7,639.5 1286.0,639.8 1287.3,640.2 1288.6,639.6 1289.9,639.6 1291.2,641.0 1292.5,641.7 1293.8,641.0 1295.0,640.6 1295.1,640.7 1296.4,640.9 1297.7,640.9 1299.0,640.0 1300.3,639.2 1301.6,638.6 1302.7,638.2 1302.9,638.3 1304.2,638.5 1305.5,638.8 1306.8,639.4 1308.1,639.2 1309.4,637.5 1310.7,636.1 1312.0,635.5 1313.0,635.1 1313.3,635.6 1314.6,638.0 1315.9,640.4 1317.2,642.8 1318.1,644.4 1318.5,644.0 1319.8,642.6 1321.1,641.7 1322.4,641.9 1323.7,642.1 1325.0,642.4 1326.3,642.4 1327.1,642.1 1327.6,641.8 1328.9,641.2 1330.2,641.1 1331.5,641.0 1332.8,641.1 1334.1,640.8 1335.4,639.6 1336.7,638.5 1338.0,638.0 1338.7,637.7 1339.3,637.9 1340.6,638.5 1341.9,638.8 1343.2,638.3 1344.5,637.8 1345.8,637.3 1347.1,637.0 1347.7,637.0 1348.4,636.2 1349.7,634.8 1351.0,633.3 1352.3,632.4 1352.8,632.6 1353.6,634.4 1354.9,636.5 1356.2,636.3 1357.5,636.6 1358.0,637.2 1358.8,637.5 1360.1,637.8 1361.4,637.9 1362.7,637.6 1364.0,636.5 1365.3,636.1 1366.6,637.1 1367.0,637.3 1367.9,636.8 1369.2,634.0 1370.5,628.0 1371.8,618.7 1373.1,612.0 1373.4,611.8 1374.4,614.7 1375.7,622.4 1377.0,627.5 1378.3,629.3 1379.6,629.8 1379.8,629.8 1380.9,627.5 1382.2,624.4 1383.5,621.7 1383.7,621.3 1384.8,623.1 1386.1,624.3 1387.4,623.3 1387.6,623.2 1388.7,623.4 1390.0,624.9 1391.3,626.5 1392.6,628.1 1393.9,629.6 1394.0,629.7 1395.2,630.8 1396.5,632.0 1397.8,633.0 1399.1,634.0 1400.4,634.7 1401.7,635.6 1401.7,635.6 1403.0,635.5 1404.3,635.5 1405.6,635.8 1406.9,635.7 1408.2,634.8 1409.4,634.3 1409.5,634.3 1410.8,634.8 1412.1,635.1 1413.4,634.8 1414.7,635.2 1416.0,636.9 1417.3,637.6 1418.6,636.1 1419.7,635.4 1419.9,635.9 1421.2,639.4 1422.5,641.8 1423.8,641.4 1424.8,641.3 1425.1,641.1 1426.4,639.8 1427.7,638.6 1429.0,637.5 1430.3,636.9 1431.6,637.2 1432.9,637.2 1434.2,636.3 1435.1,635.7 1435.5,635.7 1436.8,635.8 1438.1,636.5 1439.4,638.6 1440.7,640.3 1441.6,641.0 1442.0,640.3 1443.3,638.5 1444.6,636.8 1445.9,635.2 1446.7,634.3 1447.2,634.7 1448.5,635.5 1449.8,636.5 1451.1,636.8 1452.4,635.6 1453.7,634.9 1455.0,635.2 1455.7,635.4 1456.3,636.5 1457.6,639.3 1458.9,641.7 1459.6,642.3 1460.2,641.5 1461.5,640.3 1462.8,639.5 1464.1,638.0 1465.4,635.2 1466.0,633.9 1466.7,633.3 1468.0,633.1 1469.3,633.3 1470.6,634.3 1471.9,634.2 1473.2,631.7 1473.7,630.7 1474.5,629.2 1475.8,628.1 1477.1,626.5 1478.4,623.6 1478.8,622.6 1479.7,623.1 1481.0,624.5 1482.3,625.6 1482.7,625.8 1483.6,624.2 1484.9,622.5 1486.2,622.4 1487.5,621.2 1488.8,617.5 1490.1,614.5 1490.4,614.2 1491.4,615.8 1492.7,617.8 1494.0,619.6 1495.3,621.7 1495.6,622.3 1496.6,621.9 1497.9,620.0 1499.2,614.9 1500.5,606.1 1501.8,594.1 1503.1,582.5 1504.0,578.3 1504.4,578.1 1505.7,583.1 1507.0,592.6 1508.3,599.8 1509.6,602.7 1510.9,602.8 1511.0,602.8 1512.2,617.0 1513.5,631.6 1513.6,632.2 1514.8,633.3 1516.1,634.3 1517.4,635.2 1518.7,636.9 1518.7,636.9 1520.0,636.7 1521.3,635.7 1522.6,633.0 1523.8,630.5 1523.9,630.5 1525.2,630.7 1526.5,631.4 1527.8,633.1 1529.1,634.4 1530.3,634.8 1530.4,634.8 1531.7,634.8 1533.0,636.6 1534.3,637.4 1535.6,635.6 1536.9,634.0 1538.2,632.7 1539.3,632.0 1539.5,632.4 1540.8,634.3 1542.1,635.5 1543.4,635.2 1544.7,635.6 1546.0,637.4 1547.3,638.5 1548.6,638.2 1549.9,637.8 1550.8,637.2 1551.2,636.7 1552.5,635.7 1553.8,636.1 1555.1,636.1 1556.4,635.3 1557.7,634.6 1558.6,634.5 1559.0,635.0 1560.3,636.5 1561.6,637.9 1562.9,638.9 1563.7,639.2 1564.2,638.8 1565.5,638.3 1566.8,639.5 1568.1,640.0 1569.4,639.1 1570.7,638.3 1572.0,638.0 1573.3,638.1 1574.0,638.5 1574.6,639.1 1575.9,640.1 1577.2,641.0 1578.5,641.1 1579.8,639.6 1581.1,639.0 1582.4,640.7 1583.7,641.1 1584.3,640.0 1585.0,638.2 1586.3,636.2 1587.6,637.1 1588.9,637.3 1590.2,635.8 1590.7,635.2 1591.5,636.0 1592.8,638.0 1594.1,639.7 1595.4,640.7 1595.8,641.1 1596.7,640.2 1598.0,639.3 1599.3,638.5 1600.6,637.5 1601.9,636.5 1603.2,635.4 1604.5,634.4 1604.8,634.3 1605.8,633.9 1607.1,633.5 1608.4,633.7 1609.7,633.0 1611.0,630.0 1611.3,629.4 1612.3,629.6 1613.6,631.2 1614.9,632.4 1616.2,632.6 1617.5,633.1 1617.7,633.2 1618.8,631.8 1620.1,631.2 1621.4,632.6 1622.7,632.7 1624.0,629.8 1625.3,627.6 1626.6,626.9 1626.7,626.8 1627.9,626.2 1629.2,625.7 1630.5,625.2 1631.8,624.7 1633.1,623.9 1633.1,623.9 1634.4,621.3 1635.7,619.1 1637.0,617.8 1638.3,615.9 1638.3,615.8 1639.6,612.8 1640.9,609.9 1642.2,607.1 1643.5,605.1 1644.2,604.8 1644.8,606.2 1646.1,608.8 1647.4,610.5 1648.7,612.0 1650.0,613.0 1651.1,614.1 1651.3,614.4 1652.6,616.3 1653.9,618.1 1655.2,619.6 1656.3,621.0 1656.5,621.6 1657.8,625.1 1659.1,627.6 1660.4,628.0 1661.4,628.4 1661.7,628.6 1663.0,629.4 1664.3,630.7 1665.6,633.1 1666.9,634.7 1667.8,634.7 1668.2,634.3 1669.5,633.8 1670.8,635.3 1672.1,636.3 1673.4,636.2 1674.7,636.0 1676.0,635.2 1676.8,634.6 1677.3,634.7 1678.6,635.1 1679.9,635.4 1681.2,635.5 1682.5,636.1 1683.8,637.7 1685.1,638.6 1686.4,638.0 1687.1,637.6 1687.7,637.3 1689.0,636.6 1690.3,636.2 1691.6,636.5 1692.3,636.7 1692.9,636.6 1694.2,636.9 1695.5,636.9 1696.8,636.4 1698.1,635.8 1698.7,635.3 1699.4,634.3 1700.7,632.7 1702.0,631.4 1703.3,628.1 1704.6,620.9 1705.9,612.7 1706.9,609.9 1707.2,609.9 1708.5,613.8 1709.8,618.8 1711.1,621.0 1712.4,620.6 1712.8,620.1 1713.7,620.6 1715.0,621.2 1716.3,620.5 1717.6,616.4 1718.9,608.7 1720.2,600.2 1721.5,595.0 1721.8,594.8 1722.8,597.7 1724.1,607.5 1725.4,617.8 1726.7,624.7 1728.0,628.5 1729.3,630.2 1729.6,630.4 1730.6,631.4 1731.9,633.4 1733.2,637.0 1734.5,639.4 1734.7,639.3 1735.8,638.4 1737.1,638.0 1738.4,639.3 1739.7,640.5 1741.0,641.1 1742.3,641.6 1743.6,641.6 1743.7,641.6 1744.9,640.9 1746.2,640.9 1747.5,640.8 1748.8,640.2 1750.1,639.7 1751.4,639.6 1751.4,639.6 1752.7,639.6 1754.0,639.4 1755.3,639.2 1756.6,639.3 1757.8,639.3 1757.9,639.3 1759.2,639.8 1760.5,640.1 1761.8,639.9 1763.1,639.8 1764.3,640.2 1764.4,640.2 1765.7,640.3 1767.0,640.4 1768.3,640.4 1769.6,640.4 1770.9,640.2 1772.2,639.8 1773.5,640.0 1774.8,641.6 1776.1,642.7 1777.1,642.4 1777.4,642.2 1778.7,641.2 1780.0,640.5 1781.3,639.5 1782.6,637.9 1783.9,636.6 1784.8,636.2 1785.2,636.2 1786.5,635.8 1787.7,635.0 1787.8,635.0 1789.1,635.3 1790.4,637.2 1791.7,638.7 1793.0,639.5 1794.3,640.2 1795.4,640.4 1795.6,640.4 1796.9,640.5 1798.2,640.3 1799.5,640.1 1800.8,639.7 1801.9,639.5 1802.1,639.8 1803.4,641.3 1804.7,642.5 1806.0,643.3 1807.3,644.3 1808.3,645.2 1808.6,645.2 1809.9,644.8 1811.2,644.2 1812.5,643.4 1813.4,642.4 1813.8,642.2 1815.1,641.7 1816.4,641.7 1817.7,641.8 1819.0,642.2 1820.3,642.3 1821.6,642.0 1822.9,641.7 1824.2,641.1 1825.5,640.3 1826.3,639.5 1826.8,639.0 1828.1,638.4 1829.4,639.5 1830.7,640.5 1832.0,641.6 1833.3,642.2 1834.6,641.8 1835.3,641.6 1835.9,641.9 1837.2,642.8 1838.5,643.2 1839.8,642.7 1841.1,642.6 1842.4,643.2 1843.0,643.5 1843.7,643.4 1845.0,643.5 1846.3,643.4 1847.6,642.9 1848.9,642.4 1849.4,642.1 1850.2,642.0 1851.5,641.8 1852.8,641.5 1854.1,640.1 1855.4,637.1 1856.7,633.5 1858.0,631.2 1858.4,631.1 1859.3,631.2 1860.6,632.4 1861.9,635.1 1863.2,638.6 1864.5,640.7 1865.8,641.4 1867.1,641.7 1867.4,641.7 1868.4,641.5 1869.7,641.0 1871.0,640.0 1872.3,639.8 1873.6,641.5 1874.9,642.1 1875.1,641.8 1876.2,640.2 1877.5,639.0 1878.8,639.3 1880.1,638.8 1881.4,636.8 1882.7,635.6 1882.8,635.7 1884.0,637.6 1885.3,639.5 1886.6,640.6 1887.9,641.5 1889.2,642.0 1890.5,643.0 1890.6,643.1 1891.8,643.9 1893.1,644.6 1894.4,645.4 1895.7,645.2 1897.0,642.8 1898.3,641.0 1898.3,641.0 1899.6,640.6 1900.9,640.7 1902.2,641.9 1903.5,642.4 1904.8,641.2 1906.0,640.2 1906.1,640.0 1907.4,638.1 1908.7,636.1 1910.0,634.1 1911.3,632.7 1912.6,632.6 1913.9,632.1 1915.0,630.6 1915.2,630.7 1916.5,631.8 1917.8,633.8 1919.1,635.0 1920.4,634.5 1921.7,634.6 1923.0,636.1 1924.3,637.4 1925.6,638.4 1926.6,639.2 1926.9,639.3 1928.2,640.1 1929.5,641.0 1930.8,642.5 1932.1,643.7 1933.4,644.2 1934.3,644.5 1934.7,644.1 1936.0,642.9 1937.3,642.1 1938.6,642.2 1939.9,642.2 1941.2,641.8 1942.5,641.7 1943.8,642.2 1945.1,642.2 1946.4,641.2 1947.1,640.7 1947.7,640.2 1949.0,639.1 1950.3,638.4 1951.6,638.4 1952.9,638.3 1954.2,638.0 1955.5,637.8 1956.8,638.0 1957.4,638.1 1958.1,637.7 1959.4,636.8 1960.7,635.9 1962.0,634.9 1963.3,633.6 1964.6,631.9 1965.1,631.2 1965.9,631.5 1967.2,632.1 1968.5,633.1 1969.8,634.9 1971.1,636.4 1972.4,637.0 1973.7,637.7 1975.0,638.6 1975.4,638.9 1976.3,638.6 1977.6,638.8 1978.9,638.8 1980.2,638.4 1981.5,638.2 1982.8,638.0 1983.1,638.0 1984.1,638.2 1985.4,637.7 1986.7,637.4 1988.0,637.6 1989.3,638.3 1990.6,640.4 1990.8,640.8 1991.9,641.7 1993.2,641.4 1994.5,641.8 1995.8,643.7 1997.1,644.8 1998.4,644.1 1998.6,644.0 1999.7,642.8 2001.0,642.5 2002.3,641.8 2003.6,640.4 2003.7,640.3 2004.9,641.3 2006.2,644.5 2007.5,646.6 2008.8,645.7 2010.1,645.4 2010.1,645.5 2011.4,644.4 2012.7,643.2 2014.0,641.6 2015.3,640.2 2016.6,639.1 2016.6,639.1 2017.9,638.0 2019.2,637.4 2020.5,636.3 2021.8,634.5 2023.1,632.7 2024.4,631.3 2025.6,630.2 2025.7,630.4 2027.0,632.6 2028.3,634.0 2029.6,633.7 2030.9,634.4 2032.2,637.4 2033.5,640.0 2034.6,641.3 2034.8,641.6 2036.1,642.6 2037.4,641.9 2038.7,642.2 2039.7,644.0 2040.0,644.1 2041.3,643.9 2042.6,642.3 2043.9,640.8 2045.2,639.6 2046.5,638.8 2047.4,638.9 2047.8,639.5 2049.1,641.7 2050.4,643.9 2051.3,645.3 2051.7,644.1 2053.0,640.4 2054.3,636.4 2055.6,631.7 2056.4,628.8 2056.9,629.2 2058.2,630.1 2059.5,631.3 2060.3,632.2 2060.8,630.9 2062.1,627.4 2063.4,623.6 2064.1,621.4 2064.7,622.6 2066.0,625.4 2067.3,627.8 2068.6,629.4 2069.3,630.2 2069.9,631.5 2071.2,635.0 2072.5,638.2 2073.1,639.3 2073.8,639.9 2075.1,641.7 2076.4,644.3 2077.7,646.3 2079.0,646.5 2079.6,646.6 2080.3,645.8 2081.6,644.6 2082.9,643.6 2084.2,643.1 2085.5,642.5 2086.8,642.0 2088.1,641.3 2088.6,640.8 2089.4,640.5 2090.7,639.9 2092.0,639.2 2093.3,639.0 2094.6,640.0 2095.9,640.9 2097.2,641.4 2098.5,641.8 2098.8,641.9 2099.8,642.5 2101.1,642.9 2102.4,642.9 2103.7,643.0 2105.0,643.3 2106.3,643.8 2107.6,644.7 2108.9,645.6 2109.1,645.7 2110.2,645.5 2111.5,645.2 2112.8,645.1 2114.1,644.7 2115.4,643.7 2116.7,642.9 2118.0,642.9 2119.3,642.4 2119.4,642.3 2120.6,641.3 2121.9,640.8 2123.2,641.2 2124.5,640.0 2125.8,636.8 2127.1,634.6 2127.1,634.6 2128.4,634.9 2129.7,637.0 2131.0,639.5 2132.3,640.6 2133.6,640.9 2134.8,640.8 2134.9,640.8 2136.2,640.9 2137.5,641.6 2138.8,643.6 2140.1,645.1 2141.4,645.2 2142.6,645.6 2142.7,645.6 2144.0,645.7 2145.3,645.2 2146.6,643.8 2147.9,642.9 2149.2,643.3 2150.5,643.5 2151.8,643.3 2152.8,643.0 2153.1,642.8 2154.4,642.2 2155.7,641.9 2157.0,642.2 2158.3,642.3 2159.6,642.2 2160.9,642.4 2162.2,643.1 2163.5,643.5 2164.8,643.5 2165.7,643.4 2166.1,643.6 2167.4,644.1 2168.7,644.3 2170.0,644.1 2171.3,643.8 2172.6,643.2 2173.9,642.8 2175.2,643.0 2176.5,643.3 2177.8,644.0 2179.1,644.8 2180.4,645.5 2181.1,646.0 2181.7,646.4 2183.0,647.7 2184.3,648.3 2185.6,647.4 2186.9,646.6 2188.2,645.7 2189.5,644.8 2190.8,643.9 2191.4,643.5 2192.1,643.6 2193.4,644.8 2194.7,645.4 2196.0,644.7 2197.3,643.8 2198.6,642.6 2199.1,642.0 2199.9,642.5 2201.2,644.4 2202.5,645.6 2203.8,645.6 2205.1,645.6 2206.4,645.8 2207.7,645.8 2209.0,645.3 2209.4,645.1 2210.3,644.6 2211.6,645.5 2212.9,645.7 2214.2,644.1 2215.5,642.6 2216.8,641.4 2217.1,641.1 2218.1,641.3 2219.4,641.3 2220.7,641.6 2222.0,642.5 2223.3,643.7 2224.6,645.2 2225.9,646.3 2227.2,646.4 2227.4,646.4 2228.5,646.5 2229.8,647.5 2231.1,648.0 2232.4,647.5 2233.7,647.0 2235.0,646.5 2236.3,646.4 2237.6,646.8 2238.9,646.9 2240.2,646.5 2240.3,646.5 2241.5,645.5 2242.8,644.1 2244.1,643.2 2245.4,643.3 2246.7,643.5 2248.0,643.8 2249.3,643.6 2249.3,643.6 2250.6,643.2 2251.9,643.2 2253.2,643.9 2254.5,644.4 2255.8,644.4 2257.1,645.1 2258.3,647.2 2258.4,647.4 2259.7,647.9 2261.0,645.9 2262.3,644.4 2263.6,644.5 2264.9,644.5 2266.2,644.5 2267.5,644.8 2268.6,645.7 2268.8,645.9 2270.1,647.0 2271.4,647.4 2272.7,647.3 2274.0,646.5 2275.3,646.2 2276.6,647.1 2277.9,647.6 2278.8,647.0 2279.2,646.7 2280.5,645.9 2281.8,646.2 2283.1,646.8 2284.4,648.3 2285.7,648.8 2287.0,647.4 2288.3,646.2 2289.6,645.3 2290.4,644.7 2290.5,644.6" stroke="#FF00FF" stroke-width="4.8"/>
<polyline points="203.8,402.5 205.1,402.6 206.4,402.5 206.7,402.4 207.7,402.7 209.0,403.5 210.3,405.5 211.6,406.5 212.9,405.1 214.2,405.2 215.5,408.6 216.8,410.6 218.1,409.7 218.3,409.6 219.4,407.6 220.7,406.7 222.0,405.4 223.3,403.4 223.4,403.2 224.6,401.4 225.9,400.4 227.2,398.3 228.1,395.2 228.5,395.3 229.8,396.7 231.1,400.5 232.4,404.0 232.4,404.1 233.7,405.1 235.0,406.5 236.3,408.6 237.6,410.0 238.9,409.7 240.2,409.9 241.4,411.6 241.5,411.6 242.8,411.8 244.1,411.2 245.4,411.0 246.7,411.5 248.0,411.9 249.3,412.1 250.6,411.9 251.9,410.7 253.2,410.3 254.5,411.7 255.8,412.5 256.9,412.3 257.1,412.2 258.4,411.7 259.7,411.1 261.0,410.7 262.3,410.6 263.6,410.2 264.9,408.8 266.2,407.9 267.1,407.9 267.5,408.3 268.8,409.5 270.1,410.1 271.4,411.0 272.7,412.6 274.0,414.2 275.3,415.9 276.6,417.1 277.4,417.3 277.9,416.9 279.2,415.7 280.5,415.3 281.8,414.7 283.1,413.8 284.4,413.0 285.7,412.3 287.0,411.6 288.3,411.1 289.6,410.6 290.9,410.4 292.2,409.8 292.9,409.1 293.5,408.8 294.8,408.5 296.1,409.4 297.4,410.3 298.7,411.2 300.0,411.7 301.3,411.1 302.6,410.5 303.1,410.2 303.9,411.9 305.2,414.9 306.5,418.0 307.8,421.3 308.3,422.8 309.1,420.7 310.4,417.7 311.7,415.7 313.0,412.9 313.4,411.2 314.3,411.0 315.6,411.0 316.9,411.3 318.2,412.0 319.5,413.4 320.8,414.9 322.1,417.0 323.4,418.3 323.7,418.1 324.7,416.7 326.0,415.3 327.3,414.9 328.6,414.4 329.9,413.6 331.2,412.7 332.5,411.6 333.8,410.5 334.0,410.3 335.1,410.0 336.4,410.0 337.7,410.6 339.0,411.2 340.3,411.4 341.6,411.8 342.9,412.5 344.2,413.1 344.3,413.1 345.5,412.4 346.8,411.5 348.1,410.6 349.4,409.6 350.7,408.2 352.0,407.0 353.3,406.4 354.6,405.4 354.6,405.4 355.9,408.2 357.2,411.8 358.4,416.8 358.5,416.8 359.8,416.5 361.1,414.9 362.4,413.3 363.7,411.6 365.0,410.3 366.3,409.7 367.4,409.0 367.6,408.9 368.9,408.1 370.2,407.7 371.5,408.0 372.8,408.2 374.1,408.0 375.1,407.9 375.4,408.3 376.7,410.8 378.0,412.5 379.3,412.2 380.6,412.7 381.6,414.3 381.9,414.1 383.2,413.6 384.5,413.4 385.8,413.3 387.1,413.0 388.4,412.7 389.7,412.5 391.0,411.9 392.3,410.9 393.1,410.1 393.6,408.6 394.9,403.8 395.7,400.7 396.2,400.8 397.5,401.2 398.8,401.6 400.1,401.7 401.4,401.4 402.7,400.4 404.0,399.6 405.3,399.3 406.0,399.1 406.6,397.8 407.9,394.6 409.2,391.6 410.5,389.1 411.8,386.6 413.1,384.3 413.2,384.1 414.4,389.8 415.7,396.0 417.0,402.2 417.6,405.0 418.3,405.1 419.6,405.4 420.9,405.7 422.2,405.9 423.5,405.7 424.8,406.0 426.1,407.0 426.6,407.4 427.4,407.1 428.7,406.1 430.0,405.4 431.3,405.2 432.6,404.9 433.9,404.1 435.2,403.1 436.5,401.6 436.9,401.2 437.8,401.2 439.1,401.3 440.4,401.5 441.7,401.8 443.0,402.4 444.3,403.6 445.6,404.5 446.9,404.7 447.1,404.8 448.2,401.0 449.5,396.2 450.8,391.5 452.1,387.2 452.3,386.5 453.4,387.8 454.7,389.0 456.0,390.6 457.3,393.1 457.4,393.4 458.6,392.2 459.9,389.7 461.2,387.8 462.5,387.1 463.8,386.0 465.1,383.7 465.1,383.6 466.4,385.7 467.7,388.4 469.0,390.8 469.0,390.8 470.3,389.0 471.6,387.7 472.9,387.7 474.2,387.6 475.4,386.9 475.5,386.8 476.8,383.1 478.1,372.4 479.3,349.3 479.4,347.3 480.7,301.8 482.0,243.1 483.3,204.4 483.6,201.9 484.6,214.5 485.9,264.5 487.2,320.1 488.3,353.4 488.5,357.6 489.8,377.3 491.1,385.5 492.4,389.6 493.4,391.5 493.7,390.8 495.0,387.4 496.3,385.2 497.6,382.5 498.6,379.4 498.9,379.4 500.2,380.0 501.5,381.8 502.8,383.1 504.1,383.1 505.0,383.2 505.4,383.4 506.7,383.8 508.0,383.6 509.3,381.9 510.6,380.2 511.4,379.1 511.9,379.7 513.2,381.3 514.5,382.7 515.8,384.8 516.6,386.8 517.1,388.4 518.4,392.4 519.7,395.8 521.0,398.3 521.7,398.5 522.3,397.0 523.6,394.9 524.9,396.0 526.2,396.5 527.5,395.8 528.8,394.7 530.1,392.9 531.4,391.0 532.0,390.1 532.7,389.6 534.0,389.5 535.3,391.0 536.6,391.9 537.9,391.4 539.2,391.0 540.5,390.9 541.8,390.7 542.3,390.6 543.1,388.0 544.4,384.2 545.7,381.5 546.1,380.5 547.0,382.3 548.3,384.6 549.6,386.6 550.0,387.0 550.9,385.7 552.2,384.4 553.5,384.1 554.8,383.3 555.1,382.7 556.1,383.6 557.4,385.5 558.7,389.0 560.0,392.0 560.3,392.5 561.3,391.7 562.6,390.9 563.9,390.2 565.2,389.6 566.5,389.2 567.8,389.0 569.1,389.1 570.4,389.0 570.6,388.9 571.7,390.0 573.0,391.2 574.3,392.3 575.6,393.5 575.7,393.6 576.9,394.3 578.2,395.2 579.5,396.3 580.8,397.4 582.1,398.9 583.4,400.1 583.4,400.1 584.7,398.2 586.0,396.4 587.3,395.0 588.6,393.3 589.9,390.9 591.1,388.3 591.2,388.3 592.5,385.6 593.8,384.0 595.1,385.0 596.3,385.5 596.4,385.6 597.7,386.1 599.0,386.2 600.3,384.9 601.6,383.8 602.9,383.3 604.2,382.9 605.5,382.7 606.6,382.5 606.8,382.7 608.1,384.0 609.4,385.4 610.7,386.8 612.0,387.9 613.3,388.5 614.3,389.0 614.6,389.3 615.9,390.4 617.2,391.4 618.5,391.9 619.8,392.7 620.7,393.8 625.0,385.0 626.9,368.0 628.9,334.0 630.5,300.0 631.0,191.0 631.3,24.0 632.0,-300.0 639.0,-300.0 639.5,24.0 639.5,191.0 640.2,300.0 641.5,334.0 642.8,368.0 643.8,385.0 647.2,381.4 648.5,381.6 649.8,381.4 651.1,380.2 652.4,379.2 652.8,379.0 653.7,378.3 655.0,371.2 656.3,355.1 657.6,343.0 658.0,342.7 658.9,347.6 660.2,363.1 661.5,376.8 662.8,383.8 663.1,384.8 664.1,387.8 665.4,390.1 666.7,390.3 668.0,391.0 668.3,391.5 669.3,395.9 670.6,401.4 671.4,404.5 671.9,403.2 673.2,400.4 674.5,398.4 674.7,398.0 675.8,400.4 677.1,402.0 678.4,404.1 678.6,404.5 679.7,406.1 681.0,407.7 682.3,408.3 683.6,409.0 683.7,409.0 684.9,407.3 686.2,405.9 687.5,405.6 688.8,405.1 690.1,403.9 691.4,402.8 691.4,402.8 692.7,404.1 694.0,404.9 695.3,404.8 696.6,404.9 697.8,405.3 697.9,405.2 699.2,402.9 700.5,401.3 701.8,399.4 703.1,396.9 704.3,394.6 704.4,394.7 705.7,396.0 707.0,397.3 708.3,398.4 709.4,399.5 709.6,400.4 710.9,407.0 712.0,412.4 712.2,412.0 713.5,409.6 714.8,407.6 716.1,406.6 717.1,405.7 717.4,406.2 718.7,408.6 720.0,411.1 721.3,413.7 722.3,415.6 722.6,415.1 723.9,413.0 725.2,411.8 726.5,412.6 727.7,413.0 727.8,413.0 729.1,412.0 730.4,411.1 731.7,410.5 733.0,409.9 734.3,409.1 735.4,408.3 735.6,408.4 736.9,409.1 738.2,410.3 739.5,412.7 740.6,414.5 740.8,414.1 742.1,411.9 743.4,410.5 744.7,410.9 746.0,410.0 747.0,407.4 747.3,407.2 748.6,406.9 749.9,407.9 751.2,409.1 752.1,410.1 752.5,410.6 753.8,412.9 755.1,415.5 756.4,417.9 757.7,419.8 758.6,421.1 759.0,421.4 760.3,422.4 761.6,422.2 762.9,419.7 764.2,417.4 765.0,416.4 765.5,416.8 766.8,418.7 768.1,422.1 769.4,424.7 770.1,425.1 770.7,423.9 772.0,421.1 773.3,418.9 774.6,417.2 775.9,416.8 777.2,415.8 778.5,413.9 779.8,411.7 780.4,410.5 781.1,411.1 782.4,413.0 783.7,416.2 785.0,418.7 786.3,419.9 786.9,420.4 787.6,420.2 788.9,420.7 790.2,420.8 791.5,419.6 792.8,418.9 794.1,419.1 794.6,419.2 795.4,419.6 796.7,419.5 798.0,419.3 799.3,419.3 800.6,420.2 801.9,423.4 802.3,424.3 803.2,424.2 804.5,421.5 805.8,419.6 807.1,419.1 808.4,418.5 808.7,418.3 809.7,418.9 811.0,420.0 812.3,421.5 813.6,423.0 814.9,424.5 815.1,424.8 816.2,423.8 817.5,422.3 818.8,421.0 820.1,419.8 821.4,418.8 822.7,418.1 822.9,418.1 824.0,416.3 825.3,412.9 826.6,409.8 827.9,407.0 828.0,406.7 829.2,408.2 830.5,410.3 831.8,412.5 833.1,415.0 833.1,415.1 834.4,415.6 835.7,415.4 837.0,416.0 838.3,418.1 839.6,419.5 839.6,419.5 840.9,420.8 842.2,422.4 843.5,424.7 844.7,426.8 844.8,426.8 846.1,425.5 847.4,423.9 848.7,421.5 850.0,419.6 851.1,418.6 851.3,418.7 852.6,419.9 853.9,421.6 855.2,422.9 856.3,423.4 856.5,423.3 857.8,422.1 859.1,420.6 860.4,419.7 861.7,420.3 863.0,419.8 864.0,417.6 864.3,417.3 865.6,417.1 866.9,418.7 868.2,420.1 869.1,420.9 869.5,421.4 870.8,422.7 872.1,422.8 873.4,424.3 874.3,427.6 874.7,428.2 876.0,428.7 877.3,426.4 878.6,424.1 879.4,422.7 879.9,422.5 881.2,422.8 882.5,425.1 883.8,426.5 885.1,425.7 885.9,425.0 886.4,424.3 887.7,419.9 889.0,405.4 890.3,375.5 891.6,340.6 892.8,326.4 892.9,326.6 894.2,345.6 895.5,379.8 896.8,406.7 898.1,420.6 899.4,425.1 900.7,425.1 901.3,424.8 902.0,424.1 903.3,423.2 904.6,422.4 905.9,421.9 907.2,421.0 908.5,419.2 909.0,418.5 909.8,418.7 911.1,419.4 912.4,420.0 913.7,420.7 915.0,421.2 915.4,421.2 916.3,421.1 917.6,421.5 918.9,423.0 920.2,424.4 921.5,425.4 921.9,425.7 922.8,427.3 924.1,428.9 925.4,430.8 925.7,431.3 926.7,432.4 928.0,433.4 929.3,433.5 930.6,434.0 930.9,434.3 931.9,434.6 933.2,434.9 934.5,435.0 935.8,435.7 937.1,437.8 937.3,438.1 938.4,438.9 939.7,438.1 941.0,437.9 941.6,438.5 942.3,438.3 943.6,437.0 944.9,434.0 946.2,431.5 946.3,431.4 947.5,432.0 948.8,432.6 950.1,433.3 951.4,434.1 952.7,435.0 952.7,435.0 954.0,436.3 955.3,436.8 956.6,437.6 956.6,437.6 957.9,435.9 959.2,434.2 960.5,432.4 961.8,430.6 963.0,429.0 963.1,429.0 964.4,428.2 965.7,423.5 967.0,410.9 968.3,387.3 969.6,357.0 970.9,337.6 971.2,336.8 972.2,345.0 973.5,373.7 974.8,404.2 976.1,424.0 977.4,432.5 978.4,434.4 978.7,434.4 980.0,433.9 981.3,433.9 982.6,433.6 983.9,432.9 984.9,432.4 985.2,432.6 986.5,432.7 987.8,430.7 989.1,423.5 990.4,409.7 991.7,395.0 992.6,391.0 993.0,392.2 994.3,404.5 995.6,420.8 996.9,432.1 998.2,436.3 999.5,435.3 999.8,435.0 1000.8,431.9 1002.1,429.6 1003.4,427.1 1004.7,424.3 1005.4,422.7 1006.0,423.7 1007.3,426.0 1008.6,428.6 1009.9,431.8 1010.6,433.5 1011.2,434.1 1012.5,434.7 1013.8,435.5 1015.1,436.6 1015.7,437.2 1016.4,436.8 1017.7,436.7 1019.0,436.1 1020.3,434.2 1020.9,433.3 1021.6,434.8 1022.9,436.5 1023.4,436.1 1024.2,429.2 1025.5,416.0 1026.5,409.4 1026.8,408.8 1028.1,410.6 1029.4,414.0 1030.6,413.0 1030.7,413.3 1032.0,419.2 1033.3,426.4 1034.6,432.2 1035.8,435.0 1035.9,434.8 1037.2,432.6 1038.5,431.3 1039.8,429.5 1040.1,428.8 1041.1,426.6 1042.4,419.7 1043.7,405.2 1045.0,384.3 1046.3,366.6 1047.1,362.8 1047.6,364.3 1048.9,379.2 1050.2,399.5 1051.5,413.9 1052.8,420.8 1054.1,423.5 1055.4,423.9 1055.6,423.8 1056.7,422.5 1058.0,421.4 1059.3,421.5 1060.6,421.4 1061.9,420.7 1063.2,419.7 1063.3,419.5 1064.5,420.5 1065.8,422.2 1067.1,425.5 1068.4,428.2 1069.7,429.3 1069.7,429.3 1071.0,431.3 1072.3,434.6 1073.6,437.5 1074.3,438.6 1074.9,438.0 1076.2,437.1 1077.5,436.8 1078.8,435.9 1080.0,433.9 1080.1,433.8 1081.4,433.0 1082.7,433.6 1084.0,434.3 1085.3,435.3 1086.6,435.6 1087.9,434.3 1089.2,433.0 1090.3,432.3 1090.5,432.1 1091.8,431.2 1093.1,430.9 1094.4,430.5 1095.7,429.9 1097.0,429.4 1098.0,429.4 1098.3,429.8 1099.6,431.9 1100.9,434.5 1102.2,437.2 1103.5,439.8 1104.4,441.7 1104.8,441.2 1106.1,439.4 1107.4,438.1 1108.7,437.9 1110.0,437.5 1110.8,436.9 1111.3,436.5 1112.6,435.4 1113.9,434.6 1114.7,434.1 1115.2,434.9 1116.5,436.9 1117.8,439.0 1119.1,441.1 1119.8,442.4 1120.4,442.0 1121.7,441.2 1123.0,440.0 1124.3,437.7 1125.6,436.2 1126.3,436.3 1126.9,436.9 1128.2,437.4 1129.5,435.5 1130.8,430.4 1132.1,419.8 1133.4,405.2 1134.7,392.8 1135.8,388.7 1136.0,388.7 1137.3,395.3 1138.6,408.8 1139.9,422.1 1141.2,430.4 1142.5,434.4 1143.8,435.7 1144.3,435.8 1145.1,436.2 1146.4,436.8 1147.7,437.3 1149.0,437.8 1150.3,438.4 1151.6,439.0 1152.0,439.2 1152.9,438.7 1154.2,438.2 1155.5,438.3 1156.8,437.5 1158.1,434.8 1159.4,433.1 1160.7,433.8 1161.0,433.9 1162.0,434.5 1163.3,434.1 1164.6,434.0 1165.9,434.6 1167.2,435.0 1168.5,434.9 1169.8,434.1 1170.0,433.7 1171.1,431.5 1172.4,429.0 1173.7,428.0 1175.0,427.2 1175.1,427.1 1176.3,428.3 1177.6,431.2 1178.9,432.8 1180.2,433.0 1181.5,432.6 1182.8,432.5 1182.8,432.5 1184.1,433.7 1185.4,434.4 1186.7,433.9 1188.0,434.1 1189.3,435.9 1190.6,437.1 1190.6,437.0 1191.9,436.3 1193.2,436.2 1194.5,437.4 1195.7,437.7 1195.8,437.7 1197.1,437.1 1198.4,436.9 1199.7,437.6 1200.8,438.6 1201.0,438.6 1202.3,438.6 1203.6,438.1 1204.9,436.6 1206.0,435.2 1206.2,435.1 1207.5,434.5 1208.8,433.9 1210.1,432.8 1211.1,432.2 1211.4,432.8 1212.7,435.7 1214.0,438.5 1215.0,440.7 1215.3,440.7 1216.6,440.4 1217.9,439.3 1219.2,438.3 1220.5,437.7 1221.4,437.3 1221.8,437.1 1223.1,436.4 1224.4,435.5 1225.7,434.4 1227.0,433.4 1227.8,433.2 1228.3,433.4 1229.6,433.8 1230.9,433.5 1232.2,434.1 1233.5,436.6 1234.3,438.0 1234.8,437.2 1236.1,434.3 1237.4,432.1 1238.7,431.2 1239.4,430.6 1240.0,429.9 1241.3,425.9 1242.6,415.4 1243.9,389.9 1245.2,341.8 1246.5,284.4 1247.8,255.1 1247.9,255.0 1249.1,277.1 1250.4,331.1 1251.7,381.1 1253.0,410.6 1254.3,423.4 1255.6,426.6 1256.9,424.6 1257.7,423.0 1258.2,423.4 1259.5,425.0 1260.8,426.3 1262.1,427.2 1262.9,427.7 1263.4,428.2 1264.7,429.7 1266.0,430.6 1267.3,430.4 1268.6,430.6 1269.3,431.3 1269.9,432.4 1271.2,434.4 1272.5,435.1 1273.8,436.5 1274.4,437.9 1275.1,437.9 1276.4,437.7 1277.7,437.5 1279.0,437.1 1280.3,436.5 1280.9,436.2 1281.6,436.8 1282.9,437.2 1284.2,438.3 1285.5,441.2 1286.8,443.5 1288.1,444.6 1288.6,445.0 1289.4,444.3 1290.7,442.7 1292.0,440.9 1293.3,439.0 1294.6,437.6 1295.9,437.6 1296.3,437.6 1297.2,438.3 1298.5,439.5 1299.8,440.8 1301.1,442.6 1302.4,443.8 1303.7,443.8 1304.0,443.8 1305.0,443.5 1306.3,442.5 1307.6,442.3 1308.9,444.1 1310.2,445.9 1311.5,447.6 1312.8,448.6 1313.0,448.5 1314.1,446.7 1315.4,444.8 1316.7,443.7 1318.0,443.2 1319.3,444.1 1319.4,444.2 1320.6,444.5 1321.9,442.8 1323.2,441.3 1324.5,440.5 1325.8,440.0 1327.1,440.1 1327.1,440.2 1328.4,440.7 1329.7,440.7 1331.0,440.8 1332.3,440.7 1332.3,440.7 1333.6,438.5 1334.9,437.2 1336.1,435.7 1336.2,435.7 1337.5,437.3 1338.8,438.8 1340.1,440.3 1341.3,441.5 1341.4,441.3 1342.7,438.7 1344.0,436.6 1345.3,435.5 1346.6,433.9 1347.9,431.1 1349.0,429.0 1349.2,429.2 1350.5,430.7 1351.8,432.3 1353.1,433.8 1354.4,435.3 1355.4,436.1 1355.7,436.2 1357.0,437.1 1358.3,438.5 1359.6,439.5 1360.6,439.4 1360.9,438.6 1362.2,435.5 1363.5,431.4 1364.8,426.4 1365.7,422.2 1366.1,420.5 1367.4,413.1 1368.7,404.8 1370.0,397.9 1370.8,395.5 1371.3,395.6 1372.6,400.9 1373.9,411.1 1375.2,420.2 1376.5,425.3 1377.8,428.0 1378.6,429.5 1379.1,430.1 1380.4,429.8 1381.7,426.1 1383.0,422.4 1383.7,422.3 1384.3,423.2 1385.6,426.6 1386.9,427.9 1387.6,427.9 1388.2,428.6 1389.5,430.4 1390.8,431.6 1390.9,431.6 1392.1,434.3 1393.4,437.1 1394.7,439.4 1396.0,442.4 1396.6,444.4 1397.3,444.7 1398.6,444.4 1399.9,442.5 1401.2,441.0 1402.5,440.4 1403.8,440.1 1404.3,440.2 1405.1,440.8 1406.4,441.2 1407.7,440.4 1409.0,439.8 1410.3,439.8 1411.6,439.8 1412.0,439.9 1412.9,439.3 1414.2,438.2 1415.5,436.8 1416.8,435.8 1418.1,436.1 1418.4,436.2 1419.4,437.5 1420.7,438.2 1422.0,438.9 1423.3,439.5 1424.6,440.3 1424.8,440.5 1425.9,439.6 1427.2,438.6 1428.5,437.9 1429.8,437.3 1431.1,437.1 1432.4,436.4 1432.6,436.2 1433.7,437.4 1435.0,438.7 1436.3,439.8 1436.4,439.9 1437.6,438.4 1438.9,437.9 1440.2,436.9 1440.3,436.7 1441.5,437.0 1442.8,437.4 1444.1,438.3 1445.4,439.5 1446.7,441.7 1448.0,443.0 1449.3,441.7 1450.6,440.8 1451.9,440.9 1453.2,440.7 1454.5,439.8 1455.7,439.4 1455.8,439.5 1457.1,440.5 1458.4,441.7 1459.7,443.6 1460.8,444.9 1461.0,444.7 1462.3,442.8 1463.6,441.4 1464.9,441.1 1466.0,440.6 1466.2,440.2 1467.5,437.8 1468.8,435.9 1470.1,434.8 1471.1,434.0 1471.4,434.7 1472.7,438.5 1474.0,442.0 1475.0,444.6 1475.3,444.7 1476.6,444.7 1477.9,444.1 1479.2,443.7 1480.5,444.0 1481.4,444.2 1481.8,444.2 1483.1,444.2 1484.4,443.9 1485.7,443.1 1487.0,442.1 1488.3,440.5 1489.1,439.4 1489.6,438.9 1490.9,437.4 1492.2,436.0 1493.5,434.5 1494.3,433.6 1494.8,433.5 1496.1,432.6 1497.4,430.3 1498.7,424.3 1500.0,409.0 1501.3,383.1 1502.6,356.1 1503.9,343.4 1504.0,343.3 1505.2,352.8 1506.5,378.8 1507.8,405.7 1509.1,422.3 1510.4,430.4 1511.7,434.5 1513.0,436.4 1513.6,437.0 1514.3,437.6 1515.6,438.1 1516.9,437.4 1518.2,437.3 1518.7,437.9 1519.5,437.2 1520.8,435.5 1522.1,432.7 1523.4,430.1 1523.8,429.5 1524.7,431.1 1526.0,433.7 1527.3,435.9 1528.6,438.3 1529.0,439.1 1529.9,438.4 1531.2,437.0 1532.5,435.1 1533.8,433.5 1535.1,432.5 1535.4,432.3 1536.4,433.6 1537.7,434.9 1539.0,436.6 1540.3,439.1 1540.6,439.6 1541.6,439.4 1542.9,439.0 1544.2,438.1 1545.5,436.0 1545.7,435.7 1546.8,435.1 1548.1,434.9 1549.4,434.5 1550.7,433.6 1552.0,433.2 1553.3,434.3 1554.6,434.8 1554.7,434.7 1555.9,433.6 1557.2,432.6 1558.5,432.3 1559.8,432.3 1561.1,433.0 1561.1,433.0 1562.4,433.4 1563.7,433.1 1565.0,433.0 1566.3,433.5 1567.6,433.9 1568.8,434.1 1568.9,434.1 1570.2,435.6 1571.5,436.1 1572.8,437.1 1574.0,439.1 1574.1,439.1 1575.4,439.2 1576.7,439.7 1578.0,439.7 1579.3,438.6 1580.6,437.6 1581.7,437.0 1581.9,437.0 1583.2,437.4 1584.5,438.1 1585.8,438.3 1587.1,437.4 1588.4,437.2 1589.4,438.1 1589.7,438.1 1591.0,437.9 1592.3,437.6 1593.6,437.1 1594.9,436.4 1596.2,435.1 1597.1,433.3 1597.5,433.5 1598.8,434.7 1600.1,437.2 1601.0,438.9 1601.4,438.9 1602.7,439.0 1604.0,438.2 1605.3,435.8 1606.6,432.2 1607.9,427.8 1609.2,423.8 1610.5,422.3 1610.8,422.3 1611.8,423.4 1613.1,426.1 1614.4,429.6 1615.7,432.4 1617.0,434.4 1618.3,436.9 1619.6,438.1 1620.3,437.9 1620.9,437.5 1622.2,436.6 1623.5,436.0 1624.8,435.2 1626.1,434.1 1627.4,433.8 1628.7,435.0 1630.0,435.0 1630.6,433.9 1631.3,433.4 1632.6,433.4 1633.9,435.0 1635.2,436.8 1635.7,437.7 1636.5,438.5 1637.8,439.9 1639.1,441.3 1640.4,442.5 1641.7,442.9 1643.0,442.9 1643.4,442.5 1644.3,441.2 1645.6,439.8 1646.9,440.0 1648.2,439.8 1649.5,438.5 1650.8,437.9 1651.1,438.3 1652.1,438.8 1653.4,438.6 1654.7,436.1 1656.0,434.3 1657.3,434.3 1657.6,434.3 1658.6,435.9 1659.9,437.8 1661.2,439.2 1662.5,439.5 1663.8,440.4 1664.0,440.8 1665.1,442.0 1666.4,442.6 1667.7,441.4 1669.0,440.9 1670.3,442.1 1671.6,443.0 1672.9,443.7 1674.2,444.0 1674.3,444.0 1675.5,442.9 1676.8,442.3 1678.1,442.8 1679.4,442.8 1680.7,441.8 1682.0,440.5 1683.3,438.6 1684.6,438.2 1684.6,438.3 1685.9,441.5 1687.2,442.9 1688.5,440.3 1689.8,438.3 1691.1,437.5 1692.3,436.6 1692.4,436.6 1693.7,435.8 1695.0,435.7 1696.3,437.0 1697.6,437.8 1698.7,437.7 1698.9,437.5 1700.2,436.1 1701.5,434.6 1702.8,428.7 1704.1,411.8 1705.4,385.1 1706.7,367.2 1706.9,366.6 1708.0,375.1 1709.3,398.4 1710.6,416.6 1711.9,423.5 1713.2,421.6 1714.5,407.5 1715.8,376.1 1717.1,347.1 1717.5,344.6 1718.4,352.7 1719.7,377.0 1721.0,377.1 1722.3,354.4 1723.1,347.3 1723.6,349.5 1724.9,374.3 1726.2,399.3 1727.5,408.2 1728.8,408.5 1730.1,414.7 1731.4,420.9 1732.7,427.8 1734.0,434.8 1734.7,438.6 1735.3,439.2 1736.6,440.0 1737.9,439.8 1739.2,440.1 1740.5,441.8 1741.1,442.6 1741.8,442.8 1743.1,442.1 1744.4,442.1 1745.7,443.7 1747.0,444.5 1748.3,443.7 1748.8,443.4 1749.6,442.5 1750.9,442.3 1752.2,441.8 1753.5,440.6 1754.0,440.1 1754.8,440.5 1756.1,441.2 1757.4,442.0 1758.7,443.0 1760.0,443.5 1761.3,442.6 1761.7,442.3 1762.6,442.1 1763.9,442.9 1765.2,443.2 1766.5,442.6 1767.8,442.2 1769.1,442.2 1769.4,442.3 1770.4,442.3 1771.7,441.7 1773.0,441.8 1774.3,443.3 1775.6,444.0 1776.9,442.8 1777.1,442.5 1778.2,441.0 1779.5,440.7 1780.8,439.8 1782.1,437.6 1782.3,437.3 1783.4,437.3 1784.7,438.2 1785.1,438.5 1786.0,439.5 1787.3,440.5 1788.6,441.9 1789.9,444.1 1790.3,444.8 1791.2,444.5 1792.5,444.1 1793.8,443.4 1795.1,442.2 1795.4,441.9 1796.4,442.5 1797.7,442.9 1799.0,444.2 1800.3,447.4 1800.6,448.0 1801.6,447.7 1802.9,445.6 1804.2,443.9 1805.5,443.1 1805.7,442.9 1806.8,443.2 1808.1,443.3 1809.4,443.0 1810.7,442.3 1812.0,441.5 1813.3,440.8 1814.6,440.6 1815.9,441.5 1816.0,441.5 1817.2,442.2 1818.5,443.4 1819.8,443.6 1821.1,441.9 1822.4,441.1 1823.7,442.1 1823.7,442.1 1825.0,441.9 1826.3,440.1 1827.6,438.9 1828.9,438.8 1830.1,438.1 1830.2,438.2 1831.5,439.3 1832.8,441.5 1834.0,445.7 1834.1,445.8 1835.4,446.1 1836.7,444.4 1838.0,443.2 1839.3,442.9 1840.6,442.3 1841.7,441.2 1841.9,441.2 1843.2,441.2 1844.5,441.8 1845.8,442.1 1847.1,441.7 1848.4,441.7 1849.4,442.2 1849.7,442.1 1851.0,440.1 1852.3,434.7 1853.6,427.1 1854.9,421.7 1855.3,421.1 1856.2,422.4 1857.5,428.3 1858.8,433.1 1860.1,434.0 1861.4,433.3 1862.3,432.7 1862.7,433.2 1864.0,435.2 1865.3,437.2 1866.6,439.3 1867.9,441.7 1868.7,443.2 1869.2,442.8 1870.5,441.4 1871.8,440.5 1873.1,440.5 1874.4,440.0 1875.1,439.1 1875.7,439.5 1877.0,440.7 1878.3,442.7 1879.0,443.8 1879.6,443.6 1880.9,443.2 1882.2,442.5 1882.8,441.9 1883.5,442.1 1884.8,442.2 1886.1,441.2 1887.4,441.0 1888.7,442.7 1890.0,443.7 1890.6,443.3 1891.3,442.3 1892.6,441.2 1893.9,441.7 1895.2,441.3 1896.5,439.0 1897.0,438.1 1897.8,438.6 1899.1,440.5 1900.4,442.4 1901.7,444.3 1902.1,444.9 1903.0,445.0 1904.3,444.9 1905.6,444.8 1906.9,444.4 1908.2,442.2 1909.5,437.1 1910.8,430.1 1912.1,422.4 1913.4,415.5 1914.7,411.6 1915.0,411.4 1916.0,412.4 1917.3,416.9 1918.6,424.0 1919.9,431.5 1921.2,437.4 1922.5,441.7 1923.8,443.8 1925.1,443.9 1926.4,443.6 1926.6,443.5 1927.7,444.2 1929.0,444.7 1930.3,444.7 1931.6,445.2 1932.9,446.8 1934.2,447.5 1934.3,447.5 1935.5,444.9 1936.8,443.1 1938.1,443.6 1939.4,443.5 1940.7,442.1 1940.7,442.1 1942.0,443.1 1943.3,445.1 1944.6,446.6 1945.9,446.8 1947.1,447.2 1947.2,447.2 1948.5,447.0 1949.8,447.1 1951.1,448.0 1952.4,448.0 1953.7,446.2 1955.0,445.1 1956.3,445.7 1957.4,445.6 1957.6,445.3 1958.9,441.9 1960.2,438.3 1961.5,435.8 1962.8,433.9 1963.1,433.6 1964.1,433.8 1965.4,435.5 1966.7,437.2 1968.0,437.3 1969.3,435.5 1970.6,434.0 1971.6,433.8 1971.9,434.7 1973.2,437.8 1974.5,440.4 1975.4,442.3 1975.8,442.5 1977.1,443.3 1978.4,444.2 1979.7,445.4 1981.0,446.6 1981.8,447.4 1982.3,447.3 1983.6,446.8 1984.9,446.2 1986.2,445.4 1987.5,443.9 1988.8,442.7 1990.1,442.0 1990.8,441.6 1991.4,443.0 1992.7,447.0 1994.0,450.2 1995.3,451.4 1996.0,452.1 1996.6,450.8 1997.9,447.3 1999.2,444.9 2000.5,444.8 2001.8,444.4 2002.4,443.8 2003.1,444.4 2004.4,445.5 2005.7,446.5 2007.0,447.4 2007.6,447.7 2008.3,447.3 2009.6,446.6 2010.9,445.6 2012.2,445.0 2013.5,445.2 2014.0,445.3 2014.8,444.7 2016.1,443.3 2017.4,441.4 2018.7,438.5 2020.0,433.7 2021.3,426.8 2022.6,420.1 2023.9,416.1 2024.3,415.7 2025.2,416.4 2026.5,420.8 2027.8,426.4 2029.1,430.9 2030.4,433.1 2031.7,432.4 2033.0,431.3 2033.3,431.3 2034.3,433.9 2035.6,436.8 2036.9,439.2 2038.2,442.0 2039.5,446.0 2039.7,446.6 2040.8,447.5 2042.1,447.2 2043.4,447.4 2044.7,448.9 2046.0,449.7 2046.1,449.6 2047.3,447.8 2048.6,446.2 2049.9,445.5 2051.2,443.8 2052.5,439.3 2053.8,432.4 2055.1,425.7 2056.4,421.9 2056.4,421.8 2057.7,423.3 2059.0,428.0 2060.3,429.4 2061.6,424.5 2062.9,417.1 2064.1,413.0 2064.2,412.9 2065.5,415.2 2066.8,422.3 2068.1,429.3 2069.4,432.5 2070.6,432.7 2070.7,433.1 2072.0,436.7 2073.3,440.2 2074.6,443.9 2075.9,448.1 2077.0,451.3 2077.2,451.1 2078.5,449.7 2079.8,448.8 2081.1,449.3 2082.4,449.4 2083.7,448.9 2085.0,448.3 2086.0,447.8 2086.3,447.9 2087.6,448.0 2088.9,447.5 2090.2,448.0 2091.5,450.7 2092.8,452.4 2094.1,452.2 2095.4,452.4 2096.3,453.1 2096.7,452.9 2098.0,451.9 2099.3,450.1 2100.6,448.9 2101.9,449.0 2103.2,448.7 2104.0,448.0 2104.5,448.1 2105.8,448.2 2107.1,448.5 2108.4,448.6 2109.7,448.8 2111.0,449.2 2112.3,450.3 2113.0,450.8 2113.6,450.5 2114.9,449.6 2116.2,448.6 2117.5,447.5 2118.8,447.0 2119.4,447.2 2120.1,447.4 2121.4,445.4 2122.7,438.8 2124.0,433.3 2124.6,432.7 2125.3,433.0 2126.6,435.7 2127.9,437.8 2129.2,438.7 2130.5,439.4 2131.0,439.5 2131.8,441.2 2133.1,443.1 2134.4,444.8 2134.8,445.2 2135.7,444.5 2137.0,444.1 2138.3,445.3 2139.6,446.5 2140.9,447.5 2142.2,448.5 2142.6,448.7 2143.5,448.6 2144.8,447.7 2146.1,445.3 2147.4,443.5 2148.7,443.4 2150.0,443.1 2150.3,443.0 2151.3,444.3 2152.6,445.7 2153.9,446.6 2155.2,447.9 2156.5,450.0 2157.8,451.7 2158.0,451.9 2159.1,451.1 2160.4,450.3 2161.7,449.9 2163.0,449.2 2164.3,447.9 2165.6,447.3 2165.7,447.4 2166.9,449.3 2168.2,450.6 2169.5,450.2 2170.8,450.3 2172.1,451.7 2173.4,452.6 2174.7,452.0 2176.0,452.0 2177.3,453.3 2178.6,454.1 2179.9,453.8 2181.1,453.8 2181.2,453.7 2182.5,452.9 2183.8,452.2 2185.1,451.7 2186.4,451.3 2187.7,451.1 2189.0,450.7 2190.3,449.9 2191.4,449.5 2191.6,449.7 2192.9,450.9 2194.2,451.3 2195.5,449.7 2196.8,448.6 2198.1,448.8 2199.4,449.5 2200.7,451.4 2202.0,452.6 2203.3,452.0 2204.3,451.5 2204.6,451.1 2205.9,449.1 2207.2,448.2 2208.5,449.4 2209.8,450.1 2211.1,449.6 2212.4,448.6 2213.7,446.8 2214.6,445.5 2215.0,446.1 2216.3,448.2 2217.6,449.9 2218.9,451.0 2220.2,452.2 2221.5,453.5 2222.3,454.3 2222.8,454.2 2224.1,453.8 2225.4,453.2 2226.7,452.2 2228.0,451.4 2229.3,451.5 2230.6,451.2 2231.9,449.9 2233.2,448.7 2234.5,447.7 2235.1,447.3 2235.8,447.6 2237.1,448.4 2238.4,449.5 2239.7,451.4 2241.0,452.4 2242.3,451.6 2242.8,451.3 2243.6,451.1 2244.9,452.4 2246.2,452.7 2247.5,451.0 2248.8,449.9 2250.1,449.9 2251.4,449.9 2252.7,450.0 2253.1,450.0 2254.0,450.9 2255.3,452.3 2256.6,452.8 2257.9,451.6 2259.2,451.3 2260.5,452.9 2260.8,453.3 2261.8,453.2 2263.1,452.9 2264.4,452.3 2265.7,451.0 2267.0,450.1 2268.3,450.2 2268.6,450.2 2269.6,450.6 2270.9,449.3 2272.2,449.2 2273.5,451.4 2274.8,453.2 2276.1,453.9 2277.4,454.5 2278.7,454.9 2278.8,454.9 2280.0,454.4 2281.3,454.4 2282.6,453.8 2283.9,451.6 2285.2,450.4 2286.5,451.3 2287.8,451.3 2289.1,449.5 2289.1,449.4 2290.4,448.9 2290.5,449.0" stroke="#000000" stroke-width="4.8"/>
<polyline points="203.8,984.6 204.1,984.3 205.1,984.3 206.4,984.9 207.7,986.8 208.0,987.2 209.0,987.3 210.3,986.4 211.6,985.4 212.9,984.5 214.2,983.9 214.4,984.0 215.5,986.1 216.8,988.9 218.1,991.8 218.3,992.3 219.4,992.0 220.7,991.1 222.0,989.9 223.3,988.2 224.6,987.2 224.7,987.2 225.9,988.4 227.2,989.2 228.5,989.1 229.8,989.1 231.1,989.7 231.1,989.7 232.4,991.1 233.7,992.4 235.0,993.4 236.3,993.8 236.3,993.8 237.6,992.4 238.9,992.2 240.2,991.5 241.5,989.8 242.8,988.7 244.1,988.9 245.3,988.6 245.4,988.6 246.7,988.9 248.0,989.2 249.3,989.6 250.6,989.9 251.7,990.0 251.9,990.0 253.2,990.6 254.5,992.0 255.8,993.2 257.1,994.1 258.1,994.6 258.4,994.5 259.7,993.7 261.0,993.7 262.3,995.8 263.6,996.9 264.9,995.8 266.2,995.3 267.1,995.9 267.5,996.0 268.8,995.8 270.1,993.9 271.4,993.0 272.7,994.5 274.0,994.8 274.9,993.5 275.3,992.3 276.6,989.4 277.9,987.9 277.9,987.9 279.2,989.8 280.5,992.1 281.8,994.1 282.6,994.9 283.1,994.6 284.4,993.3 285.7,991.2 287.0,989.8 287.7,989.8 288.3,990.4 289.6,992.0 290.9,993.8 292.2,995.5 293.5,996.9 294.8,997.8 295.4,997.8 296.1,997.3 297.4,996.4 298.7,995.5 300.0,995.0 301.3,995.4 302.6,995.3 303.1,994.6 303.9,994.4 305.2,994.5 306.5,996.2 307.8,997.1 309.1,996.7 310.4,996.8 310.9,997.4 311.7,998.0 313.0,998.7 314.3,998.9 315.6,999.2 316.9,1000.0 318.2,1000.4 318.6,1000.3 319.5,1000.0 320.8,1000.0 322.1,1001.1 323.4,1001.7 324.7,1001.1 326.0,1000.9 326.3,1001.1 327.3,1000.6 328.6,999.7 329.9,998.4 331.2,996.6 331.4,996.0 332.5,995.0 333.8,994.6 335.1,996.0 336.4,997.1 336.6,997.2 337.7,997.8 339.0,998.5 340.3,998.8 341.6,999.4 342.9,1000.7 343.0,1000.9 344.2,999.2 345.5,996.2 346.8,994.0 348.1,993.2 348.1,993.2 349.4,995.2 350.7,996.4 352.0,997.7 353.3,998.9 353.3,998.9 354.6,997.7 355.9,997.5 357.2,996.5 358.4,993.9 358.5,993.8 359.8,994.1 361.1,995.1 362.4,996.1 363.7,996.8 364.9,997.7 365.0,997.7 366.3,997.6 367.6,997.2 368.9,995.8 370.0,994.9 370.2,994.7 371.5,993.2 372.8,990.9 373.9,987.6 374.1,987.7 375.4,989.2 376.7,991.9 378.0,994.7 379.0,997.2 379.3,997.5 380.6,998.4 381.9,998.2 383.2,997.9 384.5,997.6 385.4,997.5 385.8,997.9 387.1,999.8 388.4,1001.2 389.7,1001.5 390.6,1001.7 391.0,1001.4 392.3,1000.4 393.6,999.1 394.9,997.2 395.7,995.9 396.2,995.9 397.5,996.0 398.8,996.5 400.1,998.0 401.4,999.3 402.7,1000.2 403.4,1000.8 404.0,1000.8 405.3,1000.6 406.6,1000.4 407.9,1000.5 408.6,1000.5 409.2,999.6 410.5,997.8 411.8,995.5 413.1,992.3 413.7,990.6 414.4,990.5 415.7,991.0 417.0,991.2 418.3,990.4 419.6,990.2 420.1,990.8 420.9,992.8 422.2,995.4 423.5,995.5 424.0,995.6 424.8,994.0 426.1,991.8 427.4,990.2 428.7,990.1 429.1,990.0 430.0,989.2 431.3,987.0 432.6,985.0 433.9,983.5 434.3,983.0 435.2,983.7 436.5,984.8 437.8,985.8 439.1,986.8 439.4,987.1 440.4,988.4 441.7,990.0 443.0,992.0 444.3,994.7 444.6,995.3 445.6,994.6 446.9,993.1 448.2,991.4 449.5,989.5 449.7,989.1 450.8,988.1 452.1,987.3 453.4,986.3 454.7,984.9 454.9,984.7 456.0,984.4 457.3,984.8 458.6,985.1 459.9,985.0 460.0,985.0 461.2,985.0 462.5,984.9 463.8,984.7 465.1,984.5 465.1,984.5 466.4,987.0 467.7,989.3 469.0,992.1 469.0,992.2 470.3,995.9 471.6,999.0 472.9,1000.7 472.9,1000.7 474.2,995.0 475.5,990.2 476.7,985.5 476.8,985.5 478.1,984.9 479.4,984.2 480.6,983.2 480.7,983.0 482.0,977.6 483.3,959.6 484.6,928.4 485.9,905.4 486.2,904.4 487.2,914.1 488.5,944.9 489.8,970.6 491.1,981.0 492.1,983.0 492.4,983.5 493.7,986.0 495.0,987.7 496.3,988.4 497.3,989.1 497.6,989.1 498.9,988.8 500.2,988.3 501.5,986.9 502.4,985.9 502.8,985.7 504.1,984.8 505.4,984.5 506.7,985.4 508.0,986.0 508.9,985.8 509.3,986.2 510.6,987.5 511.9,989.4 513.2,991.5 514.5,993.8 515.3,995.3 515.8,994.0 517.1,990.2 518.4,986.5 519.1,984.7 519.7,984.8 521.0,985.8 522.3,988.0 523.6,989.7 524.3,990.2 524.9,990.0 526.2,989.8 527.5,989.6 528.8,989.6 530.1,989.5 531.4,989.2 532.0,988.6 532.7,987.9 534.0,986.6 535.3,985.5 536.6,985.3 537.9,986.8 539.2,987.4 539.7,987.0 540.5,986.6 541.8,986.2 543.1,986.0 544.4,986.0 545.7,986.3 547.0,987.1 547.4,987.7 548.3,989.6 549.6,992.0 550.9,993.1 552.2,994.3 552.6,994.8 553.5,993.1 554.8,990.6 556.1,988.4 557.4,985.7 558.7,982.2 559.0,981.3 560.0,983.1 561.3,985.8 562.6,988.7 562.9,989.4 563.9,990.6 565.2,992.0 566.5,993.1 566.7,993.3 567.8,992.2 569.1,991.1 570.4,989.8 571.7,988.0 573.0,986.4 574.3,985.4 574.4,985.3 575.6,987.1 576.9,988.6 578.2,990.3 579.5,992.4 580.8,994.5 580.9,994.6 582.1,994.4 583.4,994.2 584.7,994.0 586.0,993.7 586.0,993.7 587.3,995.5 588.6,997.0 589.9,997.9 589.9,997.9 591.2,996.0 592.5,994.7 593.8,993.3 595.1,991.6 596.3,990.3 596.4,990.4 597.7,990.9 599.0,991.3 600.3,991.2 601.6,990.7 602.7,989.2 602.9,989.2 604.2,989.6 605.5,991.4 606.8,992.8 608.1,993.1 609.4,993.7 610.7,994.8 611.7,995.7 612.0,995.4 613.3,994.0 614.6,992.4 615.9,990.4 616.8,989.0 617.2,989.1 618.5,989.3 619.8,988.9 621.1,986.9 622.0,985.6 630.0,968.0 631.9,900.0 632.6,836.0 635.5,834.0 635.5,624.0 636.4,597.0 637.2,560.3 637.8,560.3 638.6,597.0 639.2,624.0 639.2,834.0 639.5,836.0 640.5,900.0 641.5,968.0 647.7,983.1 649.0,985.4 650.3,988.4 651.6,992.7 652.8,996.4 652.9,996.3 654.2,992.9 655.5,990.1 656.8,988.4 658.0,986.8 658.1,986.7 659.4,986.3 660.7,986.1 662.0,986.4 663.3,986.1 664.4,984.9 664.6,984.8 665.9,985.1 667.2,986.1 668.5,986.7 669.6,986.5 669.8,985.4 671.1,980.6 672.1,978.0 672.4,977.3 673.7,973.2 675.0,967.3 675.5,965.2 676.3,965.4 677.6,966.6 678.9,967.5 679.8,967.9 680.2,967.2 681.5,965.1 682.8,964.1 684.1,962.9 685.0,961.9 685.4,961.6 686.7,960.4 687.6,958.8 688.0,956.3 689.3,949.1 689.4,948.9 690.6,954.5 691.4,958.1 691.9,958.3 693.2,958.9 694.0,959.3 694.5,960.0 695.8,961.8 697.1,963.6 697.8,964.5 698.4,964.4 699.7,964.1 701.0,963.7 702.3,963.9 703.0,964.8 703.6,968.3 704.9,974.7 705.6,976.6 706.2,974.7 707.5,971.8 708.8,970.7 709.4,970.2 710.1,974.0 711.4,981.2 712.0,984.5 712.7,985.5 714.0,987.2 715.3,988.6 716.6,989.2 717.1,989.4 717.9,990.9 719.2,993.8 720.5,996.7 721.8,999.9 722.3,1001.0 723.1,1001.0 724.4,1000.8 725.1,1000.7 725.7,1000.8 727.0,1001.3 728.3,1001.3 729.6,1000.2 730.9,999.4 732.2,998.8 732.9,998.6 733.5,999.1 734.8,1000.5 736.1,1001.8 737.4,1003.2 738.7,1004.7 739.3,1005.5 740.0,1004.1 741.3,1001.4 741.9,1000.1 742.6,1000.9 743.9,1002.0 745.2,1002.1 745.7,1002.2 746.5,1000.8 747.8,998.9 749.1,997.1 750.4,995.7 751.7,994.7 752.1,994.8 753.0,996.0 754.3,996.2 755.6,993.8 756.9,992.2 758.1,992.6 758.2,992.8 759.5,994.5 760.8,997.2 762.1,999.2 762.4,999.3 763.4,1000.8 764.7,1003.1 766.0,1006.3 766.3,1006.9 767.3,1007.2 768.6,1007.2 769.9,1007.1 771.2,1007.0 772.5,1007.3 773.8,1008.7 775.1,1009.7 775.3,1009.7 776.4,1010.1 777.7,1009.8 779.0,1008.3 780.3,1007.8 781.6,1009.8 782.9,1010.9 783.0,1010.9 784.2,1009.3 785.5,1007.9 786.8,1007.2 788.1,1006.4 788.1,1006.4 789.4,1006.1 790.7,1005.5 792.0,1004.2 793.3,1003.5 793.3,1003.5 794.6,1005.8 795.9,1007.8 797.1,1009.1 797.2,1009.0 798.5,1006.6 799.8,1005.8 801.1,1004.4 802.3,1002.2 802.4,1002.0 803.7,999.8 804.9,997.0 805.0,996.9 806.3,996.2 807.6,995.9 808.7,995.9 808.9,996.3 810.2,999.0 811.5,1001.1 812.6,1001.5 812.8,1001.3 814.1,1001.1 815.4,1002.3 816.4,1003.1 816.7,1003.5 818.0,1005.2 819.3,1006.9 820.6,1008.3 821.6,1009.4 821.9,1009.0 823.2,1007.4 824.5,1006.1 825.8,1005.4 826.7,1004.9 827.1,1005.3 828.4,1006.7 829.7,1008.0 831.0,1009.5 832.3,1010.7 833.6,1011.3 834.9,1012.4 835.7,1013.9 836.2,1014.3 837.5,1014.8 838.8,1014.2 840.1,1013.6 841.4,1013.0 842.1,1012.6 842.7,1012.6 844.0,1012.6 845.3,1012.9 846.6,1013.8 847.9,1014.6 848.6,1015.0 849.2,1015.2 850.5,1014.9 851.8,1012.9 853.1,1011.9 854.4,1013.2 855.7,1014.0 856.3,1013.9 857.0,1013.2 858.3,1012.1 859.6,1010.9 860.1,1010.5 860.9,1011.7 862.2,1014.1 863.5,1016.6 864.0,1017.5 864.8,1017.1 866.1,1016.6 867.4,1016.7 868.7,1016.1 869.1,1015.4 870.0,1014.5 871.3,1013.3 872.6,1012.7 873.9,1012.0 874.3,1011.8 875.2,1012.7 876.5,1014.4 877.8,1017.4 878.1,1018.1 879.1,1017.8 880.4,1016.1 881.7,1014.8 883.0,1014.4 884.3,1014.0 884.6,1014.0 885.6,1012.0 886.9,1009.1 888.2,1005.7 888.4,1005.1 889.5,995.1 890.8,983.2 891.0,981.4 892.1,978.5 893.4,975.4 893.6,975.0 894.7,975.0 896.0,975.4 897.3,975.4 897.4,975.4 898.6,976.4 899.9,977.8 900.0,977.9 901.2,976.2 902.5,974.4 902.6,974.3 903.8,973.6 905.1,972.6 905.1,972.6 906.4,974.4 907.7,976.6 908.2,977.7 909.0,982.3 910.3,989.7 910.3,989.8 911.6,994.0 912.9,998.3 912.9,998.4 914.2,1001.9 915.4,1004.8 915.5,1005.0 916.8,1007.5 918.1,1009.8 919.4,1011.4 920.6,1013.3 920.7,1013.4 922.0,1015.0 923.3,1016.5 924.6,1017.9 925.7,1018.9 925.9,1018.9 927.2,1018.9 928.5,1019.1 929.8,1019.7 931.1,1020.7 932.1,1022.0 932.4,1022.1 933.7,1022.2 935.0,1020.8 936.3,1020.0 937.6,1020.5 938.6,1020.9 938.9,1020.7 940.2,1020.1 941.5,1019.4 942.8,1018.6 944.1,1017.4 945.4,1015.3 946.3,1013.9 946.7,1013.7 948.0,1013.2 949.3,1013.1 950.1,1013.9 950.6,1015.3 951.9,1018.2 953.2,1019.0 954.0,1019.5 954.5,1020.1 955.8,1022.1 957.1,1024.5 958.4,1027.7 959.1,1029.4 959.7,1028.4 961.0,1025.0 962.3,1021.9 963.6,1019.1 964.3,1017.6 964.9,1018.0 966.2,1019.1 967.5,1014.8 968.8,1002.0 970.1,987.8 971.2,982.5 971.4,982.5 972.7,990.6 974.0,1005.6 975.3,1016.1 976.6,1018.7 977.9,1019.0 978.4,1019.4 979.2,1020.6 980.5,1021.8 981.8,1021.9 982.3,1021.8 983.1,1021.1 984.4,1020.2 985.7,1019.4 987.0,1018.7 987.4,1018.4 988.3,1018.0 989.6,1016.6 990.9,1015.1 992.2,1014.1 993.1,1014.1 993.5,1014.2 994.8,1015.3 996.1,1016.9 997.4,1017.8 998.7,1018.5 999.0,1018.8 1000.0,1020.2 1001.3,1021.9 1002.6,1024.1 1003.9,1025.6 1005.2,1025.7 1006.5,1025.9 1006.7,1026.0 1007.8,1025.1 1009.1,1024.3 1010.4,1024.3 1011.7,1024.1 1013.0,1023.3 1013.1,1023.2 1014.3,1023.5 1015.6,1023.8 1016.9,1023.7 1018.2,1022.9 1019.5,1022.5 1020.8,1023.0 1022.1,1023.6 1023.4,1024.6 1023.4,1024.6 1024.7,1024.7 1026.0,1024.5 1027.3,1023.8 1028.6,1022.0 1029.9,1020.7 1031.1,1020.7 1031.2,1020.7 1032.5,1020.6 1033.8,1020.3 1035.0,1020.2 1035.1,1020.3 1036.4,1022.0 1037.7,1023.1 1039.0,1022.9 1040.1,1023.2 1040.3,1023.5 1041.6,1025.5 1042.9,1025.9 1044.2,1022.2 1045.5,1016.2 1046.8,1008.5 1048.1,1001.2 1049.1,999.5 1049.4,999.8 1050.7,1005.1 1052.0,1012.5 1053.3,1018.6 1054.6,1022.1 1055.6,1023.1 1055.9,1023.2 1057.2,1022.7 1058.5,1022.3 1059.8,1022.5 1061.1,1022.4 1062.4,1021.2 1063.7,1020.6 1064.6,1020.9 1065.0,1021.0 1066.3,1021.2 1067.6,1021.1 1068.9,1020.7 1070.2,1019.9 1071.5,1019.6 1072.3,1020.2 1072.8,1021.2 1074.1,1023.2 1075.4,1024.2 1076.1,1024.7 1076.7,1024.0 1078.0,1022.1 1079.3,1021.0 1080.6,1022.1 1081.9,1022.3 1083.2,1020.7 1084.5,1019.7 1085.1,1019.9 1085.8,1020.7 1087.1,1021.7 1088.4,1021.5 1089.7,1021.7 1090.3,1022.1 1091.0,1022.4 1092.3,1023.1 1093.6,1023.9 1094.9,1024.8 1095.4,1025.3 1096.2,1024.6 1097.5,1022.5 1098.8,1018.4 1100.1,1015.1 1101.4,1013.7 1101.8,1013.2 1102.7,1013.4 1104.0,1013.5 1105.3,1013.7 1105.7,1014.0 1106.6,1013.8 1107.9,1013.0 1109.2,1011.0 1110.5,1009.5 1111.8,1008.7 1112.1,1008.5 1113.1,1010.2 1114.4,1012.5 1115.7,1014.5 1117.0,1015.9 1117.3,1016.2 1118.3,1016.7 1119.6,1017.0 1120.9,1017.5 1122.2,1018.6 1123.5,1019.6 1123.7,1019.8 1124.8,1019.9 1126.1,1020.0 1127.4,1020.2 1128.7,1019.7 1128.8,1019.6 1130.0,1016.8 1131.3,1012.3 1132.6,1007.5 1133.9,1004.7 1134.0,1004.7 1135.2,1006.2 1136.5,1009.8 1137.8,1012.1 1139.1,1012.6 1139.1,1012.6 1140.4,1013.5 1141.7,1014.1 1143.0,1014.9 1144.3,1015.6 1144.3,1015.6 1145.6,1018.1 1146.9,1020.1 1148.1,1020.9 1148.2,1020.8 1149.5,1018.7 1150.8,1017.6 1152.1,1016.8 1153.4,1016.9 1154.6,1016.5 1154.7,1016.4 1156.0,1014.9 1157.3,1013.6 1158.6,1012.3 1159.7,1011.4 1159.9,1011.4 1161.2,1011.6 1162.5,1011.9 1163.8,1012.2 1165.1,1011.9 1166.1,1010.5 1166.4,1009.7 1167.7,1006.6 1169.0,1004.2 1170.0,1002.5 1170.3,1002.7 1171.6,1003.8 1172.9,1005.1 1174.2,1006.8 1175.1,1008.0 1175.5,1007.3 1176.8,1004.8 1178.1,1002.9 1179.4,1002.4 1180.7,1001.9 1182.0,1001.0 1182.8,1000.4 1183.3,1000.7 1184.6,1001.5 1185.9,1002.2 1186.7,1002.5 1187.2,1003.3 1188.5,1005.7 1189.8,1008.8 1190.6,1010.7 1191.1,1009.9 1192.4,1007.6 1193.7,1005.6 1195.0,1004.0 1195.7,1003.2 1196.3,1005.2 1197.6,1009.3 1198.9,1013.4 1199.6,1015.5 1200.2,1015.1 1201.5,1014.0 1202.8,1012.2 1204.1,1011.2 1204.7,1011.6 1205.4,1012.8 1206.7,1014.4 1208.0,1014.7 1209.3,1014.8 1210.6,1014.4 1211.1,1014.3 1211.9,1014.8 1213.2,1016.8 1214.5,1018.5 1215.8,1019.4 1217.1,1020.3 1217.6,1020.5 1218.4,1020.1 1219.7,1019.3 1221.0,1017.6 1222.3,1016.7 1223.6,1017.5 1224.0,1017.7 1224.9,1020.2 1226.2,1023.0 1226.6,1023.8 1227.5,1023.3 1228.8,1022.8 1230.1,1021.9 1231.4,1019.8 1231.7,1019.4 1232.7,1019.4 1234.0,1021.2 1235.3,1022.5 1236.6,1022.8 1236.8,1022.9 1237.9,1022.3 1239.2,1021.4 1240.5,1020.1 1241.8,1017.2 1242.0,1016.6 1243.1,1011.2 1244.4,995.5 1245.7,962.3 1247.0,909.5 1248.3,849.2 1249.6,807.7 1250.2,802.3 1250.9,808.9 1252.2,851.8 1253.5,912.9 1254.8,966.2 1256.1,999.2 1257.4,1014.8 1257.9,1017.9 1258.7,1020.7 1260.0,1022.7 1261.3,1023.4 1262.6,1023.2 1263.9,1022.9 1265.2,1022.4 1265.4,1022.3 1266.5,1022.3 1267.8,1022.9 1269.1,1023.6 1270.4,1024.5 1271.7,1025.2 1273.0,1025.7 1273.1,1025.8 1274.3,1027.0 1275.6,1028.6 1276.9,1029.5 1278.2,1028.9 1278.3,1028.9 1279.5,1027.2 1280.8,1027.0 1282.1,1026.6 1283.4,1025.5 1284.7,1024.8 1286.0,1025.3 1287.3,1026.7 1288.6,1027.0 1289.9,1027.3 1291.2,1027.6 1292.5,1028.0 1293.7,1028.8 1293.8,1028.8 1295.1,1028.4 1296.4,1027.4 1297.7,1026.7 1299.0,1027.1 1300.3,1027.2 1301.6,1026.7 1302.9,1026.3 1304.0,1026.0 1304.2,1026.0 1305.5,1025.6 1306.8,1025.2 1308.1,1025.0 1309.4,1025.3 1310.7,1025.4 1312.0,1025.2 1313.3,1024.4 1314.3,1023.1 1314.6,1022.9 1315.9,1023.0 1317.2,1024.5 1318.5,1025.9 1319.8,1027.2 1320.7,1028.1 1321.1,1028.1 1322.4,1027.9 1323.7,1027.2 1325.0,1025.4 1326.3,1024.1 1327.6,1024.0 1328.9,1023.9 1330.2,1023.8 1331.0,1023.8 1331.5,1024.2 1332.8,1025.6 1334.1,1026.2 1335.4,1024.8 1336.7,1024.0 1338.0,1024.5 1339.3,1024.9 1340.0,1025.1 1340.6,1025.4 1341.9,1025.9 1343.2,1026.1 1344.5,1026.5 1345.1,1026.7 1345.8,1026.5 1347.1,1025.9 1348.4,1025.2 1349.7,1024.4 1351.0,1023.7 1352.3,1023.1 1353.6,1022.8 1354.1,1022.6 1354.9,1023.2 1356.2,1024.1 1357.5,1024.9 1358.8,1025.9 1360.1,1026.8 1361.4,1027.7 1361.8,1028.0 1362.7,1026.5 1364.0,1023.7 1365.3,1021.5 1366.6,1020.5 1367.0,1020.2 1367.9,1020.1 1369.2,1019.0 1370.5,1016.7 1371.8,1013.1 1373.1,1010.4 1373.4,1010.1 1374.4,1010.9 1375.7,1014.0 1377.0,1016.9 1378.3,1017.6 1378.6,1017.3 1379.6,1015.8 1380.9,1014.0 1382.2,1012.6 1383.5,1010.8 1384.8,1009.4 1385.0,1009.4 1386.1,1009.5 1387.4,1010.1 1388.7,1010.7 1390.0,1011.1 1391.3,1010.9 1391.4,1010.9 1392.6,1011.2 1393.9,1011.5 1395.2,1011.8 1396.5,1012.7 1397.8,1014.7 1397.8,1014.7 1399.1,1013.8 1400.4,1010.7 1401.7,1008.4 1403.0,1007.6 1404.3,1006.2 1404.3,1006.2 1405.6,1005.8 1406.9,1006.0 1408.2,1007.7 1409.4,1008.9 1409.5,1008.9 1410.8,1008.4 1412.1,1008.2 1413.4,1008.7 1414.7,1009.4 1416.0,1010.2 1417.3,1010.8 1418.4,1010.9 1418.6,1011.1 1419.9,1012.0 1421.2,1012.4 1422.5,1012.9 1423.8,1013.7 1424.8,1014.4 1425.1,1014.2 1426.4,1013.5 1427.7,1012.8 1429.0,1012.5 1430.3,1012.3 1431.3,1012.4 1431.6,1012.9 1432.9,1014.4 1434.2,1014.3 1435.5,1014.9 1436.4,1016.6 1436.8,1016.8 1438.1,1017.1 1439.4,1016.6 1440.7,1016.6 1442.0,1017.7 1442.8,1018.4 1443.3,1018.3 1444.6,1018.0 1445.9,1018.4 1447.2,1020.6 1448.5,1022.0 1449.8,1021.8 1450.6,1021.6 1451.1,1021.8 1452.4,1022.5 1453.7,1023.6 1455.0,1025.7 1456.3,1027.3 1457.0,1027.5 1457.6,1026.7 1458.9,1024.5 1460.2,1021.9 1461.5,1019.4 1462.1,1018.3 1462.8,1018.3 1464.1,1018.4 1465.4,1019.3 1466.7,1020.2 1468.0,1021.5 1468.6,1022.1 1469.3,1021.9 1470.6,1021.1 1471.9,1020.3 1473.2,1019.3 1474.5,1018.8 1475.8,1019.2 1476.3,1019.4 1477.1,1019.3 1478.4,1019.0 1479.7,1018.2 1481.0,1015.9 1482.3,1014.3 1482.7,1014.2 1483.6,1012.4 1484.9,1009.5 1485.3,1008.4 1486.2,1007.8 1487.5,1007.4 1488.8,1008.0 1490.1,1008.2 1490.4,1007.9 1491.4,1008.0 1492.7,1008.1 1494.0,1008.3 1495.3,1008.5 1496.3,1008.6 1496.6,1008.6 1497.9,1009.4 1499.2,1011.2 1500.5,1010.7 1501.8,1005.3 1503.1,995.3 1504.4,984.1 1505.7,978.5 1505.8,978.5 1507.0,983.4 1508.3,996.0 1509.6,1008.7 1510.9,1016.2 1512.2,1018.6 1513.5,1019.5 1513.6,1019.6 1514.8,1020.8 1516.1,1022.0 1517.4,1023.3 1517.4,1023.3 1518.7,1023.7 1520.0,1024.2 1521.3,1024.2 1522.6,1022.9 1523.9,1021.8 1525.2,1021.2 1526.4,1020.7 1526.5,1020.7 1527.8,1021.0 1529.1,1021.5 1530.4,1022.1 1531.7,1022.9 1532.8,1023.7 1533.0,1023.8 1534.3,1024.5 1535.6,1024.8 1536.9,1025.4 1538.2,1026.6 1539.5,1027.6 1540.6,1028.1 1540.8,1028.1 1542.1,1028.2 1543.4,1029.2 1544.7,1029.5 1546.0,1028.1 1547.3,1027.3 1548.6,1027.8 1549.9,1027.9 1550.8,1027.1 1551.2,1026.9 1552.5,1026.5 1553.8,1027.3 1555.1,1028.1 1556.4,1029.0 1557.7,1029.1 1559.0,1027.3 1560.3,1026.0 1561.6,1025.6 1562.4,1025.4 1562.9,1025.7 1564.2,1026.9 1565.5,1027.4 1566.8,1026.7 1568.1,1026.0 1569.4,1025.7 1570.7,1025.5 1572.0,1025.8 1573.3,1025.9 1574.6,1025.6 1575.9,1025.6 1576.6,1025.8 1577.2,1026.6 1578.5,1027.9 1579.8,1028.5 1581.1,1029.1 1581.7,1029.4 1582.4,1028.8 1583.7,1027.9 1585.0,1027.1 1586.3,1026.4 1587.6,1025.6 1588.9,1025.0 1589.4,1025.0 1590.2,1025.7 1591.5,1027.1 1592.8,1029.1 1594.1,1030.3 1595.4,1029.5 1596.7,1029.5 1597.1,1030.0 1598.0,1029.4 1599.3,1028.5 1600.6,1027.5 1601.0,1027.2 1601.9,1027.1 1603.2,1026.3 1604.5,1025.9 1605.8,1026.1 1607.1,1026.0 1607.4,1025.7 1608.4,1024.7 1609.7,1023.7 1611.0,1023.3 1612.3,1022.3 1613.1,1021.0 1613.6,1021.0 1614.9,1021.2 1616.2,1022.2 1617.5,1023.8 1618.8,1026.6 1620.1,1028.6 1620.3,1028.7 1621.4,1027.1 1622.7,1025.5 1624.0,1024.5 1625.3,1023.4 1626.6,1022.1 1627.9,1021.4 1628.0,1021.4 1629.2,1022.2 1630.5,1022.5 1631.8,1021.4 1633.1,1020.5 1634.4,1020.1 1635.7,1019.4 1637.0,1016.6 1638.3,1014.1 1639.6,1012.4 1639.6,1012.4 1640.9,1012.2 1642.2,1011.6 1643.5,1011.1 1644.8,1010.9 1646.0,1010.8 1646.1,1010.9 1647.4,1012.1 1648.7,1013.1 1650.0,1013.6 1651.1,1014.0 1651.3,1014.1 1652.6,1014.6 1653.9,1015.5 1655.2,1017.2 1656.5,1018.3 1657.8,1018.0 1658.8,1018.0 1659.1,1018.4 1660.4,1020.5 1661.7,1022.2 1663.0,1023.0 1664.3,1023.2 1665.3,1022.4 1665.6,1021.8 1666.9,1020.6 1668.2,1021.9 1669.5,1022.2 1670.4,1020.8 1670.8,1020.9 1672.1,1022.1 1673.4,1025.2 1674.7,1027.5 1675.6,1028.0 1676.0,1027.5 1677.3,1026.7 1678.6,1027.2 1679.9,1027.1 1681.2,1025.8 1682.5,1025.0 1683.8,1025.8 1685.1,1026.1 1686.4,1025.4 1687.1,1025.1 1687.7,1025.4 1689.0,1026.6 1690.3,1027.3 1691.6,1027.1 1692.3,1027.0 1692.9,1026.5 1694.2,1025.4 1695.5,1024.8 1696.8,1025.3 1698.1,1025.5 1699.4,1024.8 1700.7,1024.3 1701.3,1024.4 1702.0,1023.5 1703.3,1020.8 1704.6,1016.1 1705.9,1010.2 1706.9,1007.3 1707.2,1007.1 1708.5,1008.6 1709.8,1011.0 1711.1,1011.4 1712.4,1010.1 1713.7,1008.2 1714.1,1007.7 1715.0,1008.0 1716.3,1007.3 1717.6,1004.4 1718.9,999.5 1720.2,995.1 1720.6,994.8 1721.5,996.3 1722.8,1002.3 1724.1,1009.0 1725.4,1014.0 1726.7,1016.8 1728.0,1018.5 1728.3,1018.8 1729.3,1019.7 1730.6,1021.6 1731.9,1022.8 1733.2,1022.5 1734.5,1022.3 1734.7,1022.4 1735.8,1022.7 1737.1,1023.2 1738.4,1024.5 1739.7,1025.6 1741.0,1026.5 1742.3,1027.1 1743.6,1027.0 1743.7,1027.0 1744.9,1026.4 1746.2,1025.9 1747.5,1025.7 1748.8,1026.2 1750.1,1026.6 1751.4,1026.9 1752.7,1026.6 1754.0,1025.0 1754.0,1025.0 1755.3,1023.7 1756.6,1023.6 1757.9,1024.0 1759.2,1025.7 1760.5,1026.4 1761.8,1025.2 1763.1,1024.2 1764.3,1023.9 1764.4,1023.9 1765.7,1024.3 1767.0,1023.9 1768.3,1024.0 1769.6,1024.9 1770.9,1025.9 1772.0,1026.8 1772.2,1026.8 1773.5,1026.8 1774.8,1027.2 1776.1,1027.0 1777.4,1025.8 1778.7,1024.4 1779.7,1023.2 1780.0,1023.2 1781.3,1024.0 1782.6,1026.9 1783.9,1029.2 1784.8,1029.9 1785.2,1029.6 1786.5,1028.6 1787.7,1027.3 1787.8,1027.4 1789.1,1027.4 1790.4,1026.9 1791.7,1026.8 1793.0,1027.7 1794.3,1028.6 1795.6,1029.5 1796.9,1030.4 1798.2,1031.3 1799.3,1032.2 1799.5,1032.2 1800.8,1032.6 1802.1,1032.1 1803.4,1029.6 1804.7,1027.8 1806.0,1027.5 1807.3,1027.3 1808.3,1027.1 1808.6,1027.2 1809.9,1027.5 1811.2,1027.2 1812.5,1027.1 1813.8,1027.2 1815.1,1027.1 1816.4,1026.5 1817.7,1026.5 1818.6,1027.1 1819.0,1027.5 1820.3,1028.2 1821.6,1028.1 1822.9,1028.1 1824.2,1028.6 1825.5,1029.0 1826.8,1029.6 1828.1,1029.8 1829.4,1029.3 1830.7,1028.9 1831.4,1029.0 1832.0,1029.1 1833.3,1029.3 1834.6,1029.6 1835.9,1029.7 1837.2,1029.4 1838.5,1029.3 1839.8,1029.8 1841.1,1029.8 1842.4,1028.7 1843.7,1028.1 1844.3,1028.4 1845.0,1028.2 1846.3,1027.9 1847.6,1027.9 1848.9,1027.5 1850.2,1026.5 1851.5,1025.6 1852.8,1025.1 1854.1,1024.1 1855.4,1022.0 1855.8,1021.2 1856.7,1021.2 1858.0,1022.1 1859.3,1023.0 1860.6,1023.7 1861.9,1024.3 1863.2,1024.8 1864.5,1025.2 1864.8,1025.3 1865.8,1025.6 1867.1,1026.4 1868.4,1027.9 1869.7,1028.7 1871.0,1028.1 1872.3,1027.9 1873.6,1028.5 1874.9,1029.2 1876.2,1030.2 1876.4,1030.4 1877.5,1030.3 1878.8,1029.7 1880.1,1029.2 1881.4,1028.5 1882.7,1028.2 1884.0,1028.6 1885.3,1028.5 1885.4,1028.4 1886.6,1027.7 1887.9,1026.9 1889.2,1026.3 1890.5,1025.7 1891.8,1025.1 1893.1,1025.0 1894.4,1026.1 1895.7,1026.5 1895.7,1026.5 1897.0,1025.0 1898.3,1023.9 1899.6,1024.0 1900.9,1023.8 1902.2,1022.7 1903.5,1022.4 1904.8,1023.4 1906.0,1023.9 1906.1,1023.8 1907.4,1022.3 1908.7,1020.6 1910.0,1018.5 1911.3,1017.2 1912.6,1017.8 1913.7,1017.9 1913.9,1018.1 1915.2,1019.4 1916.5,1021.1 1917.8,1023.9 1918.8,1026.1 1919.1,1026.1 1920.4,1026.1 1921.7,1025.4 1923.0,1023.3 1924.3,1021.8 1925.6,1021.9 1926.6,1021.9 1926.9,1021.9 1928.2,1021.9 1929.5,1022.1 1930.8,1022.8 1932.1,1023.1 1933.4,1022.3 1934.3,1021.7 1934.7,1022.1 1936.0,1023.5 1937.3,1024.4 1938.6,1024.3 1939.9,1024.5 1941.2,1025.8 1942.0,1026.6 1942.5,1026.2 1943.8,1025.0 1945.1,1024.0 1946.4,1023.7 1947.7,1023.5 1949.0,1023.2 1949.7,1023.1 1950.3,1022.8 1951.6,1022.0 1952.9,1021.0 1954.2,1019.7 1955.5,1018.7 1956.8,1018.5 1957.4,1018.4 1958.1,1018.4 1959.4,1017.9 1960.7,1017.6 1962.0,1017.8 1963.3,1018.1 1964.6,1018.8 1965.9,1018.7 1967.2,1017.2 1967.7,1016.6 1968.5,1016.6 1969.8,1017.3 1971.1,1018.3 1972.4,1020.2 1973.7,1021.5 1975.0,1021.8 1975.4,1021.9 1976.3,1022.0 1977.6,1023.2 1978.9,1023.9 1980.2,1023.8 1981.5,1023.7 1982.8,1023.6 1983.1,1023.6 1984.1,1023.0 1985.4,1022.0 1986.7,1021.0 1988.0,1020.1 1989.3,1019.2 1989.6,1019.1 1990.6,1019.7 1991.9,1020.6 1993.2,1021.7 1994.5,1023.0 1995.8,1024.3 1997.1,1025.3 1998.4,1025.8 1998.6,1025.9 1999.7,1025.8 2001.0,1026.8 2002.3,1027.4 2003.6,1027.1 2004.9,1026.4 2006.2,1025.2 2006.3,1025.1 2007.5,1024.5 2008.8,1024.1 2010.1,1024.6 2011.4,1027.3 2012.7,1028.8 2012.7,1028.8 2014.0,1025.7 2015.3,1022.7 2016.6,1019.8 2016.6,1019.7 2017.9,1018.2 2019.2,1017.0 2020.5,1015.1 2021.8,1013.6 2023.0,1013.5 2023.1,1013.5 2024.4,1015.2 2025.7,1017.8 2027.0,1019.7 2028.3,1020.9 2029.6,1021.7 2030.7,1022.0 2030.9,1022.1 2032.2,1023.1 2033.5,1024.1 2034.8,1024.9 2036.1,1025.2 2037.1,1024.5 2037.4,1024.3 2038.7,1024.0 2040.0,1025.2 2041.3,1026.2 2042.6,1026.7 2043.9,1027.4 2045.2,1028.5 2046.1,1029.3 2046.5,1029.1 2047.8,1028.0 2049.1,1027.2 2050.4,1026.8 2051.7,1026.5 2052.6,1026.6 2053.0,1026.2 2054.3,1024.2 2055.6,1020.6 2056.4,1018.2 2056.9,1018.4 2058.2,1019.1 2059.5,1019.3 2060.8,1018.2 2062.1,1017.3 2062.8,1017.2 2063.4,1017.3 2064.7,1018.3 2066.0,1020.2 2067.3,1021.6 2068.6,1021.6 2069.3,1021.5 2069.9,1022.1 2071.2,1023.5 2072.5,1025.1 2073.8,1027.2 2075.1,1028.6 2075.7,1028.4 2076.4,1027.6 2077.7,1026.9 2079.0,1027.8 2080.3,1028.8 2081.6,1029.8 2082.9,1030.0 2084.2,1028.6 2085.5,1028.0 2086.8,1028.9 2088.1,1029.7 2088.6,1029.9 2089.4,1030.4 2090.7,1031.0 2092.0,1031.4 2093.3,1031.8 2094.6,1032.0 2095.9,1032.3 2097.2,1032.9 2098.5,1033.3 2099.8,1033.4 2101.1,1033.7 2101.4,1033.8 2102.4,1033.7 2103.7,1033.3 2105.0,1032.7 2106.3,1031.9 2107.6,1030.7 2108.9,1030.0 2110.2,1030.2 2111.5,1030.2 2112.8,1029.7 2114.1,1029.4 2114.3,1029.5 2115.4,1030.0 2116.7,1030.2 2118.0,1029.7 2119.3,1029.3 2120.6,1029.1 2121.9,1028.9 2123.2,1028.5 2124.5,1028.3 2124.6,1028.3 2125.8,1028.8 2127.1,1029.1 2128.4,1028.6 2129.7,1028.5 2131.0,1029.3 2132.3,1029.7 2133.6,1029.4 2134.8,1029.3 2134.9,1029.3 2136.2,1029.8 2137.5,1030.1 2138.8,1030.0 2140.1,1030.6 2141.4,1032.9 2142.7,1034.3 2144.0,1033.7 2145.3,1033.0 2146.6,1032.4 2147.7,1032.1 2147.9,1032.1 2149.2,1032.0 2150.5,1032.0 2151.8,1032.0 2153.1,1031.8 2154.4,1030.9 2155.7,1030.4 2157.0,1030.8 2158.3,1030.8 2159.6,1030.2 2160.6,1029.8 2160.9,1030.0 2162.2,1030.5 2163.5,1030.2 2164.8,1028.0 2166.1,1027.1 2167.4,1029.4 2168.7,1030.9 2170.0,1030.7 2171.3,1030.8 2172.6,1031.4 2173.4,1031.7 2173.9,1031.6 2175.2,1030.9 2176.5,1030.5 2177.8,1030.7 2179.1,1030.8 2180.4,1030.8 2181.7,1031.2 2183.0,1032.4 2184.3,1033.3 2185.6,1033.3 2186.3,1033.4 2186.9,1032.8 2188.2,1031.4 2189.5,1030.5 2190.8,1030.9 2192.1,1031.1 2193.4,1031.1 2194.7,1030.8 2196.0,1029.8 2196.6,1029.3 2197.3,1029.2 2198.6,1029.6 2199.9,1029.9 2201.2,1030.0 2202.5,1029.9 2203.8,1029.5 2205.1,1029.0 2206.4,1028.3 2207.7,1028.2 2209.0,1029.8 2210.3,1030.6 2211.6,1030.0 2212.0,1029.8 2212.9,1029.4 2214.2,1029.3 2215.5,1028.9 2216.8,1028.1 2218.1,1027.7 2219.4,1027.9 2220.7,1027.8 2222.0,1027.1 2222.3,1026.9 2223.3,1027.0 2224.6,1027.5 2225.9,1028.0 2227.2,1028.4 2228.5,1028.8 2229.8,1029.3 2231.1,1029.5 2232.4,1029.0 2232.6,1029.0 2233.7,1028.4 2235.0,1028.1 2236.3,1028.3 2237.6,1029.3 2238.9,1029.5 2240.2,1027.8 2241.5,1026.8 2242.8,1027.6 2242.8,1027.6 2244.1,1028.6 2245.4,1028.9 2246.7,1029.3 2248.0,1030.2 2249.3,1030.8 2250.6,1030.5 2250.6,1030.5 2251.9,1029.7 2253.2,1029.1 2254.5,1028.8 2255.8,1029.2 2257.1,1029.1 2258.4,1028.0 2259.7,1027.2 2260.8,1027.1 2261.0,1027.2 2262.3,1027.6 2263.6,1028.3 2264.9,1028.8 2266.2,1029.0 2267.5,1028.9 2268.8,1028.0 2270.1,1028.0 2271.1,1029.3 2271.4,1029.6 2272.7,1030.4 2274.0,1029.4 2275.3,1028.9 2276.6,1029.5 2277.9,1029.9 2279.2,1029.6 2280.5,1029.2 2281.4,1028.7 2281.8,1028.6 2283.1,1028.5 2284.4,1028.6 2285.7,1028.6 2287.0,1028.3 2288.3,1028.7 2289.6,1030.5 2290.4,1031.7 2290.5,1031.8" stroke="#FF0000" stroke-width="4.8"/>
</g>
<g>
<text filter="url(#crisp)" transform="translate(203.16,1792.60) scale(1,1.03)" font-family="'Liberation Sans',sans-serif" font-size="70" text-anchor="middle" fill="#000">10</text>
<text filter="url(#crisp)" transform="translate(464.00,1792.60) scale(1,1.03)" font-family="'Liberation Sans',sans-serif" font-size="70" text-anchor="middle" fill="#000">20</text>
<text filter="url(#crisp)" transform="translate(724.84,1792.60) scale(1,1.03)" font-family="'Liberation Sans',sans-serif" font-size="70" text-anchor="middle" fill="#000">30</text>
<text filter="url(#crisp)" transform="translate(985.68,1792.60) scale(1,1.03)" font-family="'Liberation Sans',sans-serif" font-size="70" text-anchor="middle" fill="#000">40</text>
<text filter="url(#crisp)" transform="translate(1246.52,1792.60) scale(1,1.03)" font-family="'Liberation Sans',sans-serif" font-size="70" text-anchor="middle" fill="#000">50</text>
<text filter="url(#crisp)" transform="translate(1507.36,1792.60) scale(1,1.03)" font-family="'Liberation Sans',sans-serif" font-size="70" text-anchor="middle" fill="#000">60</text>
<text filter="url(#crisp)" transform="translate(1768.20,1792.60) scale(1,1.03)" font-family="'Liberation Sans',sans-serif" font-size="70" text-anchor="middle" fill="#000">70</text>
<text filter="url(#crisp)" transform="translate(2029.04,1792.60) scale(1,1.03)" font-family="'Liberation Sans',sans-serif" font-size="70" text-anchor="middle" fill="#000">80</text>
<text filter="url(#crisp)" transform="translate(2289.88,1792.60) scale(1,1.03)" font-family="'Liberation Sans',sans-serif" font-size="70" text-anchor="middle" fill="#000">90</text>
<text filter="url(#crisp)" transform="translate(2270.67,408.20) scale(1,1.065)" font-family="'Liberation Sans',sans-serif" font-size="70" text-anchor="end" fill="#000000">CC</text>
<text filter="url(#crisp)" transform="translate(2270.67,601.00) scale(1,1.065)" font-family="'Liberation Sans',sans-serif" font-size="70" text-anchor="end" fill="#FF00FF">Co100-CC</text>
<text filter="url(#crisp)" transform="translate(2268.07,800.30) scale(1,1.065)" font-family="'Liberation Sans',sans-serif" font-size="70" text-anchor="end" fill="#FF8012">Co90Ce10-CC</text>
<text filter="url(#crisp)" transform="translate(2264.17,1001.00) scale(1,1.065)" font-family="'Liberation Sans',sans-serif" font-size="70" text-anchor="end" fill="#FF0000">Co75Ce25-CC</text>
<text filter="url(#crisp)" transform="translate(2264.17,1173.30) scale(1,1.065)" font-family="'Liberation Sans',sans-serif" font-size="70" text-anchor="end" fill="#0000FF">Co50Ce50-CC</text>
<text filter="url(#crisp)" transform="translate(2264.17,1343.10) scale(1,1.065)" font-family="'Liberation Sans',sans-serif" font-size="70" text-anchor="end" fill="#009200">Co25Ce75-CC</text>
<text filter="url(#crisp)" transform="translate(2268.07,1527.00) scale(1,1.065)" font-family="'Liberation Sans',sans-serif" font-size="70" text-anchor="end" fill="#9900FF">Ce100-CC</text>
<text filter="url(#crisp)" transform="translate(1663.20,125.90) scale(1,1.065)" font-family="'Liberation Sans',sans-serif" font-size="70" text-anchor="start" fill="#000">Co<tspan dy="18.12" font-size="48.5">3</tspan><tspan dy="-18.12">O</tspan><tspan dy="18.12" font-size="48.5">4</tspan></text>
<text filter="url(#crisp)" transform="translate(2043.35,128.90) scale(1,1.065)" font-family="'Liberation Sans',sans-serif" font-size="70" text-anchor="start" fill="#000">CeO<tspan dy="18.12" font-size="48.5">2</tspan></text>
<text filter="url(#crisp)" stroke="#000" stroke-width="1.15" stroke-linejoin="miter" transform="translate(1590.61,136.96) scale(1.0552,1.0010)" font-family="'Liberation Sans',sans-serif" font-size="70" fill="#000">*</text>
<text filter="url(#crisp)" transform="translate(1983.69,130.76) scale(1.0859,1.2230)" font-family="'Liberation Sans',sans-serif" font-size="70" fill="#000">•</text>
<text filter="url(#crisp)" stroke="#000" stroke-width="1.15" stroke-linejoin="miter" transform="translate(421.81,573.91) scale(1.0552,1.0010)" font-family="'Liberation Sans',sans-serif" font-size="70" fill="#000">*</text>
<text filter="url(#crisp)" stroke="#000" stroke-width="1.15" stroke-linejoin="miter" transform="translate(744.61,572.71) scale(1.0552,1.0010)" font-family="'Liberation Sans',sans-serif" font-size="70" fill="#000">*</text>
<text filter="url(#crisp)" stroke="#000" stroke-width="1.15" stroke-linejoin="miter" transform="translate(893.71,532.81) scale(1.0552,1.0010)" font-family="'Liberation Sans',sans-serif" font-size="70" fill="#000">*</text>
<text filter="url(#crisp)" stroke="#000" stroke-width="1.15" stroke-linejoin="miter" transform="translate(1092.61,607.41) scale(1.0552,1.0010)" font-family="'Liberation Sans',sans-serif" font-size="70" fill="#000">*</text>
<text filter="url(#crisp)" stroke="#000" stroke-width="1.15" stroke-linejoin="miter" transform="translate(1466.61,609.91) scale(1.0552,1.0010)" font-family="'Liberation Sans',sans-serif" font-size="70" fill="#000">*</text>
<text filter="url(#crisp)" stroke="#000" stroke-width="1.15" stroke-linejoin="miter" transform="translate(1630.31,594.51) scale(1.0552,1.0010)" font-family="'Liberation Sans',sans-serif" font-size="70" fill="#000">*</text>
<text filter="url(#crisp)" transform="translate(677.19,1386.96) scale(1.0859,1.2230)" font-family="'Liberation Sans',sans-serif" font-size="70" fill="#000">•</text>
<text filter="url(#crisp)" transform="translate(796.69,1500.06) scale(1.0859,1.2230)" font-family="'Liberation Sans',sans-serif" font-size="70" fill="#000">•</text>
<text filter="url(#crisp)" transform="translate(1172.89,1469.76) scale(1.0859,1.2230)" font-family="'Liberation Sans',sans-serif" font-size="70" fill="#000">•</text>
<text filter="url(#crisp)" transform="translate(1406.19,1490.26) scale(1.0859,1.2230)" font-family="'Liberation Sans',sans-serif" font-size="70" fill="#000">•</text>
<text filter="url(#crisp)" transform="translate(1142.60,1936.00) scale(1,1.05)" font-family="'Liberation Sans',sans-serif" font-size="86" text-anchor="start" fill="#000">2</text>
<text filter="url(#crisp)" transform="translate(1191.06,1936.26) scale(1.1519,1.0021)" font-family="'Liberation Serif',serif" font-size="86" fill="#000">θ</text>
<text filter="url(#crisp)" transform="translate(1261.02,1935.12) scale(0.8771,0.9985)" font-family="'Liberation Sans',sans-serif" font-size="86" fill="#000">(</text>
<text filter="url(#crisp)" transform="translate(1289.56,1932.31) scale(0.9833,1.0027)" font-family="'Liberation Sans',sans-serif" font-size="86" fill="#000">°</text>
<text filter="url(#crisp)" transform="translate(1327.46,1935.12) scale(0.8771,0.9985)" font-family="'Liberation Sans',sans-serif" font-size="86" fill="#000">)</text>
<text filter="url(#crisp)" transform="translate(97.1,862.7) rotate(-90) scale(1.0068,1.066)" font-family="'Liberation Sans',sans-serif" font-size="86" text-anchor="middle" fill="#000">Intensity (a.u.)</text>
</g>
</svg>
</body></html>
